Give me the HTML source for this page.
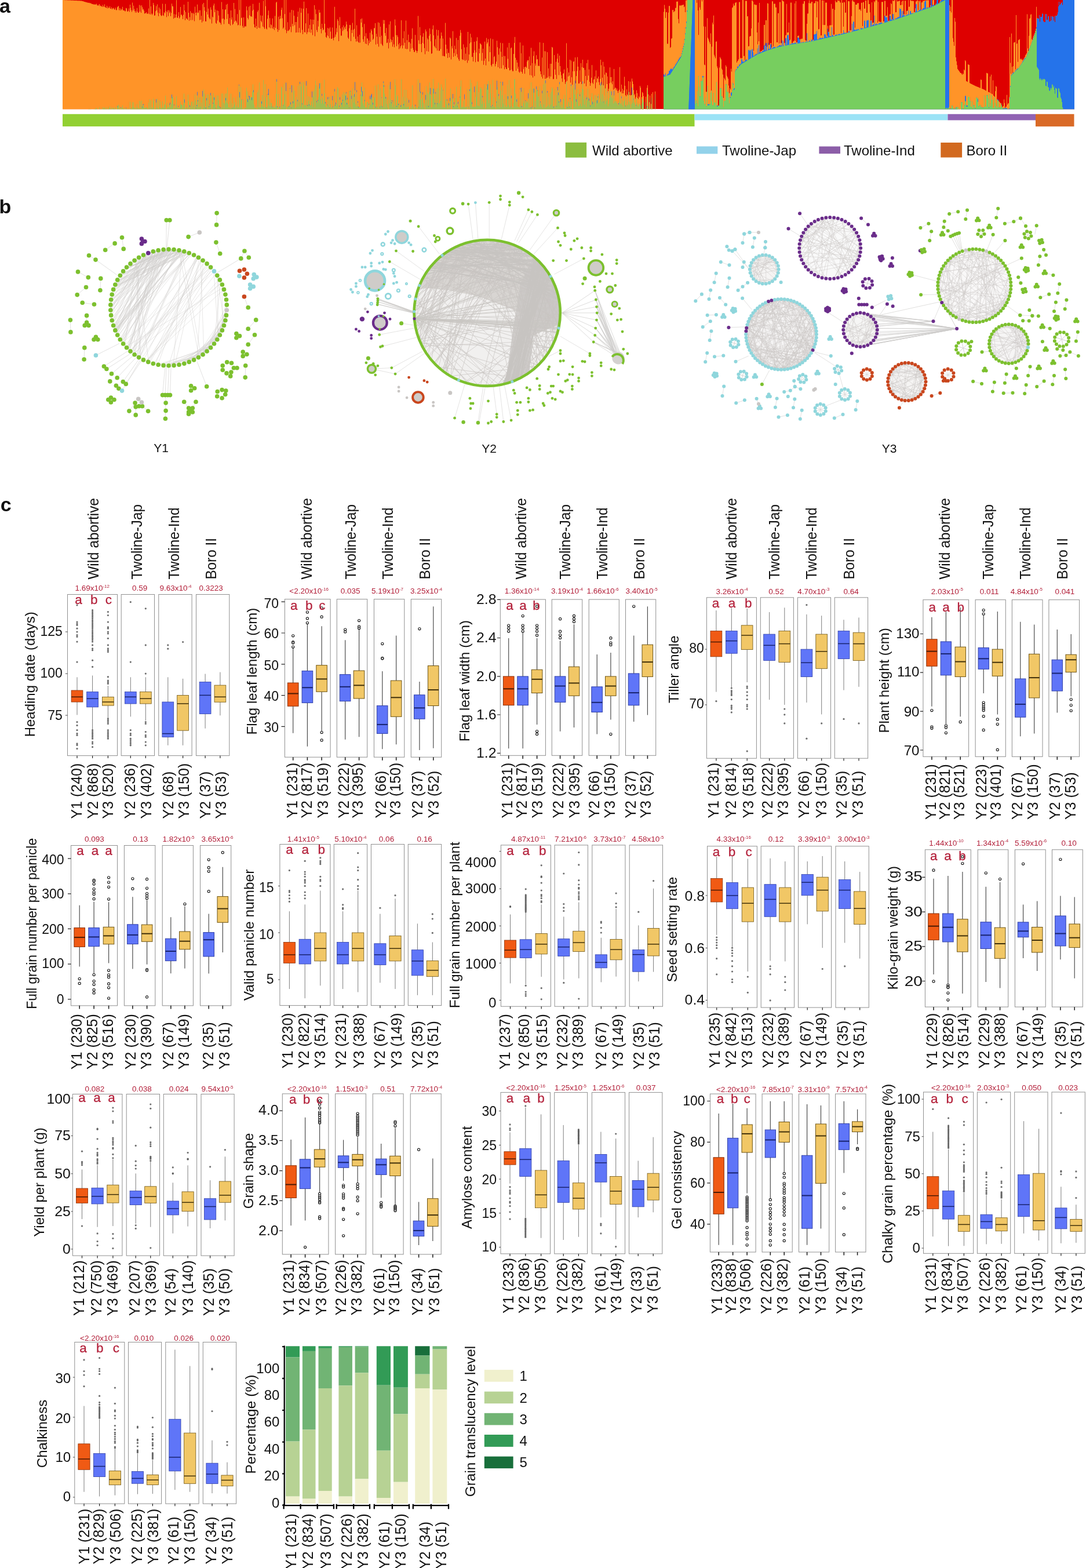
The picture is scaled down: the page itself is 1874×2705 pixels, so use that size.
<!DOCTYPE html>
<html lang="en"><head><meta charset="utf-8"><title>Figure</title>
<style>html,body{margin:0;padding:0;background:#fff}body{width:1874px;height:2705px;overflow:hidden}svg{display:block}text{white-space:pre}</style>
</head><body>
<svg width="1874" height="2705" viewBox="0 0 1874 2705" font-family="&quot;Liberation Sans&quot;, Arial, Helvetica, sans-serif" fill="#111">
<rect width="1874" height="2705" fill="#fff"/>
<g id="panel-a"><rect x="108.5" y="0" width="1745" height="188.1" fill="#de0000"/>
<path d="M108,188.6V0h1V0.1h2V0.2h3V0.3h2V0.4h2V0.5h2V0.6h2V0.7h2V0.8h3V0.9h2V1h2V1.1h2V1.2h3V1.3h2V1.4h2V1.5h1V1.7h1V2h1V2.3h1V2.6h1V2.9h1V3.2h1V3.5h1V3.8h1V4.1h1V4.4h1V4.5h1V4.7h1V5h1V4.8h1V5.7h1V5.2h1V6.2h1V6.7h1V7h1V7.2h1V7.4h1V7.8h1V7.5h1V7.9h1V7.5h1V6.6h1V9.1h1V9.2h1V9.9h1V8.6h1V7.1h1V10.6h1V9.5h1V10.5h1V11h1V12h1V8.4h1V10.9h1V11.9h1V7.6h1V12.3h1V13h1V13.8h1V9.9h1V14.6h1V12.1h1V13.9h1V13.6h1V10.9h1V14.8h1V15.3h1V12.6h1V15.9h1V13.9h1V15.3h1V13.4h1V16.6h1V16.3h1V13.2h1V17.4h1V17.2h1V12.5h1V11.2h1V10.2h1V17.6h1V14h1V18h1V14.9h1V17.5h1V15.8h1V11.7h1V17.7h1V18h2V19.6h1V19.3h1V13.7h1V14.6h1V19.4h1V19.9h1V18.8h1V14.6h1V20.6h1V8h1V13.6h1V17.4h1V20.4h1V4.6h1V17.9h1V9.7h1V15.6h1V19h1V21.7h1V18.7h1V21.8h1V13.8h1V20h1V22.1h1V21.7h1V8.6h1V19.9h1V9.6h1V22h1V9.2h1V12.4h1V16.5h1V15.4h1V18.6h1V23.6h1V23h1V22.4h1V21.1h1V23.5h1V23.8h1V23.2h1V14.4h1V24.3h1V0h1V24.9h1V10.9h1V23.4h1V25.7h1V23.6h1V5.1h1V8.4h1V27h1V26.4h1V19.2h1V10.5h1V17.7h1V7.5h1V21.7h1V28.1h1V13.1h1V23.1h1V15.4h1V26h1V27.8h1V26.8h1V6.6h1V26.3h1V27.5h1V20.9h1V22.7h1V6.8h1V19.3h1V29.6h1V20.8h1V17.8h1V27.8h1V17.6h1V22.4h1V19.9h1V28.1h1V22.2h1V6.2h1V10.5h1V11.3h1V32.2h1V24.3h1V30.9h1V30.2h1V25.1h1V0.3h1V30.3h1V30.9h1V27.8h1V21.1h1V31.9h1V29.7h1V12.1h1V25.8h1V25h1V27.5h1V33.1h1V25.5h1V8h1V18h1V34.7h1V20.8h1V31.4h1V32.5h1V34h1V2.9h1V21.9h1V35.8h1V29.5h1V19.3h1V34.7h1V21.7h1V22.9h1V34.4h1V22h1V24.1h1V36.4h1V11.4h1V22.1h1V26.5h1V21.5h1V7.7h1V22.4h1V21.6h1V17.9h1V34.5h1V17.7h1V34h1V27.2h1V38.8h1V7.2h1V36.6h1V5h1V12.2h1V18.4h1V36.7h1V36.9h1V20.5h1V0h1V25h1V14.7h1V29.4h1V31.5h1V33.2h1V12.4h1V16.8h1V40.6h1V28.4h1V29.7h1V9.6h1V6.3h1V20.9h1V16.6h1V39.6h1V40.9h1V18h1V35.5h1V18.7h1V26.8h1V37.8h1V39.3h1V39.4h1V42.5h1V3.4h1V32.6h1V16h1V32h1V41.6h1V33.7h1V17h1V16h1V8.1h1V32.8h1V6.7h1V24.3h1V40.9h1V41.7h1V30.9h1V43.9h1V17.9h1V33.8h1V30.1h1V42.8h1V40.9h1V5h1V37.4h1V15.6h1V35.6h1V36.6h1V39.3h1V24.3h1V43.8h1V42.8h1V0h1V17.2h1V43.9h1V0h1V31.3h1V30.2h1V44.7h1V47.7h1V30h1V47.5h1V45.3h1V45.4h1V45.5h1V11.1h1V17.7h1V30.9h1V33.4h1V11.7h1V26.5h1V9.9h1V28.2h1V28h1V29h1V18.4h1V6.7h1V16.7h1V41.7h1V47.1h1V47.7h1V32h1V45.1h1V49.8h1V20.4h1V17.7h1V47.7h1V4.8h1V48.4h1V26.6h1V35.9h1V38.3h1V27.1h1V45.8h1V1.6h1V47.3h1V50.1h1V0h1V10.7h1V49.3h1V50.8h1V32.5h1V26.3h1V18.2h1V47.3h1V31.2h1V48.7h1V41.9h1V43.2h1V48.8h1V31.8h1V49.7h1V46.5h1V51.8h1V27.5h1V48.1h1V4.5h1V2.9h1V50.2h1V55h1V28.7h1V51.9h1V33.1h1V27.3h1V31.9h1V17h1V13.2h1V31.4h1V49.5h1V47.4h1V0h1V24.2h1V51.6h1V0h1V57.2h1V53.2h1V38.2h1V53.5h1V52.5h1V50.7h1V21.5h1V46.2h1V55.5h1V17.1h1V41.2h1V45.2h1V18.1h1V27.3h1V43.4h1V37.9h1V56.3h1V38.1h1V55.9h1V29.1h1V19.9h1V56.1h1V48.2h1V13.5h1V56.4h1V21.9h1V14.6h1V51.4h1V58.9h1V14.9h1V2.7h1V55.2h1V56h1V40.3h1V14.1h1V58.8h1V55.6h1V23.2h1V49.2h1V55.4h1V42.9h1V33.2h1V56.4h1V51h1V33.8h1V60.5h1V42.1h1V34.1h1V9.1h1V62.6h1V16.2h1V24.3h1V51.8h1V55.2h1V35.7h1V45.8h1V17h1V22.1h1V21.5h1V50h1V57.4h1V40.9h1V48.2h1V52.3h1V50.7h1V0h1V40.9h1V56.1h1V63.8h1V65.3h1V60.9h1V48.2h1V62.5h1V49.2h1V66.1h1V47.2h1V54.6h1V66.7h1V66.9h1V47.4h1V65.8h1V69.4h1V65.1h1V11.7h1V63.5h1V59.5h1V48.5h1V55.5h1V33.3h1V35.9h1V70.9h1V43.8h1V29.4h1V49.3h1V61.6h1V61.5h1V47.1h1V53.6h1V43.7h1V51.3h1V47.6h1V45.4h1V50.2h1V37.2h1V42.2h1V54.1h1V64.7h1V66.9h1V48.7h1V43h1V43.3h1V71h1V51.6h1V57.1h1V39.4h1V51.5h1V63.6h1V49.7h1V15h1V67.1h1V71.8h1V43.5h1V71.3h1V63h1V72.4h1V73.7h1V60h1V73.6h1V33.1h1V38.9h1V31.7h1V46.7h1V67.7h1V72h1V41.2h1V62.5h1V75.3h1V57.2h1V76h1V66.2h1V66.5h1V78.3h1V69.7h1V74.4h1V56.6h1V71.9h1V50.4h1V53.2h1V59.4h1V68.7h1V66.7h1V48.5h2V40h1V76.7h1V58.3h1V63.2h1V75.7h1V38.5h1V80.6h1V39.5h1V63.8h1V46h1V75.4h1V61.4h1V77.3h1V79.3h1V34.4h1V41.1h1V34.8h1V57h1V61.8h1V48.2h1V74.2h1V73.6h1V67.3h1V83.6h1V42.3h1V73.7h1V36.8h1V67.4h1V72.4h1V69.1h1V80.5h1V63.5h1V76.6h1V81.5h1V33.4h1V44.1h1V60.5h1V79.8h1V60.8h1V63.8h1V76.5h1V84.8h1V74.3h1V83.3h1V79.8h1V35h1V77.9h1V83.6h1V66.1h1V78.4h1V53.8h1V73.7h1V83.9h1V35.5h1V84.8h1V69.2h1V84.4h1V59.7h1V72.7h1V72.4h1V89h1V75h1V83.7h1V67.1h1V48.8h1V82.7h1V85.9h1V89.4h1V89.7h1V60.2h1V86.8h1V87.8h1V91.3h1V88.1h1V27.5h1V69.4h1V75.8h1V46.8h1V60.9h1V75.9h1V89.9h1V74.1h1V63.6h1V57.2h1V75.3h1V82.9h1V93.6h1V50.7h1V54.3h1V88.3h1V65.4h1V68h1V89.1h1V61.7h1V49h1V58.7h1V71.2h1V92.7h1V92.1h1V50.4h1V43.7h1V61h1V79.3h1V81.5h1V67.4h1V83.2h1V51.3h1V87.3h1V61.4h1V52.1h1V87.7h1V87.6h1V66.3h1V84.5h1V56.1h1V61.7h1V96.5h1V66.4h1V96.4h1V97h1V97.3h1V39.5h1V77h1V92.6h1V84.3h1V100h1V91h1V91.5h1V99h1V64.7h1V66.6h1V102.4h1V79.5h1V83.5h1V53.8h1V98.1h1V91.4h1V78.7h1V96.4h1V84.8h1V65.6h1V93.4h1V99.2h1V69.1h1V102.3h1V105.1h1V61.8h1V51.8h1V56.4h1V84.8h1V101.9h1V103.4h1V76.5h1V103.3h1V81.7h1V104.9h1V92.5h1V103.6h1V81.3h1V108.5h1V55.1h1V104.6h1V93.9h1V75h1V58.3h1V73h1V64.4h1V98.3h1V97.9h1V106h1V90.9h1V71.9h1V86.7h1V107.2h1V90.5h1V70.7h1V64.3h1V105.9h1V106.5h1V83.9h1V92h1V74.8h1V75.7h1V77.2h1V104.8h1V91.2h1V83.9h1V111.7h1V104.7h1V71.8h1V101.1h1V112.7h1V65.6h1V75.4h1V72.9h1V67.5h1V106h1V79.8h1V90h1V66.2h1V112.3h1V114.7h1V110.6h1V67.4h1V110.3h1V98.3h1V96.4h1V114.5h1V110.3h1V106.2h1V70.3h1V81.4h1V115.9h1V94.2h1V83.6h1V117.9h1V73.8h1V89.2h1V117.9h1V97.9h1V74.6h1V112.5h1V96.6h1V119.5h1V96.8h1V116h1V119.1h1V119.2h1V81.8h1V101.4h1V117.1h1V73.9h1V121.4h1V120.8h1V83.3h1V81.9h1V120.1h1V122.8h2V92.9h1V74h1V63.7h1V99.8h1V122.1h1V103.6h1V108h1V118.4h1V114.9h1V123.7h1V125.4h1V73.3h1V123.5h1V91.8h1V123.9h1V127h1V78.6h1V119.2h1V115.7h1V127.2h1V115.2h1V114.9h1V117h1V106.2h1V103.7h1V104h1V119h1V97.5h1V129.5h1V112.9h1V82.6h1V130.2h1V108.7h1V133.7h1V96.5h1V88.5h1V131.3h1V109.5h1V113.2h1V95.3h1V102.4h1V102.1h1V113.8h1V113.3h1V114.1h1V73h1V123h1V127.9h1V132.4h1V99.3h1V135.5h1V74h1V129.4h1V88.3h1V135.9h1V88.5h1V135.7h1V134h1V90.1h1V133.7h1V118.1h1V131.5h1V135.6h1V110h1V132.1h1V110.1h1V81h1V82.3h1V136.5h1V136.3h1V94.9h1V119.8h1V129h1V106.6h1V136.3h1V101.3h1V92.5h1V107.9h1V129.5h1V96.1h1V114h1V123.8h1V129.7h1V135.3h1V141.3h1V127.2h1V126.2h1V119.7h1V137.1h1V144.7h1V141.2h1V74.5h1V139.6h1V117.3h1V131.9h1V125h1V130.6h1V103h1V142.6h1V104.4h1V133.3h1V145.9h1V122.9h1V106.5h1V105.8h1V122.7h1V99h1V143.8h1V131.3h1V122.2h1V98.5h1V114.9h1V144.2h1V143.8h1V121.3h1V141.2h1V108.9h1V145.1h1V115.7h1V103.1h1V117.2h1V117.1h1V144.1h1V120.4h1V131.1h1V148.7h1V109.1h1V138.2h1V103.3h1V130.6h1V119.7h1V141.3h1V148h1V143.5h1V133.9h1V112.3h1V142.8h1V144.8h1V137.3h1V136.6h1V131.8h1V152.6h1V121.4h1V142.3h1V134.7h1V136h1V131.9h1V141.7h1V146.5h1V136h1V102.9h1V112.4h1V146.4h1V133.9h1V106.7h1V147.3h1V114.8h1V128.8h1V152.4h1V124.7h1V125.9h1V145h1V131.8h1V157h1V153.1h1V143.6h1V116.2h1V133.1h1V142.5h1V133.1h1V145.2h1V140.3h1V154.8h1V119.1h1V153.4h1V151.2h1V151.4h1V155.5h1V152.7h1V156.8h1V160.2h1V156.5h1V154.7h1V115.7h1V158.9h1V157.6h1V146.1h1V161.1h1V153.2h1V160.9h1V156.1h1V132.4h1V148.1h1V163.9h1V165.9h1V154.2h1V162.7h1V164.4h1V139.9h1V158.7h1V164h1V140.7h1V164.5h1V163.9h1V135.6h1V140.5h1V144.9h1V155.5h1V164.3h1V162.1h1V170.5h1V167.4h1V155.8h1V160.8h1V169h1V171h1V165.9h1V168h1V148.2h1V151.3h1V188.6h1V167.4h1V158.8h1V160.5h1V165.7h1V188.6h3V166.7h1V188.6h1V151.6h1V146.9h1V162.7h1V188.6h1V176.3h1V164.7h1V188.6h1V179.3h1V162.1h1V188.6h1V159.1h1V188.6h3V157.7h1V188.6h14V20.5h1V8.5h1V14.9h1V30.9h1V21.1h1V21h1V75.6h1V75.4h1V21.8h1V10.3h2V82.4h1V81.3h1V66.8h1V65.9h1V17.3h1V17.1h1V21.1h1V19.4h1V19.2h1V13.8h1V13.6h1V2.7h2V2.6h1V32.8h1V40.3h1V9.6h1V9.5h1V9.6h1V9.4h1V9h1V8.7h1V8.3h1V7.9h1V12.3h1V11h1V20.9h1V0.7h1V0.6h1V0.3h1V0h16V4.8h1V0h1V18h1V60.3h1V0h1V12.8h1V16.8h1V0h2V2.4h1V0h2V45.4h1V111.4h1V112.5h1V46h1V158.2h1V158.6h1V31.3h1V65h1V67.3h1V70.3h1V72.9h1V75.9h1V57.5h1V156.4h1V80.6h1V39h1V42h1V26.8h1V94.4h1V97.4h1V100.4h1V72.1h1V71.3h1V114.6h1V117.6h1V181.9h1V182h1V116.4h1V98.4h1V100.4h1V102.4h1V118.4h1V120.4h1V128.5h1V168.9h1V133.9h1V135.9h1V138.4h1V112.6h1V115.1h1V130.7h1V133.2h1V135.7h1V147.5h1V160.7h1V151.9h1V154.3h1V118.5h1V123.5h1V13.5h1V12.4h1V6.2h1V9.7h1V9.6h1V5.3h1V4.2h1V4.1h1V108h1V105.6h1V104.5h1V102.3h1V3.5h2V100.7h1V99.6h1V101.2h1V100h1V0.1h2V96.8h1V96.2h1V103.4h1V1.4h3V28.2h1V28h1V79.9h1V79.4h1V63h1V62.6h1V62.1h1V49h1V1.1h2V3.1h1V87.7h1V7.7h1V7.6h1V8.5h1V8.4h2V55.9h1V76.6h1V38.8h1V71.2h1V5.1h1V89.2h1V88.8h1V88.1h1V87.7h1V86.3h1V85.9h1V85.5h1V43h1V42.8h1V78.9h1V35h1V34.8h1V80.4h1V5.4h1V6.2h1V77.5h1V77.2h1V76.9h1V74.5h1V74.2h1V81.9h1V2.3h2V79.5h1V6.4h3V12.8h1V12.7h1V73.1h1V72.9h1V22.8h1V22.7h1V75.1h1V3.4h2V74.4h1V74.2h1V0.2h1V1.2h1V1.9h1V2.7h1V74.2h1V74h1V60.7h1V60.5h1V6.8h1V56.3h1V56.1h1V55.9h1V38.7h1V69.4h1V68.6h1V4.6h2V74h1V73.9h1V71.6h1V71.5h1V69.9h1V5.7h1V70.7h1V2.1h1V72.9h1V72.8h1V61.9h1V61.8h1V61.6h1V68h1V67.9h1V67.6h1V67.5h1V66.6h1V66.7h1V6.5h2V2h2V69h1V70.1h1V69.9h1V41h1V23.4h1V23.3h1V5.2h1V0.4h1V5.7h1V5.6h2V3h2V68.8h1V68.5h1V5.4h2V5.3h1V1.8h2V30h1V2.4h2V50.5h1V50.3h1V0h2V61.3h1V61.1h1V0.8h2V42.9h1V1h1V43.3h1V43.1h1V4.6h1V4.4h2V61.5h1V44.6h1V55h1V54.8h1V43.7h1V43.5h1V43.4h1V6.8h1V43.3h1V15.2h1V15.1h1V59.7h1V59.5h1V17h1V1.1h1V3.8h2V3.7h1V0.4h1V1.3h3V4h1V4.5h1V56.9h1V0h1V4.8h2V46h1V3.3h1V4.3h1V21.9h1V21.8h1V0h1V56.2h1V55.9h1V1.7h1V2.2h2V52.4h1V52.2h1V51.9h1V27.8h1V1.7h1V0.1h1V2.7h2V3.8h1V47.8h1V8.1h1V8h2V5.4h2V5.3h1V16.4h1V16.3h1V16.2h1V18.8h1V4.8h2V45.1h1V3.8h2V14.9h1V14.8h1V1.1h1V1h1V22.1h1V21.9h1V0.2h2V7.1h1V7h1V21.2h1V35.6h1V35.3h1V3.9h1V39.4h1V39.1h1V38.9h1V2.1h1V4h1V0.7h1V0.3h2V0.6h1V38.9h1V3.2h1V37.1h1V36.8h1V38.3h1V38h1V37.8h1V3.2h1V3.4h1V3.3h1V37.1h1V36.8h1V1.6h2V27.6h1V27.3h1V27h1V12.2h1V36.1h1V35.8h1V35.5h1V24.8h1V24.6h1V5.5h1V6.9h1V32.9h1V1.3h1V1.2h1V2.1h1V0.3h2V21.2h1V21h1V0.3h1V2.6h1V2.5h1V1.7h2V0.9h1V8.9h1V8.7h1V2.7h1V8.4h1V1.7h1V1.1h1V24.8h1V24.5h1V1.3h1V1.2h1V24.8h1V18.9h1V18.6h1V18.4h1V0.2h1V11.7h1V11.6h1V0.6h2V1.6h3V1.8h2V20.7h1V20.4h1V14.2h1V2.4h1V2.3h1V0.7h2V17.1h1V1.6h2V3.9h1V1.1h1V16.4h1V4.2h1V4.1h1V1.4h3V1h1V0.5h1V1.1h1V0.4h5V12.8h1V12.5h1V9h1V0h2V10h1V0.3h1V0.2h1V0h1V9.5h1V9h1V6.8h1V6.3h1V0h3V5.7h1V5.2h1V2.9h1V0.2h1V0.7h1V0.5h1V0h13V9h1V19h1V11.6h1V21.6h1V0h2V65.7h1V72.3h1V79h1V30.9h1V37.6h1V99h1V105.7h1V112.3h1V119h1V120.4h1V121.8h1V123.3h1V124.7h1V126.1h2V127.5h1V128.9h1V126.6h1V128.1h1V120.1h1V121.6h1V104.1h1V105.5h1V140.1h1V140.6h1V141.2h1V111.1h1V111.6h1V112.1h1V143.3h1V143.9h1V144.4h1V144.9h1V145.5h1V146h1V146.6h1V147.1h1V147.6h1V148.1h1V148.5h1V148.9h1V149.3h1V149.7h1V150.1h1V150.6h1V151h1V151.4h1V151.8h1V137.3h1V137.7h1V153h1V153.4h1V153.8h1V154.3h1V154.8h1V155.3h1V155.9h1V156.4h1V125.7h1V126.2h1V126.8h1V158.6h1V159.1h1V159.6h1V131.9h1V160.7h1V128.7h1V161.8h1V162.6h1V138.5h1V164.8h1V165.9h1V167h1V157.3h1V148.6h1V149.7h1V171.3h1V172.4h1V173.5h1V174.5h1V175.6h1V176.7h1V177.8h1V180.8h1V184.4h1V187.9h1V183.4h1V183.3h1V171.6h1V177.8h1V186.2h1V184.2h1V184.1h1V163.8h1V180.5h1V178.3h2V167.4h1V64h1V108.6h1V127.2h1V57.7h1V115.3h1V125.7h1V114.2h1V73.6h1V73h1V72.4h1V119.8h1V25.9h1V75.4h1V74.8h1V106.7h1V69.2h1V68.4h1V67.6h1V102.3h1V101h1V102.9h1V101.6h1V104.3h1V102.9h1V101.5h1V99.7h1V98.3h1V95.2h1V93.8h1V92.1h1V24.6h1V83.4h1V87.9h1V61.7h1V32.2h1V31.2h1V25.3h1V24.5h1V67.6h1V68.8h1V64.7h1V61.8h1V59.3h1V56.8h1V53.6h1V49.7h1V11.7h1V31.6h2V32.3h2V26.6h1V37.8h1V29.3h3V23.8h2V36.3h1V37.9h3V24.6h2V34.5h2V28.2h2V37h2V36.6h1V27.8h1V35.4h1V28.4h2V29.3h1V35.7h1V28.5h1V37.9h1V27.5h3V25.5h1V21.6h1V11h1V3.3h1V9.3h1V7.8h1V6.4h1V4.9h1V3.7h1V8.7h1V0h20V188.6z" fill="#ff9428"/>
<path d="M108,188.6V188.6h44V188.3h2V187.8h1V188.5h1V188.1h1V188.4h1V188.5h2V188.4h1V188.3h1V188.5h1V187.8h1V187.9h1V187.2h1V186h1V188.2h1V188.3h1V188.4h1V188.3h1V185h1V188.3h1V188h1V187.7h1V188.2h1V188.3h1V184.7h1V186.7h1V187.3h1V185h1V187.1h1V187.8h1V188.1h1V184.8h1V188.3h1V188h1V187h1V186.5h1V183.6h1V187.3h1V187.9h1V185.2h1V188.2h1V185.8h1V187.1h1V186h1V188h1V187.6h1V184.4h1V188.4h1V188.1h1V184.2h1V181.7h1V180.7h1V188.1h1V184.1h1V188h1V186h1V187.6h1V185.4h1V181.8h1V187.5h1V187.1h1V186.9h1V188.3h1V187.9h1V186.5h1V187.6h1V187.9h2V186.9h1V187.9h1V188.2h1V175.5h1V187.3h1V186.9h1V187.3h1V176.2h1V184.9h1V176.2h1V186.4h2V188h1V184.8h1V187.8h1V179.4h1V185.7h1V187.4h1V187.1h1V173.9h1V187.7h1V174.3h1V186.9h1V173.6h1V185.3h1V181.3h1V181.1h1V184.9h1V187.3h1V186.5h1V185.8h1V184.3h1V186.8h2V187.9h1V177h1V186.8h1V171.2h1V187.3h1V172.9h1V185.2h1V187.4h1V185.5h1V170h1V174.2h1V188.2h1V187.4h1V187.8h1V177h1V186.1h1V170.2h1V186.3h1V188.1h1V173h1V185h1V175.2h1V186.3h1V187.1h1V185.9h1V174.8h1V185.1h1V186.4h1V179.4h1V181.1h1V165h1V188.5h1V187.6h1V185.4h1V177.8h1V185.5h1V184.8h1V180.8h1V179.8h1V185h1V178.9h1V169.4h1V166.9h1V167.7h1V188.3h1V181.8h1V186.7h1V185.9h1V180.7h1V165.8h1V185.6h1V186h1V184.3h1V187h1V186.5h1V184.2h1V174.8h1V180h1V180.8h1V181.4h1V187.3h1V179.2h1V161.6h1V177.3h1V188h1V186.7h1V185.2h1V185.4h1V187.4h1V163.3h1V174.5h1V188.2h1V184.1h1V182.5h1V187.1h1V175.9h1V174.7h1V186.1h1V182.5h1V175.5h1V187.7h1V162.8h1V173.1h1V186.7h1V183.1h1V164.8h1V174.6h1V185.6h1V168.2h1V184.8h1V167.8h1V184h1V177h1V188.5h1V166.6h1V186.1h1V154.3h1V161.4h1V183h1V186.6h1V186.4h1V173.2h1V162.9h1V188.2h1V163h1V184.6h1V180.5h1V181.2h1V164.4h1V164.5h1V188.2h1V184.7h1V179h1V160.7h1V172.5h1V167.9h1V179.9h1V187.1h1V187.6h1V164.4h1V181.9h1V164.9h1V172.9h1V185h1V185.6h1V186.3h1V188.1h1V161.2h1V185.7h1V161.2h1V177.1h1V186.6h1V178.6h1V161.8h1V173.3h1V161h1V177.2h1V150.9h1V179.4h1V184.9h1V185.6h1V174.6h1V187.6h1V161.4h1V185.9h1V178h1V186.7h1V183.9h1V168.3h1V180.2h1V176h1V187.2h1V184.3h1V181.6h1V166.4h1V185.8h1V184.9h1V147.7h1V168.2h1V185.4h1V150.2h1V172.6h1V172.2h1V186.2h1V188.6h1V170.8h1V188.2h1V185.8h3V151.2h1V157.7h1V175.9h1V173.2h1V167.6h1V171.8h1V171h1V167.4h1V167.2h1V172.8h1V157.7h1V145.5h1V158.9h1V180.2h1V185.6h1V186.4h1V185.8h1V183.1h1V188.1h1V159.4h1V155.4h1V185.2h1V142.2h1V185.6h1V185.2h1V172.9h1V178.9h1V163.9h1V183.9h1V138h1V183.6h1V186.3h1V145h1V167.4h1V186.2h1V186.9h1V183.2h1V164.1h1V163.4h1V182.5h1V171.1h1V183.7h1V176.9h1V177.9h1V184.9h1V185.7h1V184h1V182.3h1V185.9h1V185.3h1V181.8h1V162.3h1V141.1h1V185h1V188.4h1V161.8h1V185.1h1V185h1V183.4h1V187.8h1V149.5h1V151.1h1V185.4h1V182.2h1V179.4h1V144.4h1V162.4h1V183.2h1V156.9h1V188.5h1V184.4h1V183.6h1V184.4h2V181.3h1V152.8h1V179.9h1V186.6h1V159.1h1V184h1V178.3h1V147.6h1V156.6h1V172.5h1V187.3h1V185.5h1V166.7h1V184.5h1V174.5h1V148h1V184h1V176h1V145h1V183.8h1V149.1h1V141.7h1V179.8h1V185.6h1V141.4h1V146h1V181.3h1V182h1V180.9h1V147.7h1V184.7h1V182.4h1V166.1h1V174.1h1V181.7h1V167.5h1V182.3h1V180.9h1V175.1h1V168.1h1V184.2h1V165.7h1V157.5h1V154h1V185.6h1V139.1h1V147h1V176.2h1V177.5h1V174h1V167.7h1V149.4h1V152.6h1V142.9h1V171.3h1V178.5h1V165.3h1V168.9h1V172.9h1V179h1V137.6h1V160.9h1V178.2h1V183.5h1V185.3h1V181.2h1V171.2h1V181.6h1V169.3h1V185.6h1V166h1V179.8h1V185.7h1V185.1h1V173h1V184.7h1V187.1h1V182.8h1V157.8h1V182.3h1V180.1h1V182.7h1V179.1h1V150.1h1V152.5h1V187.4h1V184.1h1V171.9h1V184.7h1V177.5h1V180.6h1V162.7h1V174h1V159h1V183.9h1V162.7h1V160.3h1V172.5h1V161h1V180.1h1V171.5h1V178.8h1V181h1V186.3h1V156.7h1V157.8h1V184.5h1V170.7h1V187.8h1V152.4h1V164.8h1V176.9h1V167h1V156.1h1V179.4h1V183.9h1V158.8h1V183.5h1V177h1V185.5h1V185.1h1V184.9h1V184.7h1V164.6h1V158.4h1V142.3h1V166.3h1V178.1h1V182.3h1V151.3h1V174.2h1V185.7h1V185.1h1V185.6h1V175.7h1V175.9h1V187.8h1V180h1V183.4h1V170.9h1V180.6h1V171.4h1V167.9h1V167.8h1V180.6h1V187.4h1V169.3h1V167.3h1V147.8h1V185.5h1V185.2h1V185.4h1V182.9h1V145.6h1V187.6h1V155.6h1V185.2h1V152.6h1V181.9h1V168.6h1V184.8h1V185.4h1V142.9h1V149.6h1V161.6h1V185.4h1V170h1V168h1V179.4h1V185.5h1V172.2h1V188.4h1V147h1V178.3h1V153.9h1V171.7h1V177.9h1V174.4h1V184.5h1V175.7h1V180.2h1V185.3h1V136.8h1V147.4h1V181.7h1V184h1V163.7h1V166.6h1V180.9h1V187.7h1V176.9h1V186h1V184h1V136.8h1V180h1V185.1h1V167.3h1V181.8h1V154.7h1V174.5h1V184.5h1V154.9h1V185.2h1V169.3h1V184.3h1V184h1V176.8h1V188h1V188.2h1V185.2h1V182.5h1V187.3h1V147.3h1V181.1h1V184h1V187.3h1V187.5h1V183.3h1V184.5h1V185.1h1V188.5h1V186h1V136.5h1V185.5h1V172.2h1V158.5h1V160.8h1V171.8h1V185.6h1V169.6h1V163.3h1V177.4h1V185.6h1V178.2h1V188.3h1V172.2h1V148.6h1V182.4h1V159.4h1V161.8h1V184.6h1V158.7h1V142.3h1V162.4h1V164.2h1V185.5h1V184.8h1V152.6h1V135.9h1V161.5h1V171.1h1V179.8h1V161.5h1V185.1h1V153.5h1V179.6h1V152h1V142.5h1V178.2h1V177.7h1V156.1h1V174.1h1V145.5h1V150.9h1V185.5h1V156.1h1V184.9h1V185.4h2V135.8h1V171.3h1V180.1h1V173.4h1V187.1h1V177.9h1V181.5h1V185.4h1V174.2h1V152.7h1V188.3h1V188.2h1V168.9h1V169.7h1V184.6h1V180.1h1V184.2h1V180.7h1V169h1V149.6h1V177.2h1V183.7h1V179.3h1V185.8h1V188h1V167.9h1V149.3h1V138.7h1V185.4h1V183.8h1V185h1V174.1h1V184.5h1V171.2h1V185.8h1V184.8h1V184h1V183.5h1V188.5h1V153.6h1V184.8h1V188.1h1V157.1h1V137.2h1V151.7h1V142.9h1V179.6h1V184.5h1V183.9h1V184.1h1V159.1h1V184.6h1V184.1h1V167.2h1V147.2h1V140.6h1V182.4h2V159.5h1V183.6h1V150h1V153.4h1V151.9h1V179.3h1V167.7h1V175h1V185.8h1V178.3h1V145.2h1V187.5h1V185.6h1V152.1h1V147.9h1V154.7h1V139.5h1V177.8h1V172.3h1V161.3h1V145.4h1V184.4h1V185.5h1V182.5h1V137.7h1V184.3h1V168.1h1V184.4h2V187.8h1V177h1V154.8h1V149.9h1V184.2h1V165.5h1V170.7h1V185.5h1V142.3h1V156.4h1V184.8h1V164.6h1V147.6h1V178.8h1V171.1h1V185.3h1V162.4h1V181.3h1V184.2h1V184.1h1V146.5h1V170.7h1V181.6h1V138h1V185.3h1V185.1h1V152.3h1V169.6h1V183h1V186.1h1V185.3h1V176.8h1V136h1V136.9h1V161.4h1V183.8h1V175.6h1V169h1V184.3h2V184h1V185.5h1V153.9h1V183.1h1V158.5h1V184.8h1V186h1V152.1h1V177.7h1V174h1V185.3h1V174.3h1V177.5h1V174.3h1V175.1h1V176.8h1V169.6h1V185.3h1V153.8h1V185.5h1V186.5h1V142h1V186.6h1V184.4h1V188.6h1V151.2h1V159.7h1V186.5h1V174.3h1V185.3h1V154h1V155.7h1V156.6h1V166.7h1V166h1V183.6h1V148.9h1V176.4h1V179.7h1V184h1V161.1h1V186.6h1V145.5h1V180.1h1V138.8h1V186.2h1V143.7h1V185.6h1V183.8h1V159.8h1V183h1V167.2h1V180.4h1V184.4h1V161.1h1V180.4h1V158.2h1V150.3h1V152.8h1V184.1h1V185.4h1V164h1V186.4h1V182h1V153.2h1V183.5h1V164.1h1V155.9h1V164.3h1V176.8h1V145.1h1V182.8h1V176.3h1V185.8h1V179.9h1V185.7h1V171.4h1V170.2h1V163.5h1V186.4h1V188.1h1V184.4h1V141.2h1V182.5h1V186h1V174.3h1V176.5h1V185h1V170.5h1V184.3h1V148.3h1V174.5h1V187h1V188h1V147.2h1V152.3h1V163h1V154.7h1V184.1h1V175.5h1V173.6h1V161.7h1V154h1V183.1h1V182.5h1V165.5h1V179.5h1V158.9h1V182.9h1V153.1h1V144.6h1V154.5h1V171.2h1V180.6h1V164.9h1V168.4h1V184.4h1V171.4h1V173.3h1V152.9h1V167.6h1V173.8h1V175.5h1V183.4h1V181.1h1V167.3h1V160.7h1V179.9h1V177.4h1V171.4h1V176.7h1V163.7h1V184.2h1V164.4h1V173.4h1V178.1h1V167.8h1V162.2h1V178.3h1V176.3h1V170.5h1V147.8h1V144.3h1V175.2h1V162.4h1V144.2h1V176.5h1V165.6h1V172.8h1V179.7h1V151.7h1V174.4h1V171.5h1V159.2h1V183.2h1V178.9h1V169.1h1V156.2h1V158.1h1V167.3h1V164h1V169.4h1V164.3h1V178.6h1V164.5h1V176.7h1V174.2h1V174.3h1V178h1V174.9h1V178.7h1V181.9h1V180.2h1V175.9h1V160.2h1V179.5h1V178h1V169.4h1V181.5h1V172.8h1V184.5h1V175.2h1V172.9h1V166.7h1V183.5h1V184h1V172.1h1V180.2h1V181.7h1V156.9h1V175.5h1V180.6h1V174.2h1V186.2h1V179.6h1V163.2h1V177.6h1V161h1V171.4h1V178.8h1V176.3h1V184.4h1V182.2h1V169.2h1V178.3h1V181.9h1V183.7h1V178.4h1V180.1h1V181.6h1V182h1V188.6h1V178.6h1V169.7h1V171.1h1V176h1V188.6h3V176h1V188.6h1V184.8h1V155.4h1V182.6h1V188.6h1V184.6h1V172.2h1V188.6h1V186.8h1V168.8h1V188.6h1V186.1h1V188.6h3V162.4h1V188.6h14V188.6z" fill="#77ce5f" fill-opacity="0.7"/>
<path d="M202,183.2h1v1.0h-1zM208,185.0h1v0.9h-1zM217,185.5h1v1.0h-1zM245,184.0h1v1.2h-1zM246,180.6h1v0.7h-1zM247,179.4h1v1.7h-1zM269,171.2h1v5.8h-1zM292,179.6h1v1.2h-1zM293,176.9h1v2.8h-1zM296,162.9h1v6.6h-1zM300,180.3h1v1.5h-1zM307,182.8h1v1.5h-1zM318,171.4h1v5.9h-1zM321,184.4h1v0.7h-1zM327,181.8h1v2.4h-1zM338,185.8h1v0.9h-1zM339,181.0h1v2.1h-1zM340,158.4h1v6.4h-1zM341,173.0h1v1.7h-1zM349,156.8h1v9.8h-1zM354,185.7h1v0.9h-1zM355,185.7h1v0.7h-1zM356,169.2h1v4.0h-1zM360,183.2h1v1.4h-1zM361,179.6h1v0.9h-1zM363,160.3h1v4.1h-1zM367,177.0h1v2.0h-1zM369,167.9h1v4.6h-1zM372,186.3h1v0.7h-1zM378,183.8h1v1.2h-1zM380,185.1h1v1.2h-1zM389,169.0h1v4.3h-1zM401,185.9h1v0.7h-1zM412,146.1h1v1.5h-1zM413,158.8h1v9.4h-1zM417,171.4h1v0.8h-1zM427,170.8h1v5.2h-1zM429,165.0h1v2.6h-1zM430,166.1h1v5.7h-1zM434,168.0h1v4.8h-1zM437,155.4h1v3.5h-1zM451,175.1h1v3.8h-1zM459,185.2h1v1.0h-1zM462,161.7h1v2.4h-1zM463,153.5h1v9.9h-1zM469,184.1h1v0.8h-1zM477,136.4h1v4.7h-1zM478,183.6h1v1.4h-1zM482,183.9h1v1.1h-1zM488,181.5h1v0.7h-1zM493,142.5h1v14.5h-1zM498,183.3h1v1.1h-1zM500,152.0h1v0.8h-1zM501,176.5h1v3.4h-1zM502,185.6h1v0.9h-1zM503,147.1h1v12.1h-1zM505,174.8h1v3.4h-1zM513,172.2h1v2.3h-1zM517,141.0h1v4.0h-1zM521,178.3h1v1.6h-1zM528,139.7h1v8.0h-1zM530,180.9h1v1.5h-1zM533,180.2h1v1.5h-1zM538,157.7h1v10.4h-1zM546,174.3h1v2.0h-1zM548,172.2h1v1.7h-1zM551,143.8h1v8.9h-1zM555,161.8h1v3.5h-1zM561,175.9h1v2.3h-1zM564,180.3h1v0.9h-1zM565,167.5h1v3.7h-1zM567,168.2h1v1.1h-1zM568,184.9h1v0.7h-1zM573,165.4h1v7.5h-1zM574,183.7h1v1.0h-1zM577,153.4h1v4.4h-1zM578,180.8h1v1.5h-1zM579,176.7h1v3.4h-1zM585,182.6h1v1.5h-1zM586,167.4h1v4.5h-1zM589,177.2h1v3.4h-1zM591,172.2h1v1.8h-1zM596,164.9h1v7.6h-1zM597,159.3h1v1.7h-1zM598,177.6h1v2.5h-1zM599,168.4h1v3.1h-1zM602,185.4h1v0.9h-1zM604,156.8h1v1.0h-1zM606,164.9h1v5.8h-1zM611,162.2h1v4.8h-1zM612,141.5h1v14.6h-1zM615,155.5h1v3.4h-1zM617,174.7h1v2.3h-1zM618,183.9h1v1.6h-1zM622,163.4h1v1.2h-1zM623,149.7h1v8.7h-1zM625,157.2h1v9.1h-1zM629,172.5h1v1.7h-1zM636,178.9h1v1.1h-1zM638,165.4h1v5.5h-1zM640,163.7h1v7.7h-1zM641,161.7h1v6.2h-1zM643,177.0h1v3.6h-1zM648,184.3h1v1.3h-1zM655,184.3h1v0.9h-1zM658,167.8h1v0.8h-1zM659,183.6h1v1.2h-1zM661,140.4h1v2.5h-1zM662,147.0h1v2.7h-1zM665,167.3h1v2.7h-1zM673,141.3h1v12.6h-1zM675,176.6h1v1.4h-1zM676,173.1h1v1.3h-1zM678,174.8h1v0.8h-1zM684,182.8h1v1.2h-1zM687,179.1h1v1.8h-1zM691,181.8h1v2.2h-1zM696,179.5h1v2.3h-1zM705,172.3h1v4.6h-1zM716,180.6h1v2.7h-1zM722,184.5h1v1.0h-1zM724,143.0h1v15.4h-1zM725,158.0h1v2.8h-1zM729,159.0h1v4.3h-1zM734,163.8h1v8.4h-1zM739,182.7h1v1.9h-1zM742,151.8h1v10.6h-1zM748,153.0h1v8.5h-1zM750,177.6h1v2.2h-1zM751,158.9h1v2.5h-1zM754,178.1h1v1.5h-1zM764,155.2h1v0.9h-1zM771,171.6h1v1.8h-1zM774,178.2h1v3.3h-1zM776,168.7h1v5.5h-1zM781,161.9h1v7.8h-1zM782,183.1h1v1.5h-1zM783,176.2h1v3.9h-1zM789,182.7h1v1.0h-1zM790,175.5h1v3.8h-1zM793,166.8h1v1.1h-1zM801,162.7h1v8.5h-1zM808,184.2h1v0.6h-1zM810,154.1h1v3.0h-1zM814,176.5h1v3.1h-1zM818,149.2h1v9.9h-1zM832,165.5h1v2.2h-1zM841,145.2h1v9.5h-1zM847,183.3h1v1.1h-1zM849,181.1h1v1.4h-1zM856,175.2h1v1.9h-1zM857,139.0h1v15.8h-1zM860,162.2h1v3.4h-1zM863,141.2h1v1.2h-1zM867,141.1h1v6.5h-1zM876,165.9h1v4.8h-1zM880,184.4h1v0.7h-1zM882,164.9h1v4.7h-1zM891,171.4h1v4.2h-1zM897,152.5h1v1.3h-1zM899,151.2h1v7.4h-1zM900,183.0h1v1.8h-1zM906,173.0h1v1.3h-1zM911,160.8h1v8.9h-1zM915,185.5h1v1.0h-1zM917,185.6h1v1.0h-1zM918,183.5h1v0.9h-1zM921,152.9h1v6.8h-1zM922,185.6h1v0.9h-1zM925,148.9h1v5.1h-1zM927,155.3h1v1.3h-1zM932,175.0h1v1.4h-1zM935,156.5h1v4.6h-1zM941,138.6h1v5.0h-1zM944,156.9h1v2.8h-1zM955,183.7h1v1.7h-1zM960,182.7h1v0.8h-1zM962,150.0h1v5.9h-1zM963,159.4h1v4.9h-1zM964,175.1h1v1.7h-1zM965,141.5h1v3.7h-1zM967,170.9h1v5.4h-1zM979,184.9h1v1.1h-1zM982,184.0h1v1.0h-1zM983,168.9h1v1.7h-1zM985,145.8h1v2.5h-1zM992,139.1h1v15.5h-1zM994,171.0h1v4.6h-1zM1000,163.1h1v2.4h-1zM1005,140.3h1v4.3h-1zM1012,167.8h1v3.6h-1zM1016,170.0h1v3.8h-1zM1018,181.9h1v1.5h-1zM1022,175.6h1v4.2h-1zM1030,172.8h1v5.3h-1zM1031,166.6h1v1.3h-1zM1036,143.9h1v3.9h-1zM1037,141.5h1v2.8h-1zM1041,175.4h1v1.0h-1zM1048,158.1h1v1.1h-1zM1055,157.6h1v6.4h-1zM1059,156.2h1v8.3h-1zM1067,177.9h1v2.2h-1zM1072,166.2h1v3.2h-1zM1079,182.3h1v1.2h-1zM1090,151.1h1v12.1h-1zM1093,170.2h1v1.2h-1zM1097,181.1h1v1.2h-1zM1116,183.0h1v1.8h-1z" fill="#2573ea" fill-opacity="0.8"/>
<path d="M1145,188.6V127.9h1V129.1h1V131.1h1V126.6h1V130.7h1V130.4h1V128.3h1V128h1V126.8h1V122.3h1V122h1V119.8h1V118.2h1V119.6h1V118h1V120h1V118.4h1V115.9h1V115.1h1V113.5h1V111.5h1V109.9h1V108.5h1V106.9h1V105.3h1V103.1h1V101.9h1V100.1h1V98.5h1V98.3h1V95.9h1V91.8h1V87.4h1V83.3h1V79.2h1V75.3h1V67.3h1V57.5h1V47h1V37.2h1V18h1V0h13V179h1V172.9h2V178.2h1V157h1V183.4h1V131.5h1V149.8h1V166.2h2V139.8h3V130.9h2V174.2h1V179.7h2V168.8h1V183.5h2V148.1h1V179.8h3V179.4h2V160.2h1V156.4h1V175.1h1V181.8h2V160.1h1V176.9h3V183.1h1V141.8h1V182.1h2V182.4h2V172.4h1V152.4h3V166.4h2V172.5h1V184.8h1V173.9h3V145.5h2V158.7h3V168h1V178.7h1V167.3h2V159.6h2V155.6h1V142.8h1V144.4h1V153h1V151.7h1V123.3h1V120.5h1V119.3h1V119.1h1V115.3h1V114.1h1V115.3h1V112h1V110.8h1V110.6h1V109.4h1V102h1V102.8h1V106.4h1V105.8h1V106.7h1V106.1h1V104.4h1V103.4h1V102.8h1V102.2h1V104h1V103.4h1V86.4h1V85.8h1V87.4h1V86.8h1V86.2h1V99.5h1V85.2h1V84.6h1V89.8h1V96.5h1V95.7h1V95.1h1V93.8h1V93.2h1V92.6h1V93.4h1V83.3h1V92.6h1V77.9h1V90.2h1V90.1h1V89.7h1V90.1h1V89.7h1V87.9h1V87.5h1V87.1h1V78.4h1V78h1V87h1V74.6h1V74.2h1V86.7h1V86.3h1V73.7h1V84.6h1V84.3h1V84h1V76.5h1V76.2h1V84.5h1V83h1V82.7h1V80.4h1V81.4h1V81.1h1V80.8h1V82.5h1V82.2h1V80.8h1V80.5h1V79.8h1V79.5h1V78.3h1V77.9h1V77.7h1V78.8h1V78.6h1V69.4h1V79.6h1V71.1h1V78.6h1V78.9h1V78.7h1V65.9h1V65.7h1V77.3h1V60.7h1V60.5h1V60.3h1V68.2h1V76.9h1V75.9h2V75.8h1V74.3h1V74.2h1V74.9h1V74.8h1V73.7h1V74.5h1V74h1V72.8h1V75.2h1V75h1V65h1V64.9h1V64.7h1V68.6h1V68.5h1V73.7h1V73.5h1V72.7h1V73.7h1V72.4h1V72.3h1V73.2h1V73h1V72.2h1V72h1V71.9h1V57.2h1V72.1h1V71.9h1V71h1V69h1V71h1V70.9h1V70.7h1V68.3h1V68.1h1V70.6h1V70.4h1V59.5h1V59.3h1V59.1h1V58.5h1V58.3h1V53.6h1V67.9h1V67.7h1V67.4h1V67.1h1V65.3h1V65h1V66.3h1V66h1V65.1h1V64.8h1V65.9h1V65.4h1V59.3h1V59h1V59.8h1V63.1h1V62.8h1V64.4h1V49.6h1V55.5h1V55.3h1V62.1h1V61.9h1V61.7h1V62.7h1V46.7h1V60.7h1V60.5h1V62.2h1V62h1V61.6h1V60.1h1V60h1V59.8h1V59.6h1V60.8h1V58.9h1V58.7h1V58.4h1V58.8h1V59.6h1V57.7h1V58h1V57.9h1V57.7h1V51.9h1V57.1h1V55.8h1V57.2h1V56.9h1V56.1h1V56.7h1V56.4h1V56.6h1V53.6h1V53.3h1V55.9h1V55.6h1V55.4h1V54.9h1V41.1h1V54.2h1V37.6h1V37.3h1V51h1V51.8h1V51.4h1V51.1h1V50.8h1V50.7h1V50.4h1V50.1h1V51.5h1V51.2h1V50.9h1V47.9h1V48.9h1V48.6h1V49h1V49.6h1V49.3h1V35.8h1V35.5h1V47.6h1V47.3h1V35.5h1V35.2h1V34.8h1V34.5h1V46.9h1V46.6h1V45.9h1V36h1V35.8h1V44.7h1V42.9h1V42.6h1V42.3h1V26.8h1V44.2h1V41.6h1V40.7h1V40.4h1V42.2h1V41.1h1V42.2h1V40.2h1V39.9h1V39.4h1V39.2h1V38.8h1V38.5h1V40.2h1V39.9h1V39.7h1V39.4h1V27.5h1V27.2h1V30h1V29.7h1V29.4h1V35.7h1V37.1h1V36.8h1V36.5h1V27.2h1V26.9h1V34.1h1V32.9h1V34.6h1V24.2h1V23.9h1V33.4h1V33.8h1V33.5h1V31.6h1V31.3h1V31.7h1V29.9h1V29.6h1V29.2h1V28.9h1V14.3h1V15.7h1V15.3h1V29.6h1V19.1h1V26.9h1V19.1h1V25.9h1V25.5h1V27.6h1V27.2h1V26.1h1V25.7h1V25.4h1V25h1V18.3h1V24.9h1V24.6h1V19.5h1V19.1h1V23.1h1V22.7h1V22.4h1V23h1V22.6h1V22.3h1V22h1V19.9h1V7.3h1V6.9h1V19.7h1V19.4h1V18.9h1V17.7h1V17.4h1V4.1h1V16.1h1V17.7h1V17h1V16.6h1V14.4h1V14h1V13.7h1V3.6h1V1.8h1V1.1h1V15.3h1V13h1V12.7h1V13.6h1V13.3h1V13h1V12.6h1V11.8h1V0h2V11h1V8.4h1V7.9h1V8.5h1V9.7h1V9.2h1V7.4h1V6.9h1V0h3V5.8h1V5.3h1V4.4h1V3.1h1V1.4h1V0.9h1V0h13V187.1h2V187.2h2V182.5h2V185.8h1V187.7h2V187.8h2V185.3h1V184.8h3V188.4h1V185.2h1V187.9h1V188.5h2V176.4h3V187.5h2V181.4h2V165.5h2V181.9h3V166.9h3V174.3h2V184h2V175.3h1V187.6h1V181.6h3V186.2h2V168.8h3V170.5h1V183.4h2V181.2h2V184.6h2V185.2h1V185.5h3V164.8h1V183.9h3V164.5h3V170.5h1V184.8h1V161.9h1V178.4h1V183.3h1V164h1V172h2V186h3V168.5h1V177.8h1V183.7h2V186.4h1V171.5h1V172h1V185.4h4V178.6h1V181.8h1V185h1V187.2h1V187.1h1V186.4h1V187.3h1V186.2h1V186.1h1V186h1V186.8h1V187.5h1V188h2V187h1V167.9h1V148.3h1V130.6h1V128.7h1V127.9h1V126.2h1V124.8h1V125.5h1V124.6h1V123.6h1V121.1h1V121.5h1V119.6h1V118.6h1V118.3h1V117.4h1V115.9h1V114.5h1V112.8h1V111.4h1V109.8h1V108.4h1V106.2h1V104.8h1V103.4h1V101.5h1V100.1h1V99.9h1V98.5h1V96.7h1V93.4h1V90.9h1V89.2h1V85.3h1V83.3h1V80.6h1V78.3h1V75.6h1V72.4h1V70h1V67.2h1V64.4h1V61.8h1V58.7h1V55.4h1V51.4h1V47.1h1V31.6h2V32.3h2V26.6h1V37.8h1V29.3h3V23.8h2V36.3h1V37.9h3V24.6h2V34.5h2V28.2h2V37h2V36.6h1V27.8h1V35.4h1V28.4h2V29.3h1V35.7h1V28.5h1V37.9h1V27.5h3V25.5h1V21.6h1V11h1V3.3h1V9.3h1V7.8h1V6.4h1V4.9h1V3.7h1V8.7h1V0h20V188.6z" fill="#2573ea"/>
<path d="M1145,188.6V132.4h1V132.1h1V131.7h1V131.4h1V131h1V130.7h1V130.3h1V130h1V129.6h1V129.3h1V128.9h1V128.4h1V126.8h1V125.2h1V123.7h1V122.1h1V120.5h1V118.9h1V117.3h1V115.7h1V114.1h1V112.5h1V110.9h1V109.3h1V107.7h1V106.1h1V104.5h1V102.9h1V101.3h1V99.7h1V97.4h1V93.3h1V89.2h1V85h1V80.9h1V76.8h1V68.8h1V59h1V49.3h1V39.6h1V20.3h1V0h2V188.6h11V179h1V172.9h2V178.2h1V157h1V183.4h1V131.5h1V149.8h1V166.2h2V139.8h3V133.6h2V174.2h1V179.7h2V168.8h1V183.5h2V148.1h1V181.6h3V179.4h2V160.2h1V156.4h1V175.1h1V181.8h2V160.1h1V176.9h3V183.1h1V141.8h1V183.6h2V182.4h2V172.4h1V152.4h3V166.4h2V172.5h1V184.8h1V173.9h3V145.5h2V158.7h3V168h1V178.7h1V168.4h2V164.9h2V156h1V143.2h1V146.1h1V155.5h1V154.1h1V123.9h1V121.8h1V120.6h1V119.4h1V118.2h1V117h1V115.8h1V114.6h1V113.4h1V112.2h1V111h1V110.4h1V109.8h1V109.2h1V108.6h1V108h1V107.4h1V106.8h1V106.2h1V105.6h1V105h1V104.4h1V103.8h1V103.2h1V102.6h1V102h1V101.4h1V100.8h1V100.1h1V99.5h1V98.9h1V98.3h1V97.8h1V97.2h1V96.6h1V96h1V95.4h1V94.8h1V94.2h1V93.7h1V93.3h1V92.9h1V92.5h1V92.1h1V91.7h1V91.3h1V90.9h1V90.5h1V90.1h1V89.7h1V89.3h1V88.9h1V88.5h1V88.1h1V87.7h1V87.3h1V86.9h1V86.5h1V86.2h1V85.9h1V85.6h1V85.3h1V85h1V84.7h1V84.4h1V84.1h1V83.8h1V83.5h1V83.2h1V82.9h1V82.6h1V82.3h1V82h1V81.7h1V81.4h1V81.1h1V80.8h1V80.6h1V80.4h1V80.2h1V80h1V79.8h1V79.6h1V79.4h1V79.2h1V79h1V78.8h1V78.6h1V78.4h1V78.2h1V78h1V77.8h1V77.6h1V77.4h1V77.2h1V77.1h1V76.9h1V76.7h1V76.6h1V76.4h1V76.3h1V76.1h1V76h1V75.8h1V75.7h1V75.5h1V75.4h1V75.2h1V75h1V74.9h1V74.7h1V74.6h1V74.4h1V74.3h1V74.1h1V74h1V73.8h1V73.7h1V73.5h1V73.3h1V73.2h1V73h1V72.9h1V72.7h1V72.6h1V72.4h1V72.3h1V72.1h1V71.9h1V71.8h1V71.6h1V71.5h1V71.3h1V71.1h1V70.8h1V70.6h1V70.4h1V70.2h1V69.9h1V69.7h1V69.5h1V69.2h1V69h1V68.8h1V68.6h1V68.3h1V68.1h1V67.9h1V67.7h1V67.4h1V67.2h1V67h1V66.7h1V66.5h1V66.3h1V66.1h1V65.8h1V65.6h1V65.4h1V65.2h1V64.9h1V64.7h1V64.5h1V64.2h1V64h1V63.8h1V63.6h1V63.3h1V63.1h1V62.9h1V62.7h1V62.4h1V62.2h1V62h1V61.7h1V61.5h1V61.3h1V61.1h1V60.8h1V60.6h1V60.4h1V60.2h1V59.9h1V59.7h1V59.5h1V59.2h1V59h1V58.8h1V58.6h1V58.3h1V58.1h1V57.9h1V57.6h1V57.3h1V57h1V56.8h1V56.5h1V56.2h1V56h1V55.7h1V55.4h1V55.1h1V54.9h1V54.6h1V54.3h1V54h1V53.8h1V53.5h1V53.2h1V52.9h1V52.7h1V52.4h1V52.1h1V51.8h1V51.6h1V51.3h1V51h1V50.8h1V50.5h1V50.2h1V49.9h1V49.7h1V49.4h1V49.1h1V48.8h1V48.6h1V48.3h1V48h1V47.8h1V47.5h1V47.2h1V46.9h1V46.7h1V46.4h1V46.1h1V45.8h1V45.6h1V45.3h1V45h1V44.7h1V44.5h1V44.2h1V43.9h1V43.7h1V43.4h1V43.1h1V42.8h1V42.6h1V42.3h1V42h1V41.7h1V41.4h1V41.1h1V40.8h1V40.5h1V40.2h1V39.9h1V39.6h1V39.3h1V39h1V38.7h1V38.4h1V38.1h1V37.8h1V37.5h1V37.2h1V36.9h1V36.6h1V36.3h1V36h1V35.7h1V35.4h1V35.1h1V34.8h1V34.5h1V34.2h1V33.9h1V33.6h1V33.3h1V33h1V32.7h1V32.3h1V32h1V31.6h1V31.3h1V30.9h1V30.6h1V30.2h1V29.9h1V29.5h1V29.2h1V28.8h1V28.5h1V28.1h1V27.8h1V27.4h1V27.1h1V26.7h1V26.4h1V26h1V25.6h1V25.3h1V24.9h1V24.6h1V24.2h1V23.9h1V23.5h1V23.2h1V22.8h1V22.5h1V22.1h1V21.8h1V21.4h1V21.1h1V20.8h1V20.4h1V20.1h1V19.7h1V19.4h1V19h1V18.7h1V18.4h1V18h1V17.7h1V17.3h1V17h1V16.6h1V16.3h1V15.9h1V15.6h1V15.3h1V14.9h1V14.6h1V14.2h1V13.9h1V13.5h1V13.2h1V12.9h1V12.5h1V12.2h1V11.7h1V11.2h1V10.7h1V10.2h1V9.7h1V9.2h1V8.7h1V8.2h1V7.7h1V7.2h1V6.7h1V6.2h1V5.7h1V5.2h1V4.6h1V4.1h1V3.6h1V3.1h1V2.6h1V2.1h1V1.6h1V1h1V0.3h1V187.6h1V186.6h1V185.9h1V187.8h1V186.1h1V186.9h1V184.7h1V187.3h2V187.6h2V182.5h2V185.8h1V187.7h2V188.1h2V186.5h1V184.8h3V188.5h1V185.2h1V187.9h1V188.5h2V176.4h3V187.5h2V181.4h2V174.7h2V183.7h3V166.9h3V174.3h2V184h2V175.3h1V188h1V181.6h3V186.7h2V168.8h3V175.8h1V183.4h2V181.2h2V184.6h2V185.2h1V185.5h3V164.8h1V183.9h3V164.5h3V170.5h1V186h1V161.9h1V178.4h1V183.3h1V164h1V172h2V186h3V168.5h1V177.8h1V183.7h2V186.6h1V173h1V173.4h1V185.4h4V178.6h1V181.8h1V185h1V187.9h1V187.8h2V187.7h1V187.6h1V187.5h1V187.4h1V187.3h1V188.6h4V169.5h1V150.1h1V130.7h1V129.7h1V128.7h1V127.8h1V126.8h1V125.8h1V124.8h1V123.8h1V122.8h1V121.9h1V120.9h1V119.9h1V118.9h1V117.4h1V116h1V114.6h1V113.2h1V111.8h1V110.3h1V108.9h1V107.5h1V106.1h1V104.7h1V103.3h1V101.8h1V100.4h1V99h1V97.2h1V94.5h1V91.9h1V89.2h1V86.5h1V83.9h1V81.2h1V78.5h1V75.9h1V73.2h1V70.6h1V68.1h1V65.5h1V62.9h1V60.3h1V57h1V53h1V49h1V115.4h1V117.2h1V118.6h1V120.4h1V135.6h1V137.8h1V135.1h1V136.9h1V138.7h1V136.2h1V138h1V136.5h1V136h1V136.8h1V137.6h1V148h1V148.8h1V140.7h1V141.5h1V150.1h1V150.9h1V156.1h1V156.9h1V151.5h1V154.8h1V152.1h1V145.5h1V146.3h1V150.8h1V148.2h1V155.1h1V161.4h1V151.6h1V152.4h1V153.1h1V168.2h1V169h1V152.1h1V152.9h1V158.1h1V160.6h1V168.2h1V170.7h1V176.1h1V185h1V187.5h1V188.6h19V188.6z" fill="#77ce5f"/>
<path d="M1186.5,0H1195.5L1188.3,188.6H1186.5z" fill="#77ce5f"/>
<path d="M1195.5,0H1198.7V188.6H1188.3z" fill="#2573ea"/>
<rect x="108" y="196.8" width="1090.5" height="21.3" fill="#92d032"/>
<rect x="1198.5" y="196.8" width="437" height="10.6" fill="#9be3f6"/>
<rect x="1635.5" y="196.8" width="151.5" height="10.6" fill="#9163b3"/>
<rect x="1787" y="196.8" width="66.5" height="21.4" fill="#d96a27"/>
<rect x="975.7" y="245.8" width="36.4" height="26" fill="#8bbd3f"/>
<rect x="1202" y="252.5" width="36.3" height="12.9" fill="#93d2ea"/>
<rect x="1413.4" y="252.6" width="36.6" height="12.5" fill="#8c5ea8"/>
<rect x="1623.3" y="246" width="36.8" height="25.6" fill="#d2691f"/>
<text x="1022" y="267.7" font-size="24">Wild abortive</text>
<text x="1246" y="267.7" font-size="24">Twoline-Jap</text>
<text x="1456" y="267.7" font-size="24">Twoline-Ind</text>
<text x="1667.5" y="267.7" font-size="24">Boro II</text></g>
<g id="panel-b"><path d="M254.4,437L198.4,569.2M266.9,433L196.9,565.2M292.2,430.1L214.3,465.8M234.6,447.5L241.5,617.8M256.4,436.3L191,521.9M328.3,437.2L201.4,485.2M313.1,432.5L195.2,500.8M293.6,430.1L207.5,474.9M293.1,430.1L202.1,576.9M282,430.5L198.8,570M296.8,430.2L217.4,462.2M305.4,431.1L190.8,525.2M260.3,434.9L199.7,488.8M315.9,433.2L196.2,497.5M301.5,430.6L199.2,570.8M301,430.6L202.1,576.9M269.3,432.4L209.4,588.8M274.2,431.5L219.1,600.4M317.2,433.5L229,451.6M245.1,441.2L190.7,531.7M325.4,436.1L202.4,483.4M292.3,430.1L196.8,495.9M280.4,430.6L191.2,519.8M265.1,433.5L196.6,564.3M288.1,430.1L207.4,585.9M297.8,430.3L204.2,580.8M315,433L200.4,573.5M296.8,430.2L208.2,473.7M315.4,433.1L198.6,569.6M319.7,434.2L193.3,507.5M301,430.6L206.6,476.2M312.6,432.4L191.8,515.4M258.8,435.4L197.2,494.7M314.8,432.9L200.4,573.6M240.9,443.5L230.7,610.6M270.9,432.1L197.1,495.2M259.6,435.1L212.6,593.1M316.6,433.4L234.9,447.2M291.1,430.1L215.5,464.3M301.5,430.6L198.5,491.5M317.4,433.6L198.8,569.9M280.2,430.7L221.4,602.7M261.1,434.6L197.4,494.3M289.6,430.1L215.9,463.9M250.6,438.6L193.4,553.8M290.7,430.1L205.5,478M237,445.9L242.9,618.5M261.5,434.5L231.5,611.2M318.9,434L203.3,481.8M275.8,431.2L191.6,544.4M294,430.1L190.9,537.3M285.6,430.2L192.5,549.3M323.1,435.3L197,495.3M272.9,431.7L201.3,575.5M254.3,437L190.7,534M326.6,436.6L197.6,493.8M284.5,430.3L214.5,465.5M271.3,432L194.4,557.5M235.1,447.1L215.5,596.6M292.9,430.1L215.2,464.7M292.4,430.1L191.3,519.7M297.6,430.3L196,498.2M300.3,430.5L193,552.1M235.3,447L191.2,519.8M297.2,430.3L207.2,585.6M255.6,436.5L193.9,555.5M288.9,430.1L194.9,501.8M266.3,433.2L190.9,523.2M266.8,433L196.5,564.1M260.2,434.9L191,539.1M306.8,431.3L228.9,451.6M286.6,430.2L196.8,564.9M261.2,434.6L191.8,515.2M309.9,431.9L209.4,472.1M249.7,439L194.7,558.6M299.4,430.4L215.5,464.4M262.3,434.3L190.7,530.5M312.8,432.5L196.9,495.7M314.9,433L219.3,460.3M263.7,433.9L200.9,574.6M317.8,433.7L198,492.7M253.2,437.5L193.1,508.6M282.6,430.4L199.3,489.7M310.2,431.9L194.2,556.9M249.4,439.1L190.8,536.1M310.2,431.9L190.7,527.9M310.1,431.9L201.3,485.5M244.5,441.5L191.5,543.4M308.9,431.7L206.1,477M264.6,433.6L191.2,540.4M271.8,431.9L190.7,532M321.2,434.7L225.5,454.4M233.9,448L256.6,624.7M317.3,433.6L199.2,570.8M273.2,431.7L221.3,602.7M328.8,437.4L226.5,607.4M316.7,433.4L198.2,568.6M311.1,432.1L210.5,590.4M285,430.3L219.6,601M280.7,430.6L236.3,614.6M306,431.2L222.7,604M321.1,434.7L237.8,615.5M327.3,436.8L203.1,578.8M328.6,437.4L196.5,564.2M327,436.7L207.9,586.6M266,433.3L201.2,575.2M276.9,431.1L222,603.3M311.1,432.1L210.2,590M293.8,430.1L195.5,561M307.6,431.4L219.6,601M282.5,430.4L197.5,566.8M298.2,430.3L199.9,572.5M289.4,430.1L228,608.6M302.2,430.7L198.8,570.1M276.8,431.1L199.6,571.9M328.4,437.3L199.2,570.8M322,435L240.4,617.1M308.7,431.6L197.5,566.7M268.5,432.6L223.6,604.8M283.6,430.4L210.1,589.8M294.4,430.1L212.7,593.2M318.8,434L240.7,617.3M268.8,432.6L232.5,612M273.6,431.6L236.3,614.6M331.9,438.7L197.7,567.3M340.2,442.9L240.7,617.3M356.6,454.5L258.6,625.4M358.9,456.5L228.1,608.7M372.6,471.9L254,623.7M348,447.8L257.2,624.9M343,444.6L235.9,614.3M378.7,481.5L252.1,623M339.7,442.7L272.4,629.1M360.4,457.8L231.7,611.4M381.4,486.7L252.1,623M382.1,488.1L230.1,610.2M364,461.5L252.9,623.3M367.7,465.7L223.7,604.8M363.3,460.8L224.3,605.5M365.7,463.3L265.6,627.5M369.9,468.4L224.3,605.4M339.1,442.3L247.9,621.1M363.6,461.1L211.1,591.2M386.4,499.1L252.7,623.2M385.3,495.9L217.1,598.3M353,451.5L244.2,619.2M343,444.6L215.5,596.6M341,443.4L268.1,628.2M346.9,447L291,630.8M344.3,445.3L301.8,630.2M313.8,432.7L299.3,630.5M308.7,431.6L343.3,616.1M346.1,446.5L351.9,610.3M313.2,432.6L347.2,613.6M350.6,449.7L340.1,618M391.2,524.4L355.3,607.6M391.3,535.5L346.2,614.3M369.3,593.3L287.2,630.8M345.9,614.5L273.5,629.3M359.6,603.8L328.1,623.8M362.2,601.3L299.2,630.5M366.2,596.9L332.3,622M363.6,599.8L271.8,629M391.4,528.7L376.2,583.6M376.5,583.1L300.2,630.4M389.7,549.2L370.2,592.2M389.5,550L347.3,613.6M363.3,600.2L308.9,629.2M386,562.9L349,612.4M386.6,561.1L349.3,612.2M391.4,531.2L367.5,595.5M343.9,615.8L282.7,630.5M363.8,599.6L325.4,624.8M368.1,594.8L290.8,630.8M369.3,593.3L309.4,629.1M380.9,575.1L321.8,626M351,611L309.7,629.1M391.4,532.6L354,608.6M349.2,612.2L281.8,630.4M382.9,571L321.1,626.2M390.7,542.9L370.4,592M390.5,544.3L353.7,608.9M387.8,557.2L362.3,601.1M368,594.9L277,629.8M388.3,555.1L337.5,619.4M384.2,567.8L315.3,627.8M375.2,585.1L335.5,620.4M390.2,546.4L377.9,580.7M381.1,574.7L339,618.6M390.8,541.3L367.2,595.8M387.6,558L330.4,622.8M391.1,538L335.1,620.7M381.1,574.7L325.2,624.9M381.7,573.5L310.5,628.9M357.7,605.5L289.8,630.8M375.3,475.8L376.5,583.1M383,490.3L384.1,568.1M380.8,485.4L369.3,593.4M374.9,475.3L387.1,559.6M368.9,467.1L376.6,582.9" stroke="#cfccca" stroke-width="0.6" fill="none" stroke-opacity="0.8"/><path d="M374.1,367.6L373.6,387.9M287.2,379.8L286.8,430.1M292.9,379.8L287.7,430.1M344.3,401L325.1,408.6M210.5,409.8L213.2,429.4M198.1,419.9L181.7,431.2M372.9,418.1L379.7,437.5M415.8,445.9L372.5,471.8M421.9,433L415.8,445.9M421.9,433L429.3,444.3M153.5,440.7L165,448.1M165,448.1L201.5,474.1M421.4,511.7L428.2,530.5M134.5,468.9L152.3,478.6M173.8,480.4L172.9,500.7M148.5,495.5L133.2,508.6M142.2,522.3L162.5,525M149.6,544.4L149.6,556.4M121.4,552.1L121.9,572.9M441.7,551.9L428.2,567.2M439.5,577.8L428.2,594.3M145.8,599.9L145.1,620M165.4,613L206,592.5M423.7,630.8L423.2,651.1M179.4,632L221.8,604.9M183.9,636.5L226.3,609.4M192.5,644.8L230.8,612.8M202.2,651.8L235.3,616.2M212.3,658.6L239.8,619.5M217.3,662.4L244.4,621.8M210.5,674.1L242.1,620.7M356.7,666.7L340.2,624.1M280.5,681.6L285,630.8M285,681.6L287.2,630.8M289.5,681.6L291.7,630.8M293.5,681.6L295.1,630.8M286.1,681.6L285.4,722.2M233.1,695.1L222.9,709.1M234.2,701.9L234.2,715.9M245.5,700.8L255.6,709.3M317.7,693.3L325.6,704.1M338,693.3L332.3,704.1" stroke="#d6d4d2" stroke-width="0.7" fill="none"/><g fill="#7cc02e"><circle cx="291.1" cy="430.1" r="3.8"/><circle cx="300.1" cy="430.5" r="3.8"/><circle cx="309" cy="431.7" r="3.8"/><circle cx="317.8" cy="433.7" r="3.8"/><circle cx="326.3" cy="436.5" r="3.8"/><circle cx="334.6" cy="440" r="3.8"/><circle cx="342.5" cy="444.3" r="3.8"/><circle cx="350.1" cy="449.2" r="3.8"/><circle cx="357.1" cy="454.9" r="3.8"/><circle cx="363.6" cy="461.1" r="3.8"/><circle cx="374.8" cy="475.2" r="3.8"/><circle cx="379.4" cy="482.9" r="3.8"/><circle cx="383.4" cy="491" r="3.8"/><circle cx="386.5" cy="499.4" r="3.8"/><circle cx="388.9" cy="508.1" r="3.8"/><circle cx="390.5" cy="517" r="3.8"/><circle cx="391.3" cy="525.9" r="3.8"/><circle cx="390.5" cy="543.9" r="3.8"/><circle cx="388.9" cy="552.8" r="3.8"/><circle cx="386.5" cy="561.5" r="3.8"/><circle cx="383.4" cy="569.9" r="3.8"/><circle cx="379.4" cy="578" r="3.8"/><circle cx="374.8" cy="585.7" r="3.8"/><circle cx="369.5" cy="593" r="3.8"/><circle cx="363.6" cy="599.8" r="3.8"/><circle cx="357.1" cy="606" r="3.8"/><circle cx="350.1" cy="611.7" r="3.8"/><circle cx="342.5" cy="616.6" r="3.8"/><circle cx="334.6" cy="620.9" r="3.8"/><circle cx="326.3" cy="624.4" r="3.8"/><circle cx="317.8" cy="627.2" r="3.8"/><circle cx="309" cy="629.2" r="3.8"/><circle cx="300.1" cy="630.4" r="3.8"/><circle cx="291.1" cy="630.8" r="3.8"/><circle cx="282.1" cy="630.4" r="3.8"/><circle cx="273.1" cy="629.2" r="3.8"/><circle cx="264.3" cy="627.2" r="3.8"/><circle cx="255.8" cy="624.4" r="3.8"/><circle cx="247.5" cy="620.9" r="3.8"/><circle cx="239.6" cy="616.6" r="3.8"/><circle cx="232.1" cy="611.7" r="3.8"/><circle cx="225" cy="606" r="3.8"/><circle cx="218.5" cy="599.8" r="3.8"/><circle cx="212.6" cy="593" r="3.8"/><circle cx="207.3" cy="585.7" r="3.8"/><circle cx="202.7" cy="578" r="3.8"/><circle cx="198.8" cy="569.9" r="3.8"/><circle cx="195.6" cy="561.5" r="3.8"/><circle cx="193.2" cy="552.8" r="3.8"/><circle cx="191.6" cy="543.9" r="3.8"/><circle cx="190.8" cy="535" r="3.8"/><circle cx="190.8" cy="525.9" r="3.8"/><circle cx="191.6" cy="517" r="3.8"/><circle cx="193.2" cy="508.1" r="3.8"/><circle cx="195.6" cy="499.4" r="3.8"/><circle cx="198.8" cy="491" r="3.8"/><circle cx="202.7" cy="482.9" r="3.8"/><circle cx="207.3" cy="475.2" r="3.8"/><circle cx="212.6" cy="467.9" r="3.8"/><circle cx="218.5" cy="461.1" r="3.8"/><circle cx="225" cy="454.9" r="3.8"/><circle cx="232.1" cy="449.2" r="3.8"/><circle cx="239.6" cy="444.3" r="3.8"/><circle cx="247.5" cy="440" r="3.8"/><circle cx="264.3" cy="433.7" r="3.8"/><circle cx="273.1" cy="431.7" r="3.8"/><circle cx="282.1" cy="430.5" r="3.8"/><circle cx="374.1" cy="367.6" r="3.8"/><circle cx="373.6" cy="387.9" r="3.8"/><circle cx="287.2" cy="379.8" r="3.8"/><circle cx="292.9" cy="379.8" r="3.8"/><circle cx="325.1" cy="408.6" r="3.8"/><circle cx="210.5" cy="409.8" r="3.8"/><circle cx="213.2" cy="429.4" r="3.8"/><circle cx="198.1" cy="419.9" r="3.8"/><circle cx="181.7" cy="431.2" r="3.8"/><circle cx="372.9" cy="418.1" r="3.8"/><circle cx="379.7" cy="437.5" r="3.8"/><circle cx="421.9" cy="433" r="3.8"/><circle cx="415.8" cy="445.9" r="3.8"/><circle cx="429.3" cy="444.3" r="3.8"/><circle cx="153.5" cy="440.7" r="3.8"/><circle cx="165" cy="448.1" r="3.8"/><circle cx="428.2" cy="530.5" r="3.8"/><circle cx="134.5" cy="468.9" r="3.8"/><circle cx="152.3" cy="478.6" r="3.8"/><circle cx="173.8" cy="480.4" r="3.8"/><circle cx="172.9" cy="500.7" r="3.8"/><circle cx="148.5" cy="495.5" r="3.8"/><circle cx="133.2" cy="508.6" r="3.8"/><circle cx="142.2" cy="522.3" r="3.8"/><circle cx="162.5" cy="525" r="3.8"/><circle cx="149.6" cy="544.4" r="3.8"/><circle cx="146.2" cy="561.4" r="3.8"/><circle cx="153" cy="561.4" r="3.8"/><circle cx="149.6" cy="556.4" r="3.8"/><circle cx="121.4" cy="552.1" r="3.8"/><circle cx="121.9" cy="572.9" r="3.8"/><circle cx="441.7" cy="551.9" r="3.8"/><circle cx="428.2" cy="567.2" r="3.8"/><circle cx="407.9" cy="575.6" r="3.8"/><circle cx="413.5" cy="579.6" r="3.8"/><circle cx="407.9" cy="582.8" r="3.8"/><circle cx="439.5" cy="577.8" r="3.8"/><circle cx="428.2" cy="594.3" r="3.8"/><circle cx="165.4" cy="581.2" r="3.8"/><circle cx="162" cy="585.7" r="3.8"/><circle cx="168.8" cy="585.7" r="3.8"/><circle cx="145.8" cy="599.9" r="3.8"/><circle cx="145.1" cy="620" r="3.8"/><circle cx="419.2" cy="607.1" r="3.8"/><circle cx="425.9" cy="611.2" r="3.8"/><circle cx="419.2" cy="614.4" r="3.8"/><circle cx="391.7" cy="624.7" r="3.8"/><circle cx="399.5" cy="626.3" r="3.8"/><circle cx="384.2" cy="630.8" r="3.8"/><circle cx="384.2" cy="638.3" r="3.8"/><circle cx="391" cy="643.9" r="3.8"/><circle cx="398.9" cy="642.1" r="3.8"/><circle cx="397.7" cy="648.9" r="3.8"/><circle cx="403.4" cy="634.7" r="3.8"/><circle cx="409" cy="634.7" r="3.8"/><circle cx="423.7" cy="630.8" r="3.8"/><circle cx="423.2" cy="651.1" r="3.8"/><circle cx="179.4" cy="632" r="3.8"/><circle cx="183.9" cy="636.5" r="3.8"/><circle cx="192.5" cy="644.8" r="3.8"/><circle cx="202.2" cy="651.8" r="3.8"/><circle cx="189.8" cy="657.9" r="3.8"/><circle cx="200.4" cy="665.3" r="3.8"/><circle cx="204.9" cy="670.3" r="3.8"/><circle cx="212.3" cy="658.6" r="3.8"/><circle cx="217.3" cy="662.4" r="3.8"/><circle cx="356.7" cy="666.7" r="3.8"/><circle cx="329.6" cy="665.8" r="3.8"/><circle cx="335.7" cy="669.8" r="3.8"/><circle cx="329.6" cy="673.7" r="3.8"/><circle cx="375.2" cy="675.5" r="3.8"/><circle cx="383.1" cy="672.6" r="3.8"/><circle cx="389.8" cy="674.1" r="3.8"/><circle cx="388.7" cy="680.5" r="3.8"/><circle cx="383.1" cy="686.8" r="3.8"/><circle cx="374.7" cy="683.8" r="3.8"/><circle cx="280.5" cy="681.6" r="3.8"/><circle cx="285" cy="681.6" r="3.8"/><circle cx="289.5" cy="681.6" r="3.8"/><circle cx="293.5" cy="681.6" r="3.8"/><circle cx="286.1" cy="695.1" r="3.8"/><circle cx="286.1" cy="708.6" r="3.8"/><circle cx="285.4" cy="722.2" r="3.8"/><circle cx="191.4" cy="686.1" r="3.8"/><circle cx="186.8" cy="689.5" r="3.8"/><circle cx="197" cy="689.5" r="3.8"/><circle cx="191.4" cy="694" r="3.8"/><circle cx="233.1" cy="695.1" r="3.8"/><circle cx="234.2" cy="701.9" r="3.8"/><circle cx="239.8" cy="700.8" r="3.8"/><circle cx="245.5" cy="700.8" r="3.8"/><circle cx="222.9" cy="709.1" r="3.8"/><circle cx="234.2" cy="715.9" r="3.8"/><circle cx="255.6" cy="709.3" r="3.8"/><circle cx="317.7" cy="693.3" r="3.8"/><circle cx="338" cy="693.3" r="3.8"/><circle cx="325.6" cy="704.1" r="3.8"/><circle cx="332.3" cy="704.1" r="3.8"/><circle cx="325.6" cy="710.9" r="3.8"/><circle cx="332.3" cy="710.9" r="3.8"/><circle cx="328.9" cy="707.5" r="3.8"/><circle cx="325.6" cy="714.3" r="3.8"/></g><g fill="#8fd6dc"><circle cx="369.5" cy="467.9" r="3.8"/><circle cx="412.9" cy="476.3" r="3.8"/><circle cx="438.3" cy="473.6" r="3.8"/><circle cx="442.9" cy="478.1" r="3.8"/><circle cx="437.2" cy="480.8" r="3.8"/><circle cx="431.6" cy="491" r="3.8"/><circle cx="437.2" cy="494.4" r="3.8"/><circle cx="431.6" cy="497.7" r="3.8"/><circle cx="165.4" cy="613" r="3.8"/><circle cx="210.5" cy="674.1" r="3.8"/></g><g fill="#c9c6c4"><circle cx="391.3" cy="535" r="3.8"/><circle cx="344.3" cy="401" r="3.8"/><circle cx="238.7" cy="688.3" r="3.8"/><circle cx="244.4" cy="694" r="3.8"/></g><g fill="#6a2c8a"><circle cx="255.8" cy="436.5" r="3.8"/><circle cx="244.4" cy="412" r="3.8"/><circle cx="250" cy="416.5" r="3.8"/><circle cx="244.4" cy="420.4" r="3.8"/><circle cx="246.6" cy="416.5" r="3.8"/></g><g fill="#c9461d"><circle cx="413.5" cy="467.3" r="3.8"/><circle cx="421.4" cy="465" r="3.8"/><circle cx="426.4" cy="472.3" r="3.8"/><circle cx="421.4" cy="479" r="3.8"/><circle cx="421.4" cy="511.7" r="3.8"/></g><text x="278" y="780.3" font-size="21" text-anchor="middle">Y1</text>
<path d="M808.1,352.1L816.1,412.5M820.4,349.6L824.9,411.8M844.2,349.3L844.2,411.4M879.3,353.9L865.3,412.5M911.9,361.9L888.1,415.3M917.9,365.4L891.6,417M927.4,370.4L895.1,418.8M960,367.2L914.4,431.1M962.5,393.2L921.4,438.1M1007.4,446.1L956.5,473.2M722.1,390.7L758.2,438.1M683.5,432.8L731.9,467.9M672.3,451.4L724.9,481.9M692.6,557.7L713.3,560.9M654.7,577.4L714.4,566.1M656.5,598.4L719.6,581.9M675.8,634.6L728.4,606.5M682.1,645.1L731.9,610M641.4,636.3L675.8,634.6M641.4,636.3L682.1,645.1M784.6,721.2L802.1,662.6M824.9,729.3L833.7,667.9M826.7,729.3L837.2,667.9M868.8,727.5L861.8,666.1M882.1,725.1L870.5,664.4M857.2,714.6L851.2,667.9M967,604.7L946,615.3M1017.9,610L967,580.2" stroke="#d9d7d5" stroke-width="0.7" fill="none"/><path d="M969.8,539.8L1026.7,501.2M969.8,539.8L1028.4,517M969.8,539.8L1029.5,529.3M969.8,539.8L1030.2,539.8M969.8,539.8L1029.5,552.1M969.8,539.8L1027.7,566.1M969.8,539.8L1026.7,578.4M969.8,539.8L1024.2,590M1026.7,501.2L1063.5,615.3M1028.4,517L1063.5,615.3M1029.5,529.3L1063.5,615.3M1030.2,539.8L1063.5,615.3M1029.5,552.1L1063.5,615.3M1027.7,566.1L1063.5,615.3M1026.7,578.4L1063.5,615.3M1024.2,590L1063.5,615.3M1026.7,501.2L1065.6,613.4M1026.7,501.2L1071.3,612.2M1026.7,501.2L1066.2,613.7M1028.4,517L1062.3,612.8M1028.4,517L1067.7,616.2M1028.4,517L1061.2,610.2M1029.5,529.3L1061.1,616.4M1029.5,529.3L1068.5,607M1029.5,529.3L1072.1,618.3M1030.2,539.8L1068,614.1M1030.2,539.8L1061.9,606.7M1030.2,539.8L1066.5,607.2M1029.5,552.1L1062.3,609.5M1029.5,552.1L1060.4,612.2M1029.5,552.1L1065.4,616.8M1027.7,566.1L1066.4,614.4M1027.7,566.1L1066.1,614.6M1027.7,566.1L1065.6,609.9M1026.7,578.4L1072.3,618.7M1026.7,578.4L1070.3,615.2M1026.7,578.4L1063.9,609.3M1024.2,590L1063.5,607.4M1024.2,590L1069.4,611.4M1024.2,590L1070.4,611.2" stroke="#cfcdcb" stroke-width="0.7" fill="none"/><path d="M651.9,517L713.3,538.1M651.6,520.5L713.3,538.8M651.2,524.7L713.3,539.8M651.9,515.3L713.3,537.4" stroke="#d0cecc" stroke-width="1.2" fill="none"/><clipPath id="y2c"><circle cx="840.7" cy="539.8" r="126.1"/></clipPath><g clip-path="url(#y2c)"><circle cx="840.7" cy="539.8" r="126.1" fill="#f1f0ef"/><polygon points="694.1,492.2 696.1,456.4 840.7,372.9 985.3,456.4 998.8,567.7 898.5,539.8 827.9,511.6 776.5,501.3" fill="#d3d0cd" fill-opacity="0.85"/><polygon points="927.7,428.5 965.4,473.5 981.4,552.1 920.3,578.4 911.3,662.2 870.1,678 885.6,565.5 898.5,488.5" fill="#cbc8c5" fill-opacity="0.9"/><path d="M807.8,418L718.7,572.1M962.8,508.2L845.5,413.8M825.2,414.6L910.8,644.7M714.7,533.5L826.6,414.5M915.5,438.3L964.1,565.9M954,484.5L716.7,563.1M958.2,493.9L742.6,460.5M721.6,498.3L948,473.6M951.6,599.9L725.9,592.2M908.4,433.4L738.7,614.1M765.7,641.3L847.5,413.9M746.9,455.5L936.6,457.9M772.1,434L744.6,621.5M957.9,493.2L744.9,457.8M959.8,498.3L857.8,414.9M764.3,640.2L877.3,419.1M871.1,417.4L750.3,451.8M719.7,575.3L863.6,415.8M768.8,643.5L799.7,420.5M716.7,563.2L772.4,433.8M964.6,563.6L902.6,429.9M853.8,414.4L942.8,613.9M887.5,422.7L952.5,598.2M760.9,442.2L714.9,549.4M723.1,585.4L966.8,541.6M868.3,416.7L957.1,491.1M720.5,578.1L813,662.9M955.2,592.7L954.7,485.8M776.5,431.2L958.6,584.8M767.1,437.4L730.6,601.4M751.5,629L872.1,417.6M835.4,413.8L715.3,525.9M922.1,636.2L885.8,422M886.8,657.3L956.4,489.7M714.6,539.7L773.5,433.1M966.8,544.4L913,643.2M727.2,594.9L811.9,417M761.4,441.8L966.1,553.1M776,431.6L723.8,587.1M777.8,649.2L802.2,419.7M826.5,414.5L881.4,659.2M865.5,416.1L720.9,500.3M718.8,507.3L797.4,421.4M966.4,529.9L858.1,664.8M749.2,626.6L908.6,433.5M725.1,590.3L815,416.3M954.4,485.2L953,597.3M717.7,568L826.8,414.5M944.7,611.2L831.4,414M718.9,507L776.3,648.3M788.9,424.8L771,644.9M928.9,630L784.5,426.9M738,613.1L792.9,423.1M963.5,511L842.4,413.7M954.7,593.8L925,446M801.5,659.7L966.8,535.1M863.1,415.7L714.6,538.5M720.7,501L889.8,423.6M718.1,510.1L863,415.7M801.1,420.1L942.8,465.8M739,465.2L723.7,586.9M838.2,665.9L900.9,429M723.1,585.5L752.9,449.3M965.9,555L714.6,540M755.6,632.9L897.9,652.2M716.7,516.7L790.3,424.2M965.6,521.9L744.7,458M940.2,617.4L795.6,422M715.5,554.9L808.2,418M966.1,526.1L770.8,434.8M768.3,436.5L965.9,555.4M781.9,428.2L964.5,515.6M758.8,443.9L928.9,449.6M715.9,558.3L881.8,420.6M731,477.6L965.2,560M854.7,414.5L960.2,580.1M774,432.7L714.6,540.1M724.7,589.4L810.2,417.4M918.7,440.7L965.6,557.3M829,665.4L890.4,423.9M833,413.9L720.4,501.9M888.6,423.1L759.1,443.6M715.1,528.2L937.7,459.2M851.2,414.1L734.9,608.5M911.4,644.3L724.9,589.8M749.1,626.5L887.4,422.7M966.7,546.4L883.7,421.2M764.4,439.4L729.8,600M716.4,561.4L774.8,432.3M858.7,415L762.7,638.9M966.7,545.1L724.8,589.5M959.5,497.4L763,639.2M966.8,540.5L875,418.4M836.8,413.7L769.9,644.3M898.8,427.9L740.2,616.1M876,418.7L741.4,462M961.6,575.8L883.4,658.5M874.2,418.2L961.9,574.8M879.8,419.9L768.6,436.3M896.9,426.9L746.8,455.6M858.4,664.7L955.1,593.1M875.4,661.1L714.7,546.4M731,602.1L935.7,456.9M778.4,649.5L859.7,415.1M715.2,552.3L876.2,418.8M714.6,537.2L863.8,415.8M824.7,414.7L716.8,516.2M871.7,417.6L964.9,518M897.8,652.3L852,414.2M808.1,661.7L715.3,553.4M945.6,609.9L856.9,414.7M897.5,427.2L960.7,578.6M933.2,625.6L824.8,414.7M953,597.4L743.8,459.1M780.5,429L933.4,625.3M912.9,436.4L747.7,454.7M903.6,430.5L749.1,626.5M724.8,589.7L872.1,417.7M898.7,427.8L933.2,625.6M722.3,583.3L869.9,417.1M939,618.9L857.3,414.8M925.5,446.5L715.4,525.2M778.9,429.8L715,550.7M888.6,656.5L945.9,470.1M763.2,440.3L963.4,510.7M754.9,447.4L965,518.6M890.1,423.8L767.9,642.9M904.3,430.9L964.3,565M766,438.2L914.3,437.4M939.8,461.8L727,485.1M823.7,664.8L963.4,510.6M833.6,413.9L914.1,642.4M816.9,416L943.4,466.6M924,445.1L716.6,562.1M954.6,485.7L936.2,622.3M777.1,648.8L927.2,631.6M920.3,442L926.6,632.2M966.3,528.3L761.7,441.5M965.2,519.3L843.5,665.9M952.2,480.8L742.7,460.3M803.1,660.2L965,561.3M966.6,548.1L872.3,417.7M946.3,608.8L752.2,449.9M854.5,665.2L717,515.3M799.9,420.5L732,603.9M833,413.9L764,640M946,470.4L908.6,646.1M966.6,547.3L861.3,415.4M841.8,413.7L715.2,552.9M727.3,484.6L856.9,414.7M717.3,566.2L783.9,427.2M742.2,461.1L963.9,512.7M903.6,649.2L964.3,514.6M728.8,481.6L924.6,445.6M957.6,587.3L728.4,597.3M938,620.1L836.6,413.8M730.1,479.2L886.5,657.4M928.7,630.2L863.4,415.7M791.2,655.9L867.3,416.5M834.1,413.9L719,572.8M756.7,633.9L812.9,416.8M919.8,638.1L850.7,414.1M960.7,500.8L747.2,455.2M950.6,601.7L892.8,424.9M938.3,459.9L943.7,612.6M718.9,572.5L822.6,415M732.9,474.3L912.3,643.7M965.5,521.3L857.4,664.9M950.7,601.6L715.4,525.6M914.4,642.2L875.9,418.7" stroke="#c8c5c2" stroke-width="0.8" fill="none" stroke-opacity="0.9"/><path d="M715,549.7L965.3,559.5M715,549.7L966.5,531.1M715,549.7L965.2,519.8M715,549.7L887.7,422.7M715,549.7L941.6,464.1M715,549.7L943,466.1M715,549.7L966.4,529M715,549.7L905,431.3M715,549.7L947.4,472.5M715,549.7L959.9,498.6M715,549.7L965.3,559.2M715,549.7L963.8,567.2M715,549.7L965.3,520.4M715,549.7L914.5,437.6M715,549.7L966,554.4M715,549.7L959,583.6M715,549.7L962.4,506.8M715,549.7L944.4,467.9M715,549.7L959.3,496.8M715,549.7L911.6,435.5M715,549.7L966.8,542.8M715,549.7L951.4,600.4M715,549.7L881.2,659.3M715,549.7L846.8,665.8M715,549.7L825.7,665.1M715,549.7L928.7,630.2M715,549.7L806.8,661.3M715,549.7L862.2,664.1M715,549.7L928.6,630.3M715,549.7L941.9,615.1M715,549.7L922.5,635.8M715,549.7L964,566.5M715,549.7L963.5,568.8M715,549.7L964.9,561.6M715,549.7L962.3,573.2M715,549.7L964.8,562.3M715,549.7L964.5,564.3M715,549.7L965.6,557.6M715,549.7L962.1,574.1M715,549.7L965.5,557.9M715,549.7L962.5,572.8M715,549.7L964.1,565.8M715,549.7L964.1,566.2" stroke="#c9c6c3" stroke-width="0.9" fill="none" stroke-opacity="0.85"/><path d="M773.9,432.8L914.6,437.6M809,417.7L964.7,516.9M799.4,420.6L945.4,469.5M738.8,465.4L958.8,495.6M750.6,451.5L961.8,504.7M747,455.3L943.3,466.4M800.8,420.2L905.9,431.9M772.7,433.6L893.2,425.1M733.3,473.7L905.3,431.5M817.4,415.9L963.3,510.1M783.3,427.5L919.2,441M784.5,426.9L954.3,485M758.1,444.5L944.7,468.4M798,421.1L885.9,422M744,458.8L934.6,455.6M740.2,463.6L927,447.8M774.7,432.3L904.6,431.1M770.1,435.3L914.5,437.5M774.6,432.4L921.7,443.1M781.6,428.4L888.5,423.1M784.5,426.9L901.2,429.2M814.4,416.5L945.3,469.3M765.7,438.4L929.4,450.1M779.9,429.3L951.4,479.4M793.2,423L955.1,486.7M767.1,437.4L964.8,517.2M801.5,419.9L960.2,499.4M760.4,442.6L931.5,452.3M774.4,432.5L962.1,505.7M770.7,434.9L939.4,461.3M935.4,456.5L870.2,662.5M932.1,452.9L898.2,652.1M943.4,466.6L870.4,662.4M943.6,466.8L880.6,659.5M944.1,467.5L890.2,655.8M939.9,461.9L897.7,652.3M925.9,446.8L885.6,657.7M937.4,458.8L887.2,657.1M923.5,444.7L877.3,660.5M938.1,459.6L892.4,654.9M931.6,452.4L887.3,657M929.5,450.2L897.8,652.3M947.9,473.4L868.1,663M941.9,464.5L871.5,662.1M935.1,456.1L873.6,661.6M929,449.8L875.6,661M939.2,461L870.2,662.5M925.1,446L874,661.5M925.9,446.8L882.6,658.8M948.8,474.9L899.9,651.2M929.7,450.4L890.4,655.8M932.2,453L898,652.2M947.6,472.8L873.2,661.7M934.4,455.3L888.6,656.5M939.7,461.7L898.5,651.9M922.8,444.1L870.4,662.4M931.7,452.4L883.9,658.3M948.5,474.3L867.7,663M936.6,457.8L893.4,654.4M931.3,452.1L869.6,662.6" stroke="#c7c4c1" stroke-width="1.5" fill="none"/></g><circle cx="840.7" cy="539.8" r="126.1" fill="none" stroke="#7cc02e" stroke-width="4.6"/><circle cx="715" cy="549.7" r="2.5" fill="#6a2c8a"/><circle cx="763" cy="440.4" r="2.5" fill="#8fd6dc"/><circle cx="723.7" cy="492.6" r="2.5" fill="#8fd6dc"/><circle cx="716.9" cy="515.8" r="2.5" fill="#8fd6dc"/><circle cx="949.9" cy="476.8" r="2.5" fill="#8fd6dc"/><circle cx="964.1" cy="566.1" r="2.5" fill="#8fd6dc"/><circle cx="791.4" cy="655.9" r="2.5" fill="#8fd6dc"/><circle cx="883.8" cy="658.4" r="2.5" fill="#8fd6dc"/><circle cx="714.6" cy="537.6" r="2.5" fill="#8fd6dc"/><circle cx="647" cy="484.4" r="17" fill="#cfccc9" stroke="#8fd6dc" stroke-width="4.6"/><circle cx="693.3" cy="408.9" r="10.5" fill="#cfccc9" stroke="#8fd6dc" stroke-width="3.5"/><circle cx="655.8" cy="556.7" r="11.9" fill="#cfccc9" stroke="#6a2c8a" stroke-width="4.2"/><circle cx="1028.4" cy="461.9" r="12.8" fill="#cfccc9" stroke="#7cc02e" stroke-width="3.9"/><circle cx="721.4" cy="685.4" r="9.3" fill="#cfccc9" stroke="#c9461d" stroke-width="3.9"/><circle cx="641.4" cy="636.3" r="7" fill="#cfccc9" stroke="#7cc02e" stroke-width="3.5"/><circle cx="1052.3" cy="499.5" r="5.4" fill="#cfccc9" stroke="#7cc02e" stroke-width="3.2"/><circle cx="1060.7" cy="524.7" r="4.6" fill="#cfccc9" stroke="#7cc02e" stroke-width="2.8"/><circle cx="781.1" cy="363.7" r="4.4" fill="#fff" stroke="#7cc02e" stroke-width="3.2"/><circle cx="776.5" cy="398.4" r="5.3" fill="#fff" stroke="#7cc02e" stroke-width="3.5"/><circle cx="960" cy="367.2" r="4.7" fill="#cfccc9" stroke="#7cc02e" stroke-width="3.2"/><circle cx="755.4" cy="411.8" r="3.5" fill="#fff" stroke="#7cc02e" stroke-width="2.8"/><circle cx="660.7" cy="421.6" r="3" fill="#fff" stroke="#8fd6dc" stroke-width="2.5"/><circle cx="731.9" cy="431.1" r="3.3" fill="#fff" stroke="#8fd6dc" stroke-width="2.5"/><circle cx="669.8" cy="511.1" r="4.6" fill="#fff" stroke="#8fd6dc" stroke-width="2.8"/><circle cx="687.4" cy="501.2" r="2.5" fill="#fff" stroke="#8fd6dc" stroke-width="2.1"/><circle cx="706.7" cy="511.1" r="2.1" fill="#fff" stroke="#8fd6dc" stroke-width="2.1"/><circle cx="701.4" cy="489.6" r="1.6" fill="#fff" stroke="#8fd6dc" stroke-width="1.8"/><circle cx="659.3" cy="438.1" r="2.1" fill="#fff" stroke="#8fd6dc" stroke-width="2.1"/><circle cx="679.3" cy="466.1" r="2.5" fill="#fff" stroke="#8fd6dc" stroke-width="2.1"/><circle cx="640.7" cy="524" r="2.1" fill="#fff" stroke="#8fd6dc" stroke-width="2.1"/><circle cx="617.9" cy="504.7" r="1.9" fill="#fff" stroke="#8fd6dc" stroke-width="1.8"/><circle cx="621.4" cy="483.7" r="1.9" fill="#fff" stroke="#8fd6dc" stroke-width="1.8"/><circle cx="637.2" cy="497.6" r="1.8" fill="#7cc02e"/><circle cx="653.5" cy="500" r="1.8" fill="#7cc02e"/><circle cx="662.5" cy="490.3" r="1.8" fill="#7cc02e"/><circle cx="655.2" cy="567.6" r="1.8" fill="#7cc02e"/><circle cx="661.7" cy="545.6" r="1.8" fill="#7cc02e"/><circle cx="653.5" cy="545.6" r="1.8" fill="#8fd6dc"/><circle cx="1067" cy="617.7" r="10.7" fill="#d4d2d0" stroke="none"/><path d="M1056.3,615.7A10.7,10.7 0 1 1 1074,627.8" fill="none" stroke="#7cc02e" stroke-width="3.9"/><circle cx="624.9" cy="550.4" r="4.2" fill="#6a2c8a"/><circle cx="692.6" cy="557.7" r="3.5" fill="#7cc02e"/><circle cx="776.8" cy="677.7" r="3.5" fill="#c9c6c4"/><circle cx="799.6" cy="728.2" r="3.2" fill="#7cc02e"/><circle cx="824.9" cy="729.3" r="3.2" fill="#7cc02e"/><circle cx="1009.1" cy="480.2" r="3.5" fill="#7cc02e"/><circle cx="798.6" cy="351.4" r="2.8" fill="#7cc02e"/><circle cx="895.1" cy="332.8" r="3.2" fill="#7cc02e"/><circle cx="635.4" cy="618.1" r="3.5" fill="#7cc02e"/><circle cx="708.1" cy="381.2" r="2.5" fill="#7cc02e"/><g fill="#7cc02e"><circle cx="902.1" cy="339.8" r="2.4"/><circle cx="863.5" cy="338.1" r="2.4"/><circle cx="863.5" cy="344" r="2.4"/><circle cx="879.3" cy="348.6" r="2.4"/><circle cx="879.3" cy="353.9" r="2.4"/><circle cx="808.1" cy="352.1" r="2.4"/><circle cx="844.2" cy="349.3" r="2.4"/><circle cx="911.9" cy="361.9" r="2.4"/><circle cx="917.9" cy="365.4" r="2.4"/><circle cx="927.4" cy="370.4" r="2.4"/><circle cx="722.1" cy="390.7" r="2.4"/><circle cx="962.5" cy="393.2" r="2.4"/><circle cx="974" cy="401.9" r="2.4"/><circle cx="975.1" cy="406.5" r="2.4"/><circle cx="963.5" cy="417" r="2.4"/><circle cx="967" cy="423.3" r="2.4"/><circle cx="990.9" cy="415.3" r="2.4"/><circle cx="996.1" cy="411.8" r="2.4"/><circle cx="985.3" cy="430" r="2.4"/><circle cx="1003.9" cy="427.5" r="2.4"/><circle cx="1019.6" cy="427.5" r="2.4"/><circle cx="1019.6" cy="432.8" r="2.4"/><circle cx="954.7" cy="449.6" r="2.4"/><circle cx="977.5" cy="449.6" r="2.4"/><circle cx="1007.4" cy="446.1" r="2.4"/><circle cx="1038.9" cy="439.1" r="2.4"/><circle cx="1064.2" cy="448.6" r="2.4"/><circle cx="1064.2" cy="454.6" r="2.4"/><circle cx="1046" cy="472.1" r="2.4"/><circle cx="1056.5" cy="472.1" r="2.4"/><circle cx="1035.4" cy="485.4" r="2.4"/><circle cx="1005.6" cy="489.6" r="2.4"/><circle cx="1026" cy="494.9" r="2.4"/><circle cx="1061.8" cy="492.5" r="2.4"/><circle cx="1068.8" cy="532.1" r="2.4"/><circle cx="1054.7" cy="541.6" r="2.4"/><circle cx="1065.3" cy="552.1" r="2.4"/><circle cx="1071.6" cy="551.1" r="2.4"/><circle cx="1074" cy="572.1" r="2.4"/><circle cx="1075.8" cy="602.3" r="2.4"/><circle cx="1082.8" cy="610" r="2.4"/><circle cx="1026.7" cy="501.2" r="2.4"/><circle cx="1028.4" cy="517" r="2.4"/><circle cx="1029.5" cy="529.3" r="2.4"/><circle cx="1030.2" cy="539.8" r="2.4"/><circle cx="1029.5" cy="552.1" r="2.4"/><circle cx="1027.7" cy="566.1" r="2.4"/><circle cx="1026.7" cy="578.4" r="2.4"/><circle cx="1024.2" cy="590" r="2.4"/><circle cx="967" cy="604.7" r="2.4"/><circle cx="967" cy="610" r="2.4"/><circle cx="1017.9" cy="610" r="2.4"/><circle cx="1017.9" cy="613.5" r="2.4"/><circle cx="947.7" cy="632.8" r="2.4"/><circle cx="946" cy="637" r="2.4"/><circle cx="967" cy="623" r="2.4"/><circle cx="972.3" cy="622.3" r="2.4"/><circle cx="988.1" cy="632.8" r="2.4"/><circle cx="1004.9" cy="623.3" r="2.4"/><circle cx="1009.1" cy="624" r="2.4"/><circle cx="1037.2" cy="625.8" r="2.4"/><circle cx="1037.2" cy="631.1" r="2.4"/><circle cx="1054.7" cy="637" r="2.4"/><circle cx="1060" cy="638.1" r="2.4"/><circle cx="926.7" cy="653.2" r="2.4"/><circle cx="963.5" cy="646.1" r="2.4"/><circle cx="982.8" cy="645.8" r="2.4"/><circle cx="988.1" cy="646.1" r="2.4"/><circle cx="998.6" cy="652.1" r="2.4"/><circle cx="998.6" cy="657.4" r="2.4"/><circle cx="1021.4" cy="642.6" r="2.4"/><circle cx="1021.4" cy="648.6" r="2.4"/><circle cx="909.1" cy="668.9" r="2.4"/><circle cx="914.4" cy="672.5" r="2.4"/><circle cx="931.2" cy="665.4" r="2.4"/><circle cx="931.2" cy="671.4" r="2.4"/><circle cx="951.2" cy="666.1" r="2.4"/><circle cx="954.7" cy="666.1" r="2.4"/><circle cx="975.8" cy="657.4" r="2.4"/><circle cx="979.3" cy="655.6" r="2.4"/><circle cx="987.4" cy="666.1" r="2.4"/><circle cx="987.4" cy="671.4" r="2.4"/><circle cx="967" cy="674.9" r="2.4"/><circle cx="970.5" cy="676.7" r="2.4"/><circle cx="945.3" cy="678.4" r="2.4"/><circle cx="949.5" cy="676.7" r="2.4"/><circle cx="953" cy="687.2" r="2.4"/><circle cx="958.2" cy="688.9" r="2.4"/><circle cx="886.3" cy="673.2" r="2.4"/><circle cx="888.1" cy="678.4" r="2.4"/><circle cx="891.6" cy="694.2" r="2.4"/><circle cx="897.9" cy="694.2" r="2.4"/><circle cx="911.9" cy="687.2" r="2.4"/><circle cx="911.9" cy="693.5" r="2.4"/><circle cx="937.2" cy="696" r="2.4"/><circle cx="938.9" cy="699.5" r="2.4"/><circle cx="914.4" cy="708.2" r="2.4"/><circle cx="919.6" cy="707.2" r="2.4"/><circle cx="893.3" cy="708.2" r="2.4"/><circle cx="893.3" cy="715.3" r="2.4"/><circle cx="810.9" cy="687.2" r="2.4"/><circle cx="812.6" cy="696" r="2.4"/><circle cx="811.9" cy="704.7" r="2.4"/><circle cx="816.1" cy="696" r="2.4"/><circle cx="842.5" cy="691.8" r="2.4"/><circle cx="857.2" cy="714.6" r="2.4"/><circle cx="857.2" cy="719.8" r="2.4"/><circle cx="784.6" cy="721.2" r="2.4"/><circle cx="842.5" cy="730" r="2.4"/><circle cx="847.7" cy="727.5" r="2.4"/><circle cx="868.8" cy="727.5" r="2.4"/><circle cx="882.1" cy="725.1" r="2.4"/><circle cx="683.5" cy="432.8" r="2.4"/><circle cx="712.6" cy="433.5" r="2.4"/><circle cx="672.3" cy="451.4" r="2.4"/><circle cx="654.7" cy="577.4" r="2.4"/><circle cx="656.5" cy="598.4" r="2.4"/><circle cx="660" cy="597" r="2.4"/><circle cx="675.8" cy="634.6" r="2.4"/><circle cx="682.1" cy="645.1" r="2.4"/><circle cx="749.5" cy="406.5" r="2.4"/><circle cx="751.2" cy="417" r="2.4"/><circle cx="631.9" cy="625.8" r="2.4"/><circle cx="647.7" cy="646.8" r="2.4"/><circle cx="644.2" cy="627.5" r="2.4"/><circle cx="651.9" cy="631.1" r="2.4"/><circle cx="651.9" cy="515.3" r="2.4"/><circle cx="651.9" cy="518.8" r="2.4"/><circle cx="651.6" cy="522.3" r="2.4"/><circle cx="651.2" cy="525.8" r="2.4"/></g><g fill="#8fd6dc"><circle cx="820.4" cy="349.6" r="2.4"/><circle cx="665.3" cy="404" r="2.4"/><circle cx="669.5" cy="399.5" r="2.4"/><circle cx="677.5" cy="414.6" r="2.4"/><circle cx="675.1" cy="418.8" r="2.4"/><circle cx="681.1" cy="420.5" r="2.4"/><circle cx="705.6" cy="418.8" r="2.4"/><circle cx="709.1" cy="422.3" r="2.4"/><circle cx="642.5" cy="432.1" r="2.4"/><circle cx="638.9" cy="437" r="2.4"/><circle cx="624.9" cy="460.9" r="2.4"/><circle cx="630.2" cy="460.9" r="2.4"/><circle cx="640.7" cy="453.9" r="2.4"/><circle cx="640.7" cy="459.1" r="2.4"/><circle cx="654.7" cy="453.9" r="2.4"/><circle cx="660" cy="452.1" r="2.4"/><circle cx="661.8" cy="464.4" r="2.4"/><circle cx="665.3" cy="465.1" r="2.4"/><circle cx="614.4" cy="488.9" r="2.4"/><circle cx="614.4" cy="494.2" r="2.4"/><circle cx="605.6" cy="499.5" r="2.4"/><circle cx="608.4" cy="504" r="2.4"/><circle cx="679.3" cy="488.9" r="2.4"/><circle cx="684.6" cy="487.2" r="2.4"/><circle cx="633.7" cy="511.8" r="2.4"/><circle cx="635.4" cy="508.2" r="2.4"/><circle cx="679.3" cy="471.4" r="2.4"/><circle cx="681.1" cy="476.7" r="2.4"/></g><g fill="#6a2c8a"><circle cx="634.4" cy="538.1" r="2.4"/><circle cx="614.4" cy="567.9" r="2.4"/><circle cx="619.6" cy="571.4" r="2.4"/><circle cx="640.7" cy="578.4" r="2.4"/><circle cx="640.7" cy="583.7" r="2.4"/><circle cx="673" cy="550.4" r="2.4"/><circle cx="663.5" cy="539.8" r="2.4"/></g><g fill="#c9461d"><circle cx="705.6" cy="651.1" r="2.4"/><circle cx="731.9" cy="656.7" r="2.4"/><circle cx="737.2" cy="659.1" r="2.4"/></g><g fill="#c9c6c4"><circle cx="688.1" cy="667.9" r="2.4"/><circle cx="688.1" cy="674.9" r="2.4"/><circle cx="702.1" cy="686.1" r="2.4"/><circle cx="747.7" cy="694.2" r="2.4"/><circle cx="747.7" cy="700.2" r="2.4"/><circle cx="650.5" cy="510" r="2.4"/><circle cx="630.2" cy="532.8" r="2.4"/></g><text x="844" y="780.8" font-size="21" text-anchor="middle">Y2</text>
<path d="M1512.3,578.2L1651.1,567.1M1508.2,586.3L1651.1,567.1M1505.5,589.4L1651.1,567.1M1496.3,595.8L1651.1,567.1M1508.2,586.2L1651.1,567.1M1497.7,595.2L1651.1,567.1M1494.2,541.3L1651.1,567.1M1513.7,566.3L1651.1,567.1M1496.2,595.8L1651.1,567.1M1511.6,580.1L1651.1,567.1M1499.1,594.4L1651.1,567.1M1500,544.1L1651.1,567.1M1513.7,566.6L1651.1,567.1M1507.6,550.9L1651.1,567.1M1513.6,572.3L1651.1,567.1M1513.3,574.6L1651.1,567.1M1493.1,540.9L1651.1,567.1M1506.1,549.1L1651.1,567.1M1509.1,552.9L1651.1,567.1M1498.1,594.9L1651.1,567.1M1507,587.7L1651.1,567.1M1502.9,546.1L1651.1,567.1M1505.4,589.5L1651.1,567.1M1501.7,545.2L1651.1,567.1M1512.5,577.8L1651.1,567.1M1500.9,544.6L1651.1,567.1M1489.7,540.1L1610.5,554.3M1512.2,559.4L1610.5,554.3M1496.7,542.3L1610.5,554.3M1496.9,542.4L1610.5,554.3M1513.3,563.2L1610.5,554.3M1512.2,559.4L1610.5,554.3M1499.3,543.6L1610.5,554.3M1513.1,562.5L1610.5,554.3" stroke="#cfcdcb" stroke-width="0.7" fill="none"/><path d="M1640.3,407.7L1655,434.7M1644.2,405.9L1657.2,433.6M1647.8,404.3L1658.4,432.9M1651.6,402.9L1659.5,432.5M1655,402L1660.6,432M1651.1,567.1L1631.3,529.5M1651.1,567.1L1625.2,520M1520.8,543L1625.2,520M1528.5,518.2L1504.8,530.2M1530.8,525L1518.3,543M1428.1,538.5L1456.3,556.5" stroke="#d3d1cf" stroke-width="0.7" fill="none"/><circle cx="1432.2" cy="428" r="52" fill="#ecebea" fill-opacity="0.30"/><path d="M1418.5,376.8L1390.1,395.7M1425.3,480.5L1383.2,407.7M1478.1,401.5L1439.1,480.5M1379.2,428L1483.4,414.3M1484.7,434.9L1383.2,407.7M1381,414.3L1452.5,379M1452.5,476.9L1386.3,401.5M1478.1,454.5L1386.3,401.5M1390.1,460.2L1432.2,481M1439.1,375.4L1458.7,382.1M1445.9,376.8L1418.5,479.2M1478.1,454.5L1381,414.3M1381,441.7L1478.1,401.5M1394.7,390.5L1474.2,460.2M1439.1,480.5L1478.1,401.5M1394.7,390.5L1478.1,401.5M1481.2,448.3L1381,441.7M1484.7,434.9L1381,414.3M1379.6,421.1L1390.1,395.7M1425.3,375.4L1405.7,473.9M1379.6,434.9L1483.4,441.7M1439.1,375.4L1458.7,382.1M1386.3,401.5L1411.9,379M1481.2,407.7L1439.1,480.5M1452.5,379L1469.7,465.5M1464.4,470L1379.6,421.1M1390.1,395.7L1469.7,465.5M1405.7,382.1L1452.5,476.9M1411.9,379L1478.1,454.5M1390.1,395.7L1445.9,376.8M1439.1,375.4L1411.9,476.9M1394.7,465.5L1379.6,434.9M1383.2,407.7L1425.3,375.4M1425.3,480.5L1439.1,375.4M1405.7,382.1L1381,414.3M1379.6,434.9L1425.3,375.4M1383.2,448.3L1464.4,385.9M1478.1,401.5L1411.9,379M1474.2,460.2L1383.2,407.7M1474.2,395.7L1394.7,465.5M1390.1,460.2L1411.9,379M1474.2,460.2L1485.2,428M1452.5,476.9L1399.9,385.9M1394.7,390.5L1474.2,395.7M1483.4,414.3L1478.1,454.5M1474.2,460.2L1483.4,414.3M1418.5,376.8L1418.5,479.2M1483.4,441.7L1386.3,454.5M1484.7,421.1L1458.7,382.1M1381,441.7L1464.4,385.9M1390.1,395.7L1379.6,421.1M1381,414.3L1445.9,376.8M1481.2,448.3L1483.4,414.3M1483.4,441.7L1432.2,375M1383.2,448.3L1439.1,375.4M1458.7,473.9L1484.7,421.1M1458.7,473.9L1481.2,448.3M1381,414.3L1425.3,375.4M1445.9,479.2L1458.7,382.1M1379.6,434.9L1425.3,375.4M1481.2,448.3L1405.7,382.1M1394.7,465.5L1394.7,390.5M1390.1,395.7L1379.6,434.9M1445.9,479.2L1483.4,414.3M1390.1,395.7L1411.9,476.9M1478.1,401.5L1390.1,460.2M1394.7,390.5L1483.4,441.7M1394.7,465.5L1481.2,448.3M1379.6,421.1L1439.1,375.4M1464.4,470L1418.5,376.8M1418.5,376.8L1485.2,428M1458.7,382.1L1381,414.3M1383.2,448.3L1425.3,375.4M1474.2,460.2L1452.5,379M1399.9,470L1478.1,454.5M1425.3,375.4L1381,441.7M1379.6,434.9L1394.7,390.5M1381,441.7L1418.5,479.2M1469.7,390.5L1484.7,421.1M1390.1,460.2L1481.2,407.7M1425.3,375.4L1464.4,470M1399.9,385.9L1483.4,441.7M1478.1,401.5L1399.9,470M1383.2,448.3L1399.9,470M1439.1,480.5L1481.2,448.3M1485.2,428L1411.9,379M1425.3,375.4L1469.7,465.5M1386.3,454.5L1458.7,382.1M1390.1,395.7L1483.4,441.7M1405.7,382.1L1386.3,401.5" stroke="#cbc8c6" stroke-width="0.6" fill="none" stroke-opacity="0.85"/><circle cx="1318.7" cy="464.7" r="23.8" fill="#ecebea" fill-opacity="0.55"/><path d="M1327.5,441.5L1304.6,485.2M1296.8,476.3L1332.8,444.3M1321.7,440.1L1309.9,487.9M1337.3,448.3L1293.9,464.7M1296.8,476.3L1315.7,440.1M1332.8,444.3L1293.9,464.7M1296.8,476.3L1340.7,453.2M1300.1,448.3L1337.3,448.3M1300.1,448.3L1340.7,453.2M1321.7,489.4L1321.7,440.1M1296.8,453.2L1342.8,470.7M1332.8,444.3L1342.8,470.7M1337.3,448.3L1293.9,464.7M1327.5,487.9L1342.8,470.7M1340.7,453.2L1315.7,440.1M1300.1,448.3L1321.7,489.4M1304.6,485.2L1327.5,487.9M1304.6,444.3L1340.7,476.3M1337.3,448.3L1343.5,464.7M1321.7,489.4L1294.6,458.8M1309.9,441.5L1304.6,485.2M1315.7,440.1L1342.8,470.7M1315.7,489.4L1296.8,453.2M1321.7,440.1L1340.7,453.2M1296.8,453.2L1342.8,458.8M1327.5,487.9L1304.6,485.2M1332.8,485.2L1300.1,481.2M1300.1,481.2L1309.9,441.5M1296.8,453.2L1340.7,453.2M1304.6,444.3L1327.5,441.5M1293.9,464.7L1332.8,485.2M1296.8,476.3L1343.5,464.7M1327.5,441.5L1304.6,444.3M1340.7,476.3L1337.3,448.3M1321.7,489.4L1300.1,448.3M1332.8,444.3L1300.1,481.2M1343.5,464.7L1294.6,458.8M1294.6,470.7L1337.3,448.3M1293.9,464.7L1315.7,440.1M1332.8,444.3L1300.1,448.3M1296.8,476.3L1296.8,453.2M1304.6,444.3L1293.9,464.7M1304.6,485.2L1296.8,453.2M1304.6,485.2L1337.3,481.2M1300.1,448.3L1337.3,481.2" stroke="#cbc8c6" stroke-width="0.6" fill="none" stroke-opacity="0.85"/><circle cx="1348" cy="576.8" r="59.9" fill="#ecebea" fill-opacity="0.54"/><path d="M1289.5,560.2L1287.4,582.5M1316,525.1L1288.2,588M1353.7,637.5L1316,525.1M1353.7,516.2L1293.5,549.7M1326,520.1L1380.1,628.6M1342.4,637.5L1289.5,593.5M1331.4,518.3L1336.9,636.7M1396.6,540.1L1380.1,525.1M1307,621.8L1326,633.6M1348,637.7L1384.7,528.2M1380.1,628.6L1288.2,565.7M1408.9,576.8L1299.4,613.5M1370,633.6L1288.2,565.7M1342.4,637.5L1299.4,540.1M1331.4,518.3L1384.7,625.4M1370,520.1L1404.8,598.8M1402.6,549.7L1353.7,637.5M1396.6,540.1L1299.4,540.1M1331.4,518.3L1396.6,613.5M1331.4,635.4L1396.6,540.1M1287.4,582.5L1359.2,636.7M1291.3,554.8L1404.8,598.8M1288.2,588L1396.6,540.1M1407.9,588L1307,621.8M1293.5,549.7L1402.6,604M1288.2,565.7L1331.4,518.3M1396.6,540.1L1406.6,560.2M1359.2,636.7L1393.1,535.8M1375.2,522.3L1399.8,608.9M1289.5,560.2L1303,535.8M1348,637.7L1404.8,598.8M1342.4,516.2L1359.2,517M1396.6,540.1L1291.3,598.8M1287.4,571.2L1359.2,517M1393.1,535.8L1316,525.1M1404.8,598.8L1320.9,631.4M1399.8,544.8L1364.7,635.4M1336.9,636.7L1408.9,576.8M1288.2,565.7L1380.1,525.1M1402.6,549.7L1288.2,565.7M1393.1,535.8L1296.3,608.9M1359.2,636.7L1336.9,636.7M1353.7,637.5L1291.3,554.8M1288.2,565.7L1402.6,604M1307,531.8L1348,637.7M1289.5,560.2L1342.4,637.5M1408.7,571.2L1406.6,593.5M1389.1,531.8L1353.7,637.5M1320.9,522.3L1311.3,625.4M1353.7,637.5L1326,633.6M1408.9,576.8L1336.9,636.7M1384.7,528.2L1288.2,565.7M1370,633.6L1404.8,598.8M1311.3,625.4L1299.4,613.5M1364.7,518.3L1291.3,554.8M1364.7,518.3L1299.4,613.5M1396.6,540.1L1342.4,516.2M1336.9,517L1364.7,635.4M1342.4,516.2L1296.3,608.9M1307,621.8L1348,637.7M1289.5,560.2L1408.7,582.5M1393.1,617.9L1291.3,598.8M1408.9,576.8L1326,520.1M1370,520.1L1299.4,613.5M1288.2,565.7L1375.2,631.4M1393.1,535.8L1359.2,517M1293.5,549.7L1348,515.9M1326,633.6L1364.7,518.3M1402.6,549.7L1336.9,636.7M1336.9,636.7L1336.9,517M1399.8,608.9L1370,633.6M1293.5,604L1336.9,517M1384.7,625.4L1402.6,549.7M1393.1,617.9L1359.2,517M1406.6,593.5L1299.4,613.5M1364.7,518.3L1396.6,540.1M1348,515.9L1291.3,598.8M1399.8,544.8L1408.9,576.8M1359.2,636.7L1406.6,593.5M1359.2,636.7L1288.2,588M1364.7,635.4L1399.8,544.8M1348,637.7L1291.3,554.8M1375.2,522.3L1408.9,576.8M1316,628.6L1406.6,560.2M1316,628.6L1353.7,516.2M1331.4,635.4L1299.4,613.5M1299.4,613.5L1288.2,588M1370,633.6L1384.7,528.2M1331.4,518.3L1291.3,598.8M1389.1,621.8L1293.5,604M1396.6,613.5L1320.9,522.3M1359.2,636.7L1406.6,560.2M1348,515.9L1303,535.8M1348,637.7L1331.4,635.4M1370,520.1L1402.6,549.7M1296.3,544.8L1342.4,637.5M1399.8,544.8L1296.3,608.9M1316,525.1L1296.3,544.8M1326,520.1L1296.3,544.8M1396.6,613.5L1342.4,637.5M1289.5,560.2L1336.9,517M1404.8,554.8L1348,637.7M1296.3,608.9L1326,520.1M1393.1,617.9L1320.9,522.3M1291.3,598.8L1336.9,517M1288.2,565.7L1404.8,598.8M1348,637.7L1406.6,593.5M1291.3,598.8L1331.4,635.4M1326,520.1L1380.1,628.6M1336.9,517L1402.6,549.7M1353.7,637.5L1404.8,554.8M1407.9,588L1320.9,522.3M1307,531.8L1348,515.9M1404.8,598.8L1375.2,631.4M1359.2,636.7L1342.4,516.2M1384.7,528.2L1393.1,617.9M1336.9,517L1296.3,544.8M1389.1,531.8L1311.3,625.4M1299.4,540.1L1342.4,516.2M1408.7,571.2L1406.6,593.5M1336.9,517L1370,520.1M1336.9,636.7L1364.7,635.4M1364.7,518.3L1288.2,588M1296.3,608.9L1384.7,625.4M1364.7,635.4L1320.9,631.4M1399.8,544.8L1336.9,517M1299.4,613.5L1291.3,554.8M1331.4,518.3L1402.6,604M1291.3,598.8L1348,515.9M1303,535.8L1288.2,565.7M1311.3,528.2L1293.5,604M1336.9,517L1393.1,617.9M1348,637.7L1407.9,565.7M1316,525.1L1326,633.6M1289.5,560.2L1316,628.6M1370,520.1L1348,515.9M1320.9,522.3L1364.7,635.4M1404.8,598.8L1311.3,528.2M1299.4,613.5L1389.1,621.8M1316,628.6L1348,515.9M1393.1,617.9L1348,637.7M1404.8,598.8L1389.1,621.8M1316,628.6L1291.3,554.8M1307,621.8L1291.3,598.8M1399.8,544.8L1359.2,517M1396.6,540.1L1291.3,554.8M1311.3,528.2L1326,520.1M1364.7,518.3L1336.9,636.7M1291.3,554.8L1293.5,604M1364.7,518.3L1389.1,621.8M1389.1,531.8L1316,628.6M1375.2,631.4L1299.4,613.5M1336.9,636.7L1402.6,549.7M1331.4,635.4L1299.4,613.5M1326,520.1L1289.5,560.2M1336.9,517L1293.5,549.7M1393.1,535.8L1404.8,598.8M1288.2,588L1303,535.8M1287.4,571.2L1320.9,631.4M1331.4,635.4L1406.6,593.5M1288.2,565.7L1364.7,635.4M1291.3,598.8L1287.4,571.2M1396.6,540.1L1359.2,517M1404.8,598.8L1293.5,604M1326,520.1L1407.9,588M1396.6,613.5L1364.7,518.3M1407.9,588L1331.4,518.3M1384.7,528.2L1316,628.6M1336.9,636.7L1293.5,604M1299.4,540.1L1399.8,544.8M1384.7,528.2L1288.2,565.7M1291.3,598.8L1380.1,628.6M1331.4,635.4L1307,621.8M1307,621.8L1402.6,604M1406.6,593.5L1303,535.8M1293.5,604L1399.8,608.9M1384.7,625.4L1353.7,516.2M1348,515.9L1311.3,528.2M1320.9,522.3L1311.3,625.4M1293.5,549.7L1359.2,517M1389.1,531.8L1348,637.7M1288.2,565.7L1307,531.8M1389.1,531.8L1404.8,598.8M1291.3,598.8L1311.3,528.2M1303,617.9L1326,633.6M1402.6,604L1336.9,517M1370,520.1L1288.2,565.7M1287.1,576.8L1289.5,560.2M1389.1,531.8L1406.6,560.2M1380.1,525.1L1299.4,540.1M1353.7,516.2L1406.6,560.2M1402.6,604L1384.7,625.4M1407.9,565.7L1289.5,560.2M1311.3,528.2L1293.5,549.7M1375.2,631.4L1393.1,535.8M1389.1,621.8L1299.4,613.5M1399.8,544.8L1407.9,588M1393.1,535.8L1407.9,565.7M1289.5,593.5L1396.6,613.5M1399.8,608.9L1296.3,544.8M1342.4,516.2L1287.4,571.2M1396.6,613.5L1370,633.6M1288.2,588L1331.4,635.4M1353.7,516.2L1359.2,636.7M1293.5,549.7L1364.7,635.4M1399.8,608.9L1406.6,560.2M1404.8,598.8L1408.7,571.2M1311.3,625.4L1291.3,554.8M1406.6,560.2L1296.3,544.8M1348,515.9L1407.9,565.7M1293.5,604L1289.5,560.2M1296.3,544.8L1307,621.8M1370,633.6L1326,633.6M1331.4,635.4L1396.6,540.1M1389.1,621.8L1407.9,565.7M1299.4,613.5L1408.7,582.5M1407.9,588L1287.4,582.5M1316,525.1L1380.1,628.6M1364.7,518.3L1307,621.8M1331.4,518.3L1353.7,637.5M1353.7,637.5L1406.6,560.2M1408.7,582.5L1399.8,544.8M1293.5,549.7L1342.4,637.5M1380.1,525.1L1336.9,517M1296.3,608.9L1407.9,565.7M1364.7,635.4L1307,621.8M1293.5,549.7L1404.8,598.8M1380.1,628.6L1402.6,549.7M1287.4,582.5L1331.4,635.4M1348,515.9L1399.8,608.9M1353.7,637.5L1299.4,613.5M1384.7,625.4L1307,531.8M1289.5,593.5L1384.7,625.4M1384.7,625.4L1404.8,554.8M1364.7,518.3L1342.4,516.2M1289.5,593.5L1348,515.9M1396.6,613.5L1299.4,540.1M1289.5,593.5L1289.5,560.2M1307,621.8L1384.7,625.4M1288.2,565.7L1299.4,613.5M1326,520.1L1291.3,554.8M1375.2,631.4L1336.9,636.7M1359.2,517L1289.5,560.2M1296.3,544.8L1408.7,571.2M1408.9,576.8L1393.1,535.8M1288.2,565.7L1375.2,631.4M1353.7,637.5L1370,520.1M1406.6,593.5L1287.1,576.8M1342.4,637.5L1402.6,604M1407.9,588L1348,515.9M1399.8,608.9L1359.2,517M1364.7,518.3L1399.8,608.9M1370,633.6L1408.7,571.2M1331.4,518.3L1342.4,637.5M1353.7,637.5L1293.5,549.7M1393.1,617.9L1291.3,598.8M1326,633.6L1288.2,588M1287.4,582.5L1408.7,571.2M1299.4,540.1L1399.8,544.8M1404.8,598.8L1380.1,628.6" stroke="#cbc8c6" stroke-width="0.6" fill="none" stroke-opacity="0.85"/><circle cx="1484.5" cy="568.9" r="28.3" fill="#ecebea" fill-opacity="0.47"/><path d="M1461.6,550.7L1471.8,595.4M1513.8,568.9L1507.4,587.2M1507.4,587.2L1484.5,598.3M1502.8,591.9L1466.2,546M1455.9,575.5L1502.8,546M1471.8,542.5L1491,540.4M1484.5,598.3L1510.9,556.2M1455.9,575.5L1478,540.4M1461.6,587.2L1478,540.4M1466.2,591.9L1502.8,546M1513.8,568.9L1478,597.5M1466.2,546L1458.1,581.7M1510.9,556.2L1491,597.5M1497.2,542.5L1513.1,575.5M1478,597.5L1513.1,562.4M1471.8,542.5L1513.1,562.4M1478,540.4L1513.1,562.4M1455.2,568.9L1510.9,581.7M1507.4,550.7L1455.9,575.5M1507.4,587.2L1458.1,556.2M1466.2,591.9L1513.1,562.4M1484.5,598.3L1502.8,546M1471.8,542.5L1484.5,598.3M1497.2,595.4L1491,540.4M1513.1,575.5L1507.4,550.7M1497.2,595.4L1507.4,550.7M1455.9,562.4L1497.2,595.4M1471.8,542.5L1491,540.4M1507.4,587.2L1466.2,591.9M1510.9,556.2L1455.2,568.9M1484.5,539.6L1507.4,550.7M1491,597.5L1471.8,595.4M1513.1,575.5L1491,540.4M1484.5,598.3L1507.4,550.7M1491,540.4L1478,597.5M1458.1,581.7L1513.1,575.5M1491,597.5L1455.9,562.4M1478,597.5L1461.6,550.7M1471.8,595.4L1513.1,575.5M1458.1,556.2L1510.9,581.7M1502.8,546L1491,597.5M1461.6,587.2L1507.4,550.7M1507.4,550.7L1484.5,598.3M1510.9,556.2L1491,540.4M1510.9,556.2L1510.9,581.7M1471.8,542.5L1471.8,595.4M1458.1,581.7L1510.9,556.2M1502.8,591.9L1461.6,587.2M1510.9,556.2L1478,597.5M1455.9,562.4L1510.9,581.7" stroke="#cbc8c6" stroke-width="0.6" fill="none" stroke-opacity="0.85"/><circle cx="1681.4" cy="492.9" r="62.2" fill="#ecebea" fill-opacity="0.34"/><path d="M1740,516.4L1702,552.6M1655.1,550.4L1678.4,429.8M1707.6,550.4L1742,475.1M1620.8,475.1L1620.8,510.7M1635.7,536.5L1707.6,550.4M1635.7,449.3L1727.1,536.5M1734.5,458.8L1696.3,431.6M1712.9,547.6L1744.2,486.9M1635.7,536.5L1696.3,431.6M1744.2,498.9L1718,544.4M1744.2,486.9L1631.7,453.9M1644.7,544.4L1707.6,550.4M1678.4,429.8L1702,433.2M1631.7,453.9L1660.7,552.6M1742,510.7L1655.1,435.5M1628.2,458.8L1727.1,536.5M1678.4,429.8L1672.4,555.4M1734.5,458.8L1619.4,504.9M1690.4,430.4L1684.4,556M1731,532L1649.8,438.2M1672.4,555.4L1734.5,527.1M1702,433.2L1702,552.6M1743.4,504.9L1672.4,430.4M1631.7,532L1666.5,431.6M1620.8,475.1L1644.7,441.5M1742,510.7L1712.9,547.6M1655.1,435.5L1655.1,550.4M1696.3,431.6L1727.1,536.5M1744.2,498.9L1655.1,550.4M1620.8,510.7L1622.7,469.5M1740,516.4L1712.9,438.2M1712.9,547.6L1718,441.5M1625.2,464L1618.5,498.9M1649.8,438.2L1635.7,536.5M1631.7,532L1731,453.9M1712.9,547.6L1737.5,521.9M1690.4,555.4L1618.2,492.9M1644.7,441.5L1620.8,510.7M1707.6,435.5L1684.4,556M1744.5,492.9L1655.1,435.5M1678.4,429.8L1718,544.4M1649.8,547.6L1731,532M1631.7,532L1655.1,550.4M1635.7,449.3L1743.4,504.9M1635.7,449.3L1684.4,429.8M1666.5,431.6L1744.2,486.9M1707.6,550.4L1625.2,521.9M1622.7,469.5L1731,453.9M1618.5,486.9L1649.8,547.6M1722.7,540.7L1742,510.7M1655.1,550.4L1625.2,521.9M1696.3,431.6L1625.2,464M1644.7,544.4L1631.7,453.9M1727.1,536.5L1666.5,431.6M1696.3,431.6L1690.4,555.4M1622.7,516.4L1731,453.9M1737.5,464L1619.4,504.9M1619.4,504.9L1702,433.2M1702,433.2L1731,532M1718,544.4L1690.4,430.4M1640,445.2L1718,441.5M1702,433.2L1722.7,445.2M1666.5,554.3L1622.7,516.4M1622.7,469.5L1718,544.4M1644.7,544.4L1702,433.2M1640,540.7L1666.5,431.6M1702,552.6L1722.7,445.2M1640,445.2L1635.7,536.5M1722.7,540.7L1690.4,555.4M1740,469.5L1731,532M1722.7,540.7L1618.5,498.9M1640,540.7L1690.4,555.4M1731,453.9L1622.7,469.5M1678.4,429.8L1655.1,435.5M1622.7,516.4L1644.7,544.4M1737.5,464L1690.4,430.4M1707.6,550.4L1690.4,555.4M1640,540.7L1740,516.4M1660.7,552.6L1620.8,510.7M1712.9,547.6L1619.4,481M1666.5,554.3L1655.1,435.5M1702,552.6L1696.3,431.6M1718,441.5L1631.7,453.9M1635.7,449.3L1620.8,510.7M1644.7,544.4L1737.5,521.9M1702,552.6L1628.2,458.8M1702,552.6L1743.4,504.9M1727.1,536.5L1644.7,544.4M1631.7,532L1678.4,429.8M1666.5,431.6L1737.5,464M1727.1,449.3L1696.3,431.6M1718,544.4L1625.2,521.9M1690.4,430.4L1649.8,547.6M1731,453.9L1660.7,552.6M1744.5,492.9L1718,544.4M1666.5,431.6L1727.1,449.3M1744.5,492.9L1618.5,486.9M1672.4,430.4L1734.5,527.1M1722.7,540.7L1644.7,441.5M1622.7,469.5L1635.7,449.3M1696.3,554.3L1743.4,504.9M1737.5,464L1660.7,552.6M1635.7,536.5L1660.7,552.6M1644.7,441.5L1740,516.4M1672.4,555.4L1628.2,458.8M1742,475.1L1635.7,449.3M1712.9,547.6L1684.4,429.8M1696.3,554.3L1619.4,481M1696.3,431.6L1718,544.4M1727.1,536.5L1649.8,438.2M1712.9,438.2L1737.5,464M1625.2,521.9L1722.7,445.2M1620.8,510.7L1684.4,429.8M1722.7,540.7L1655.1,550.4M1618.5,486.9L1644.7,441.5M1737.5,464L1635.7,536.5M1644.7,544.4L1734.5,458.8M1678.4,429.8L1631.7,453.9M1619.4,504.9L1628.2,458.8M1722.7,445.2L1684.4,556M1684.4,556L1740,516.4M1718,544.4L1702,552.6M1672.4,555.4L1649.8,438.2M1743.4,504.9L1734.5,527.1M1618.5,498.9L1740,516.4M1727.1,449.3L1666.5,554.3M1718,544.4L1684.4,556M1628.2,527.1L1640,445.2M1718,441.5L1731,453.9M1734.5,458.8L1620.8,510.7M1718,544.4L1620.8,510.7M1734.5,458.8L1622.7,516.4M1743.4,504.9L1727.1,536.5M1660.7,552.6L1672.4,430.4M1743.4,481L1625.2,521.9M1740,516.4L1660.7,552.6M1742,510.7L1618.5,498.9M1696.3,431.6L1631.7,453.9M1712.9,438.2L1684.4,429.8M1672.4,430.4L1690.4,430.4M1655.1,550.4L1690.4,555.4M1644.7,441.5L1712.9,438.2M1625.2,464L1640,540.7M1640,540.7L1707.6,435.5M1722.7,540.7L1619.4,481M1628.2,527.1L1712.9,438.2M1702,433.2L1743.4,504.9M1618.5,486.9L1655.1,435.5M1734.5,458.8L1660.7,552.6M1620.8,475.1L1628.2,458.8" stroke="#cbc8c6" stroke-width="0.6" fill="none" stroke-opacity="0.85"/><circle cx="1740.7" cy="593.3" r="32.8" fill="#ecebea" fill-opacity="0.49"/><path d="M1752.3,625.1L1772.5,581.7M1734.8,626.6L1774,599.2M1752.3,561.5L1772.5,581.7M1766.6,615.1L1746.6,560M1723.8,564L1746.6,560M1734.8,560L1711.4,576.4M1740.7,627.1L1706.9,593.3M1774,599.2L1740.7,559.5M1762.4,567.4L1746.6,626.6M1752.3,561.5L1774.5,593.3M1752.3,561.5L1770,610.2M1766.6,615.1L1774.5,593.3M1718.9,567.4L1740.7,627.1M1774,599.2L1766.6,615.1M1729.1,625.1L1770,610.2M1740.7,559.5L1766.6,571.6M1707.4,599.2L1723.8,564M1718.9,567.4L1774.5,593.3M1718.9,619.2L1708.9,581.7M1706.9,593.3L1774,599.2M1774,587.4L1766.6,615.1M1706.9,593.3L1723.8,564M1757.6,622.6L1752.3,561.5M1729.1,561.5L1770,610.2M1707.4,587.4L1770,576.4M1757.6,564L1714.8,615.1M1746.6,560L1714.8,571.6M1711.4,610.2L1774.5,593.3M1746.6,626.6L1707.4,587.4M1774,599.2L1711.4,576.4M1774.5,593.3L1734.8,560M1723.8,564L1762.4,567.4M1711.4,610.2L1770,576.4M1770,610.2L1757.6,622.6M1774.5,593.3L1740.7,559.5M1718.9,619.2L1752.3,561.5M1714.8,615.1L1770,576.4M1711.4,610.2L1752.3,625.1M1707.4,587.4L1718.9,567.4M1766.6,571.6L1757.6,622.6M1772.5,604.9L1740.7,559.5M1723.8,564L1707.4,587.4M1714.8,571.6L1718.9,619.2M1774,599.2L1711.4,576.4M1707.4,587.4L1774.5,593.3M1746.6,560L1772.5,581.7M1752.3,625.1L1770,610.2M1718.9,567.4L1746.6,626.6M1770,576.4L1746.6,626.6M1723.8,564L1770,610.2M1707.4,587.4L1718.9,619.2M1734.8,626.6L1762.4,567.4M1766.6,615.1L1740.7,559.5M1746.6,560L1766.6,571.6M1718.9,619.2L1766.6,571.6M1723.8,564L1757.6,564M1766.6,571.6L1746.6,626.6M1774,587.4L1718.9,619.2M1734.8,560L1770,576.4M1752.3,561.5L1752.3,625.1M1766.6,615.1L1714.8,571.6M1774.5,593.3L1711.4,576.4M1718.9,619.2L1772.5,581.7M1752.3,561.5L1770,576.4M1770,610.2L1752.3,561.5M1762.4,619.2L1729.1,625.1M1711.4,576.4L1708.9,604.9M1740.7,627.1L1718.9,567.4M1711.4,576.4L1766.6,571.6M1707.4,599.2L1774,587.4" stroke="#cbc8c6" stroke-width="0.6" fill="none" stroke-opacity="0.85"/><circle cx="1564.8" cy="658.5" r="31.7" fill="#ecebea" fill-opacity="0.55"/><path d="M1561.7,691.1L1596.9,664.5M1573.7,690L1532.6,652.5M1532.6,664.5L1550.2,687.8M1596.9,664.5L1555.8,627M1532.6,664.5L1592.6,641.3M1555.8,690L1596.9,652.5M1534.3,670.3L1579.3,687.8M1532.6,664.5L1592.6,675.7M1579.3,629.2L1550.2,629.2M1550.2,687.8L1596.9,652.5M1567.8,691.1L1584.5,632.4M1592.6,675.7L1584.5,632.4M1545,632.4L1567.8,691.1M1573.7,690L1555.8,690M1584.5,632.4L1596.9,652.5M1592.6,641.3L1540.6,636.5M1595.3,670.3L1584.5,684.6M1567.8,625.9L1595.3,646.7M1567.8,625.9L1532.6,652.5M1596.9,652.5L1540.6,636.5M1579.3,629.2L1532.6,664.5M1536.9,675.7L1597.5,658.5M1573.7,690L1595.3,646.7M1588.9,680.5L1588.9,636.5M1584.5,684.6L1561.7,691.1M1588.9,680.5L1584.5,632.4M1584.5,632.4L1573.7,690M1596.9,652.5L1534.3,646.7M1588.9,680.5L1573.7,627M1532,658.5L1550.2,629.2M1561.7,625.9L1532.6,652.5M1534.3,646.7L1588.9,636.5M1584.5,632.4L1573.7,690M1534.3,646.7L1545,632.4M1536.9,641.3L1584.5,684.6M1592.6,641.3L1536.9,675.7M1555.8,627L1592.6,641.3M1540.6,680.5L1555.8,627M1536.9,641.3L1567.8,691.1M1540.6,680.5L1588.9,636.5M1584.5,684.6L1545,684.6M1545,632.4L1573.7,627M1573.7,627L1555.8,690M1596.9,652.5L1545,632.4M1561.7,625.9L1596.9,652.5M1545,684.6L1534.3,646.7M1592.6,641.3L1584.5,684.6M1595.3,646.7L1534.3,670.3M1545,632.4L1561.7,625.9M1561.7,691.1L1561.7,625.9M1532,658.5L1588.9,680.5M1592.6,641.3L1532.6,664.5M1540.6,680.5L1596.9,652.5M1534.3,670.3L1584.5,684.6M1555.8,690L1567.8,625.9M1532.6,664.5L1550.2,687.8M1536.9,641.3L1595.3,646.7M1579.3,687.8L1534.3,670.3M1532.6,664.5L1595.3,646.7M1545,632.4L1532.6,652.5M1596.9,652.5L1555.8,690M1592.6,641.3L1536.9,641.3M1584.5,684.6L1597.5,658.5M1573.7,690L1595.3,646.7M1573.7,690L1536.9,641.3M1579.3,687.8L1545,684.6M1532.6,652.5L1536.9,675.7M1550.2,687.8L1534.3,670.3M1555.8,627L1595.3,646.7M1540.6,636.5L1540.6,680.5M1532.6,664.5L1545,632.4M1567.8,625.9L1545,632.4M1540.6,636.5L1573.7,627M1534.3,646.7L1555.8,627M1532.6,652.5L1561.7,691.1M1540.6,636.5L1592.6,675.7M1567.8,625.9L1592.6,641.3M1588.9,680.5L1532.6,664.5M1588.9,680.5L1545,684.6M1595.3,670.3L1567.8,691.1" stroke="#cbc8c6" stroke-width="0.6" fill="none" stroke-opacity="0.85"/><path d="M1505.1,491.4L1488.7,486.3M1494.4,497.1L1499.5,480.7M1488.7,486.3L1505.1,491.4M1499.5,480.7L1494.4,497.1M1274.4,594.4L1260.2,590M1265.1,599.3L1269.5,585.1M1260.2,590L1274.4,594.4M1269.5,585.1L1265.1,599.3M1288.6,650.1L1274.4,645.7M1279.3,655L1283.7,640.8M1274.4,645.7L1288.6,650.1M1283.7,640.8L1279.3,655M1424.8,709.3L1406.7,703.7M1415.8,716L1415.6,697.1M1406.7,709.6L1424.7,703.5M1410,699L1421.4,714.1M1421.2,698.8L1410.3,714.3M1466.9,683.4L1448.8,677.8M1458,690.1L1457.8,671.1M1448.9,683.7L1466.9,677.5M1452.2,673L1463.6,688.2M1463.4,672.9L1452.4,688.3M1452.2,639.6L1440.1,635.9M1441.5,642L1450.8,633.5M1444.8,631.6L1447.6,643.9M1391.3,655.1L1378.1,654.1M1381.4,658.9L1385.3,646.3M1379.9,648.5L1391.3,655.1M1390.4,649.3L1381.4,658.9M1504.8,648.9L1486.7,643.3M1495.9,655.6L1495.7,636.6M1486.8,649.1L1504.8,643M1490.1,638.5L1501.5,653.7M1501.2,638.3L1490.3,653.8M1674,604.2L1650.3,596.9M1664.9,612.6L1659.4,588.4M1653.1,609L1671.3,592.1M1650.3,596.9L1674,604.2M1659.4,588.4L1664.9,612.6M1671.3,592.1L1653.1,609M1843.9,589.1L1820.2,581.7M1834.8,597.5L1829.3,573.3M1822.9,593.8L1841.1,577M1820.2,581.7L1843.9,589.1M1829.3,573.3L1834.8,597.5M1841.1,577L1822.9,593.8M1645.5,649.8L1626.1,643.8M1635.9,656.9L1635.7,636.6M1626.2,650L1645.4,643.5M1629.7,638.6L1641.9,654.9M1641.7,638.5L1630,655.1M1698.5,403.8L1687.3,403.9M1687.3,403.9L1696.3,397.2M1696.3,397.2L1693,407.9M1779.4,407.3L1767.4,403.5M1768.8,409.7L1778,401.1M1772,399.3L1774.8,411.6M1380.1,368.2L1394.3,388.5M1360.5,394.6L1381.9,407.7M1486.1,376.5L1498,387.4M1482.3,525.6L1486.8,525.6M1486.8,525.6L1491.3,525.6M1491.3,525.6L1495.8,525.6M1257.4,564.9L1288.7,563.8M1314.9,663L1327.7,638.9M1284.2,403.6L1293.5,400.9M1293.5,400.9L1309,400.9M1301.8,410.4L1298.9,426.2M1281.5,418.9L1284.2,403.6M1321,417.1L1320.3,427.3M1320.3,427.3L1317.6,439.2M1254.4,425.3L1257.8,431.4M1257.8,431.4L1263.5,432.9M1263.5,432.9L1268.4,430.2M1263.5,432.9L1292.8,464.1M1268.4,430.2L1293.9,466.3M1243.8,452.1L1258.5,457.3M1283.8,452.1L1281.5,461.1M1235.7,471.5L1232.6,487.3M1258.5,479.8L1255.6,495.2M1290.1,487.7L1281.5,494.5M1281.5,494.5L1273.6,500.8M1226.2,500.6L1223.5,515.9M1210.9,507.6L1200.3,519.3M1242,513.7L1252.2,525.4M1281.1,514.4L1297.3,534M1220.6,543.7L1235.9,543M1225.8,554.3L1212.7,564M1227.4,571.2L1224.7,587M1220.2,608.9L1217.2,624.2M1233,615.2L1248.3,613.6M1269.5,623.8L1291.7,614.1M1433.8,614.1L1405.6,607.3M1249.2,666.6L1246.5,682.9M1270.2,695.3L1284.9,690.3M1305.6,687.8L1309,696.8M1340.6,687.4L1337.9,702.7M1353.2,676.1L1363.8,673.8M1363.8,673.8L1371.7,667.1M1371.7,667.1L1381.4,670.9M1371.7,667.1L1370.2,656.9M1371.3,688.5L1369,703.2M1343.5,719.4L1358.9,716.2M1383.7,707.7L1380.8,722.8M1479.3,691.9L1476.6,707M1439.8,721.2L1454.5,714.9M1446.2,637.7L1457.9,680.6M1457.9,687.4L1423.6,700.9M1405.6,608.4L1443.9,633.2M1610.5,554.3L1625.2,520M1607.6,682.9L1622.3,677.9M1551.9,703.6L1560.2,690.8M1638.1,368.9L1653.2,365.3M1669,362.6L1666.3,377.9M1722.2,359.8L1719.3,375.4M1761,376.5L1749.3,382.2M1749.3,382.2L1733.9,385.8M1761,376.5L1770,390.1M1788.7,389.2L1785.8,404.3M1629.7,381.7L1628.4,391.9M1628.4,391.9L1635.8,398.2M1602.4,385.8L1588.4,393M1607.2,399.3L1604.2,414.9M1713.6,404.7L1703.5,430.2M1734.4,414.9L1717,434.7M1801.1,430.7L1805,439.9M1794.4,442.2L1791.9,457.3M1762.8,445.6L1737.3,457.3M1757.2,478.3L1761.4,488.2M1828.2,490L1825.3,505.8M1810.2,507.6L1795.3,513.2M1821.9,521.6L1819,536.9M1840.4,517.5L1837.7,532.9M1589.1,508.5L1618.2,508M1776.3,535.1L1781.3,544.8M1781.3,544.8L1791.9,545.3M1781.3,544.8L1760.3,543.7M1760.3,543.7L1737.3,527.2M1765.1,553.2L1775.7,553.6M1859.8,572.8L1856.9,588.6M1694.5,607.3L1708,606.2M1824.2,602.1L1834.3,603.9M1829.3,614.1L1839.5,612.9M1839.5,612.9L1846.3,607.3M1846.3,607.3L1860.9,614.1M1753.8,635.5L1746.3,626.5M1777.5,632.6L1774.1,647.9M1838.1,637.3L1839.3,653.1M1819,647.9L1816.3,663.2M1736.6,645.6L1733.9,660.8M1801.6,657.6L1789.2,667.1M1770.7,664.1L1768.2,679M1715.9,659.6L1712.9,675.4M1679.1,658L1694,661.9M1731.7,678.3L1747.5,677.7M1811.7,566.7L1798.7,563.3M1817.4,474.7L1802.7,470.4M1640.3,407.7L1644.2,405.9M1644.2,405.9L1647.8,404.3M1647.8,404.3L1651.6,402.9M1651.6,402.9L1655,402M1570.8,473.1L1618.2,485.5" stroke="#d6d4d2" stroke-width="0.7" fill="none"/><g fill="#6a2c8a"><circle cx="1485.2" cy="428" r="3"/><circle cx="1484.7" cy="434.9" r="3"/><circle cx="1483.4" cy="441.7" r="3"/><circle cx="1481.2" cy="448.3" r="3"/><circle cx="1478.1" cy="454.5" r="3"/><circle cx="1474.2" cy="460.2" r="3"/><circle cx="1469.7" cy="465.5" r="3"/><circle cx="1464.4" cy="470" r="3"/><circle cx="1458.7" cy="473.9" r="3"/><circle cx="1452.5" cy="476.9" r="3"/><circle cx="1445.9" cy="479.2" r="3"/><circle cx="1439.1" cy="480.5" r="3"/><circle cx="1432.2" cy="481" r="3"/><circle cx="1425.3" cy="480.5" r="3"/><circle cx="1418.5" cy="479.2" r="3"/><circle cx="1411.9" cy="476.9" r="3"/><circle cx="1405.7" cy="473.9" r="3"/><circle cx="1399.9" cy="470" r="3"/><circle cx="1394.7" cy="465.5" r="3"/><circle cx="1390.1" cy="460.2" r="3"/><circle cx="1386.3" cy="454.5" r="3"/><circle cx="1383.2" cy="448.3" r="3"/><circle cx="1381" cy="441.7" r="3"/><circle cx="1379.6" cy="434.9" r="3"/><circle cx="1379.2" cy="428" r="3"/><circle cx="1379.6" cy="421.1" r="3"/><circle cx="1381" cy="414.3" r="3"/><circle cx="1383.2" cy="407.7" r="3"/><circle cx="1386.3" cy="401.5" r="3"/><circle cx="1390.1" cy="395.7" r="3"/><circle cx="1394.7" cy="390.5" r="3"/><circle cx="1399.9" cy="385.9" r="3"/><circle cx="1405.7" cy="382.1" r="3"/><circle cx="1411.9" cy="379" r="3"/><circle cx="1418.5" cy="376.8" r="3"/><circle cx="1425.3" cy="375.4" r="3"/><circle cx="1432.2" cy="375" r="3"/><circle cx="1439.1" cy="375.4" r="3"/><circle cx="1445.9" cy="376.8" r="3"/><circle cx="1452.5" cy="379" r="3"/><circle cx="1458.7" cy="382.1" r="3"/><circle cx="1464.4" cy="385.9" r="3"/><circle cx="1469.7" cy="390.5" r="3"/><circle cx="1474.2" cy="395.7" r="3"/><circle cx="1478.1" cy="401.5" r="3"/><circle cx="1481.2" cy="407.7" r="3"/><circle cx="1483.4" cy="414.3" r="3"/><circle cx="1484.7" cy="421.1" r="3"/><circle cx="1402.6" cy="604" r="3"/><circle cx="1287.4" cy="571.2" r="3"/><circle cx="1288.2" cy="565.7" r="3"/><circle cx="1326" cy="520.1" r="3"/><circle cx="1331.4" cy="518.3" r="3"/><circle cx="1513.8" cy="568.9" r="3"/><circle cx="1513.1" cy="575.5" r="3"/><circle cx="1510.9" cy="581.7" r="3"/><circle cx="1507.4" cy="587.2" r="3"/><circle cx="1502.8" cy="591.9" r="3"/><circle cx="1497.2" cy="595.4" r="3"/><circle cx="1491" cy="597.5" r="3"/><circle cx="1484.5" cy="598.3" r="3"/><circle cx="1478" cy="597.5" r="3"/><circle cx="1471.8" cy="595.4" r="3"/><circle cx="1466.2" cy="591.9" r="3"/><circle cx="1461.6" cy="587.2" r="3"/><circle cx="1458.1" cy="581.7" r="3"/><circle cx="1455.9" cy="575.5" r="3"/><circle cx="1455.2" cy="568.9" r="3"/><circle cx="1455.9" cy="562.4" r="3"/><circle cx="1458.1" cy="556.2" r="3"/><circle cx="1461.6" cy="550.7" r="3"/><circle cx="1466.2" cy="546" r="3"/><circle cx="1471.8" cy="542.5" r="3"/><circle cx="1478" cy="540.4" r="3"/><circle cx="1484.5" cy="539.6" r="3"/><circle cx="1491" cy="540.4" r="3"/><circle cx="1497.2" cy="542.5" r="3"/><circle cx="1502.8" cy="546" r="3"/><circle cx="1507.4" cy="550.7" r="3"/><circle cx="1510.9" cy="556.2" r="3"/><circle cx="1513.1" cy="562.4" r="3"/><circle cx="1625.2" cy="521.9" r="3"/><circle cx="1505.1" cy="491.4" r="3"/><circle cx="1500.9" cy="496.5" r="3"/><circle cx="1494.4" cy="497.1" r="3"/><circle cx="1489.3" cy="492.9" r="3"/><circle cx="1488.7" cy="486.3" r="3"/><circle cx="1492.9" cy="481.3" r="3"/><circle cx="1499.5" cy="480.7" r="3"/><circle cx="1504.5" cy="484.9" r="3"/><circle cx="1460" cy="502.9" r="3"/><circle cx="1456.4" cy="504.6" r="3"/><circle cx="1453.6" cy="501.7" r="3"/><circle cx="1455.5" cy="498.2" r="3"/><circle cx="1459.5" cy="498.9" r="3"/><circle cx="1457" cy="501.3" r="3"/><circle cx="1431.1" cy="535.6" r="3"/><circle cx="1428.2" cy="537.4" r="3"/><circle cx="1425.2" cy="535.8" r="3"/><circle cx="1425.1" cy="532.4" r="3"/><circle cx="1428" cy="530.6" r="3"/><circle cx="1431" cy="532.2" r="3"/><circle cx="1428.1" cy="534" r="3"/><circle cx="1510.5" cy="406.7" r="3"/><circle cx="1506" cy="406.8" r="3"/><circle cx="1508.1" cy="402.8" r="3"/><circle cx="1523.6" cy="446.5" r="3"/><circle cx="1519" cy="447.9" r="3"/><circle cx="1517.6" cy="443.3" r="3"/><circle cx="1522.2" cy="441.9" r="3"/><circle cx="1540" cy="459" r="3"/><circle cx="1535.5" cy="459.1" r="3"/><circle cx="1537.6" cy="455.1" r="3"/><circle cx="1380.1" cy="368.2" r="3"/><circle cx="1360.5" cy="394.6" r="3"/><circle cx="1486.1" cy="376.5" r="3"/><circle cx="1498" cy="387.4" r="3"/><circle cx="1481.8" cy="514.8" r="3"/><circle cx="1482.3" cy="525.6" r="3"/><circle cx="1486.8" cy="525.6" r="3"/><circle cx="1491.3" cy="525.6" r="3"/><circle cx="1495.8" cy="525.6" r="3"/><circle cx="1504.8" cy="530.2" r="3"/><circle cx="1257.4" cy="564.9" r="3"/><circle cx="1469.8" cy="609.5" r="3"/><circle cx="1610.5" cy="554.3" r="3"/><circle cx="1587.8" cy="432.5" r="3"/><circle cx="1539.9" cy="444.9" r="3"/><circle cx="1530.9" cy="524.5" r="3"/><circle cx="1540.6" cy="528.3" r="3"/><circle cx="1520.8" cy="442.6" r="3"/><circle cx="1518.5" cy="446" r="3"/><circle cx="1522.6" cy="446.5" r="3"/><circle cx="1520.3" cy="449.4" r="3"/><circle cx="1651.1" cy="567.1" r="3"/></g><g fill="#8fd6dc"><circle cx="1343.5" cy="464.7" r="3"/><circle cx="1342.8" cy="470.7" r="3"/><circle cx="1340.7" cy="476.3" r="3"/><circle cx="1337.3" cy="481.2" r="3"/><circle cx="1332.8" cy="485.2" r="3"/><circle cx="1327.5" cy="487.9" r="3"/><circle cx="1321.7" cy="489.4" r="3"/><circle cx="1315.7" cy="489.4" r="3"/><circle cx="1309.9" cy="487.9" r="3"/><circle cx="1304.6" cy="485.2" r="3"/><circle cx="1300.1" cy="481.2" r="3"/><circle cx="1296.8" cy="476.3" r="3"/><circle cx="1294.6" cy="470.7" r="3"/><circle cx="1293.9" cy="464.7" r="3"/><circle cx="1294.6" cy="458.8" r="3"/><circle cx="1296.8" cy="453.2" r="3"/><circle cx="1300.1" cy="448.3" r="3"/><circle cx="1304.6" cy="444.3" r="3"/><circle cx="1309.9" cy="441.5" r="3"/><circle cx="1315.7" cy="440.1" r="3"/><circle cx="1321.7" cy="440.1" r="3"/><circle cx="1327.5" cy="441.5" r="3"/><circle cx="1332.8" cy="444.3" r="3"/><circle cx="1337.3" cy="448.3" r="3"/><circle cx="1340.7" cy="453.2" r="3"/><circle cx="1342.8" cy="458.8" r="3"/><circle cx="1408.9" cy="576.8" r="3"/><circle cx="1408.7" cy="582.5" r="3"/><circle cx="1407.9" cy="588" r="3"/><circle cx="1406.6" cy="593.5" r="3"/><circle cx="1404.8" cy="598.8" r="3"/><circle cx="1399.8" cy="608.9" r="3"/><circle cx="1396.6" cy="613.5" r="3"/><circle cx="1393.1" cy="617.9" r="3"/><circle cx="1389.1" cy="621.8" r="3"/><circle cx="1384.7" cy="625.4" r="3"/><circle cx="1380.1" cy="628.6" r="3"/><circle cx="1375.2" cy="631.4" r="3"/><circle cx="1370" cy="633.6" r="3"/><circle cx="1364.7" cy="635.4" r="3"/><circle cx="1359.2" cy="636.7" r="3"/><circle cx="1353.7" cy="637.5" r="3"/><circle cx="1348" cy="637.7" r="3"/><circle cx="1342.4" cy="637.5" r="3"/><circle cx="1336.9" cy="636.7" r="3"/><circle cx="1331.4" cy="635.4" r="3"/><circle cx="1326" cy="633.6" r="3"/><circle cx="1320.9" cy="631.4" r="3"/><circle cx="1316" cy="628.6" r="3"/><circle cx="1311.3" cy="625.4" r="3"/><circle cx="1307" cy="621.8" r="3"/><circle cx="1303" cy="617.9" r="3"/><circle cx="1299.4" cy="613.5" r="3"/><circle cx="1296.3" cy="608.9" r="3"/><circle cx="1293.5" cy="604" r="3"/><circle cx="1291.3" cy="598.8" r="3"/><circle cx="1289.5" cy="593.5" r="3"/><circle cx="1288.2" cy="588" r="3"/><circle cx="1287.4" cy="582.5" r="3"/><circle cx="1287.1" cy="576.8" r="3"/><circle cx="1289.5" cy="560.2" r="3"/><circle cx="1291.3" cy="554.8" r="3"/><circle cx="1293.5" cy="549.7" r="3"/><circle cx="1296.3" cy="544.8" r="3"/><circle cx="1299.4" cy="540.1" r="3"/><circle cx="1303" cy="535.8" r="3"/><circle cx="1307" cy="531.8" r="3"/><circle cx="1311.3" cy="528.2" r="3"/><circle cx="1316" cy="525.1" r="3"/><circle cx="1320.9" cy="522.3" r="3"/><circle cx="1336.9" cy="517" r="3"/><circle cx="1342.4" cy="516.2" r="3"/><circle cx="1348" cy="515.9" r="3"/><circle cx="1353.7" cy="516.2" r="3"/><circle cx="1359.2" cy="517" r="3"/><circle cx="1364.7" cy="518.3" r="3"/><circle cx="1370" cy="520.1" r="3"/><circle cx="1375.2" cy="522.3" r="3"/><circle cx="1380.1" cy="525.1" r="3"/><circle cx="1384.7" cy="528.2" r="3"/><circle cx="1389.1" cy="531.8" r="3"/><circle cx="1393.1" cy="535.8" r="3"/><circle cx="1396.6" cy="540.1" r="3"/><circle cx="1399.8" cy="544.8" r="3"/><circle cx="1402.6" cy="549.7" r="3"/><circle cx="1404.8" cy="554.8" r="3"/><circle cx="1406.6" cy="560.2" r="3"/><circle cx="1407.9" cy="565.7" r="3"/><circle cx="1408.7" cy="571.2" r="3"/><circle cx="1774" cy="599.2" r="3"/><circle cx="1274.4" cy="594.4" r="3"/><circle cx="1270.8" cy="598.8" r="3"/><circle cx="1265.1" cy="599.3" r="3"/><circle cx="1260.7" cy="595.7" r="3"/><circle cx="1260.2" cy="590" r="3"/><circle cx="1263.8" cy="585.6" r="3"/><circle cx="1269.5" cy="585.1" r="3"/><circle cx="1273.9" cy="588.7" r="3"/><circle cx="1288.6" cy="650.1" r="3"/><circle cx="1285" cy="654.5" r="3"/><circle cx="1279.3" cy="655" r="3"/><circle cx="1274.9" cy="651.4" r="3"/><circle cx="1274.4" cy="645.7" r="3"/><circle cx="1278" cy="641.3" r="3"/><circle cx="1283.7" cy="640.8" r="3"/><circle cx="1288.1" cy="644.4" r="3"/><circle cx="1424.8" cy="709.3" r="3"/><circle cx="1421.4" cy="714.1" r="3"/><circle cx="1415.8" cy="716" r="3"/><circle cx="1410.3" cy="714.3" r="3"/><circle cx="1406.7" cy="709.6" r="3"/><circle cx="1406.7" cy="703.7" r="3"/><circle cx="1410" cy="699" r="3"/><circle cx="1415.6" cy="697.1" r="3"/><circle cx="1421.2" cy="698.8" r="3"/><circle cx="1424.7" cy="703.5" r="3"/><circle cx="1466.9" cy="683.4" r="3"/><circle cx="1463.6" cy="688.2" r="3"/><circle cx="1458" cy="690.1" r="3"/><circle cx="1452.4" cy="688.3" r="3"/><circle cx="1448.9" cy="683.7" r="3"/><circle cx="1448.8" cy="677.8" r="3"/><circle cx="1452.2" cy="673" r="3"/><circle cx="1457.8" cy="671.1" r="3"/><circle cx="1463.4" cy="672.9" r="3"/><circle cx="1466.9" cy="677.5" r="3"/><circle cx="1452.2" cy="639.6" r="3"/><circle cx="1447.6" cy="643.9" r="3"/><circle cx="1441.5" cy="642" r="3"/><circle cx="1440.1" cy="635.9" r="3"/><circle cx="1444.8" cy="631.6" r="3"/><circle cx="1450.8" cy="633.5" r="3"/><circle cx="1391.3" cy="655.1" r="3"/><circle cx="1387.3" cy="659.4" r="3"/><circle cx="1381.4" cy="658.9" r="3"/><circle cx="1378.1" cy="654.1" r="3"/><circle cx="1379.9" cy="648.5" r="3"/><circle cx="1385.3" cy="646.3" r="3"/><circle cx="1390.4" cy="649.3" r="3"/><circle cx="1269.1" cy="536.7" r="3"/><circle cx="1265.5" cy="538.5" r="3"/><circle cx="1262.8" cy="535.5" r="3"/><circle cx="1264.7" cy="532" r="3"/><circle cx="1268.6" cy="532.8" r="3"/><circle cx="1266.2" cy="535.1" r="3"/><circle cx="1250.6" cy="547" r="3"/><circle cx="1246.1" cy="547.1" r="3"/><circle cx="1248.3" cy="543.1" r="3"/><circle cx="1237.1" cy="648.4" r="3"/><circle cx="1233.5" cy="650.1" r="3"/><circle cx="1230.8" cy="647.2" r="3"/><circle cx="1232.7" cy="643.7" r="3"/><circle cx="1236.6" cy="644.4" r="3"/><circle cx="1234.1" cy="646.8" r="3"/><circle cx="1305.2" cy="650.3" r="3"/><circle cx="1300.7" cy="650.4" r="3"/><circle cx="1302.9" cy="646.4" r="3"/><circle cx="1328.9" cy="684.1" r="3"/><circle cx="1324.4" cy="684.2" r="3"/><circle cx="1326.6" cy="680.3" r="3"/><circle cx="1434.9" cy="584.9" r="3"/><circle cx="1430.4" cy="585" r="3"/><circle cx="1432.6" cy="581" r="3"/><circle cx="1412.8" cy="644.6" r="3"/><circle cx="1408.3" cy="644.7" r="3"/><circle cx="1410.5" cy="640.8" r="3"/><circle cx="1313.1" cy="704.4" r="3"/><circle cx="1308.6" cy="704.5" r="3"/><circle cx="1310.8" cy="700.6" r="3"/><circle cx="1538.4" cy="514.9" r="3"/><circle cx="1533.8" cy="516.2" r="3"/><circle cx="1532.4" cy="511.6" r="3"/><circle cx="1537.1" cy="510.2" r="3"/><circle cx="1284.2" cy="403.6" r="3"/><circle cx="1293.5" cy="400.9" r="3"/><circle cx="1293.5" cy="400.9" r="3"/><circle cx="1301.8" cy="410.4" r="3"/><circle cx="1298.9" cy="426.2" r="3"/><circle cx="1281.5" cy="418.9" r="3"/><circle cx="1284.2" cy="403.6" r="3"/><circle cx="1321" cy="417.1" r="3"/><circle cx="1320.3" cy="427.3" r="3"/><circle cx="1320.3" cy="427.3" r="3"/><circle cx="1254.4" cy="425.3" r="3"/><circle cx="1257.8" cy="431.4" r="3"/><circle cx="1263.5" cy="432.9" r="3"/><circle cx="1268.4" cy="430.2" r="3"/><circle cx="1263.5" cy="432.9" r="3"/><circle cx="1268.4" cy="430.2" r="3"/><circle cx="1243.8" cy="452.1" r="3"/><circle cx="1258.5" cy="457.3" r="3"/><circle cx="1283.8" cy="452.1" r="3"/><circle cx="1281.5" cy="461.1" r="3"/><circle cx="1235.7" cy="471.5" r="3"/><circle cx="1232.6" cy="487.3" r="3"/><circle cx="1258.5" cy="479.8" r="3"/><circle cx="1255.6" cy="495.2" r="3"/><circle cx="1290.1" cy="487.7" r="3"/><circle cx="1281.5" cy="494.5" r="3"/><circle cx="1273.6" cy="500.8" r="3"/><circle cx="1347.6" cy="487.1" r="3"/><circle cx="1226.2" cy="500.6" r="3"/><circle cx="1223.5" cy="515.9" r="3"/><circle cx="1210.9" cy="507.6" r="3"/><circle cx="1200.3" cy="519.3" r="3"/><circle cx="1242" cy="513.7" r="3"/><circle cx="1252.2" cy="525.4" r="3"/><circle cx="1281.1" cy="514.4" r="3"/><circle cx="1220.6" cy="543.7" r="3"/><circle cx="1235.9" cy="543" r="3"/><circle cx="1225.8" cy="554.3" r="3"/><circle cx="1212.7" cy="564" r="3"/><circle cx="1227.4" cy="571.2" r="3"/><circle cx="1224.7" cy="587" r="3"/><circle cx="1220.2" cy="608.9" r="3"/><circle cx="1217.2" cy="624.2" r="3"/><circle cx="1233" cy="615.2" r="3"/><circle cx="1248.3" cy="613.6" r="3"/><circle cx="1269.5" cy="623.8" r="3"/><circle cx="1433.8" cy="614.1" r="3"/><circle cx="1249.2" cy="666.6" r="3"/><circle cx="1246.5" cy="682.9" r="3"/><circle cx="1270.2" cy="695.3" r="3"/><circle cx="1284.9" cy="690.3" r="3"/><circle cx="1305.6" cy="687.8" r="3"/><circle cx="1340.6" cy="687.4" r="3"/><circle cx="1337.9" cy="702.7" r="3"/><circle cx="1353.2" cy="676.1" r="3"/><circle cx="1363.8" cy="673.8" r="3"/><circle cx="1371.7" cy="667.1" r="3"/><circle cx="1381.4" cy="670.9" r="3"/><circle cx="1371.7" cy="667.1" r="3"/><circle cx="1370.2" cy="656.9" r="3"/><circle cx="1359.8" cy="684" r="3"/><circle cx="1371.3" cy="688.5" r="3"/><circle cx="1369" cy="703.2" r="3"/><circle cx="1343.5" cy="719.4" r="3"/><circle cx="1358.9" cy="716.2" r="3"/><circle cx="1383.7" cy="707.7" r="3"/><circle cx="1380.8" cy="722.8" r="3"/><circle cx="1441.7" cy="663" r="3"/><circle cx="1479.3" cy="691.9" r="3"/><circle cx="1476.6" cy="707" r="3"/><circle cx="1439.8" cy="721.2" r="3"/><circle cx="1454.5" cy="714.9" r="3"/></g><g fill="#7cc02e"><circle cx="1744.5" cy="492.9" r="3"/><circle cx="1744.2" cy="498.9" r="3"/><circle cx="1743.4" cy="504.9" r="3"/><circle cx="1742" cy="510.7" r="3"/><circle cx="1740" cy="516.4" r="3"/><circle cx="1737.5" cy="521.9" r="3"/><circle cx="1734.5" cy="527.1" r="3"/><circle cx="1731" cy="532" r="3"/><circle cx="1727.1" cy="536.5" r="3"/><circle cx="1722.7" cy="540.7" r="3"/><circle cx="1718" cy="544.4" r="3"/><circle cx="1712.9" cy="547.6" r="3"/><circle cx="1707.6" cy="550.4" r="3"/><circle cx="1702" cy="552.6" r="3"/><circle cx="1696.3" cy="554.3" r="3"/><circle cx="1690.4" cy="555.4" r="3"/><circle cx="1684.4" cy="556" r="3"/><circle cx="1678.4" cy="556" r="3"/><circle cx="1672.4" cy="555.4" r="3"/><circle cx="1666.5" cy="554.3" r="3"/><circle cx="1660.7" cy="552.6" r="3"/><circle cx="1649.8" cy="547.6" r="3"/><circle cx="1644.7" cy="544.4" r="3"/><circle cx="1640" cy="540.7" r="3"/><circle cx="1635.7" cy="536.5" r="3"/><circle cx="1631.7" cy="532" r="3"/><circle cx="1628.2" cy="527.1" r="3"/><circle cx="1622.7" cy="516.4" r="3"/><circle cx="1620.8" cy="510.7" r="3"/><circle cx="1619.4" cy="504.9" r="3"/><circle cx="1618.5" cy="498.9" r="3"/><circle cx="1618.2" cy="492.9" r="3"/><circle cx="1618.5" cy="486.9" r="3"/><circle cx="1619.4" cy="481" r="3"/><circle cx="1620.8" cy="475.1" r="3"/><circle cx="1622.7" cy="469.5" r="3"/><circle cx="1625.2" cy="464" r="3"/><circle cx="1628.2" cy="458.8" r="3"/><circle cx="1631.7" cy="453.9" r="3"/><circle cx="1635.7" cy="449.3" r="3"/><circle cx="1640" cy="445.2" r="3"/><circle cx="1644.7" cy="441.5" r="3"/><circle cx="1649.8" cy="438.2" r="3"/><circle cx="1655.1" cy="435.5" r="3"/><circle cx="1660.7" cy="433.2" r="3"/><circle cx="1672.4" cy="430.4" r="3"/><circle cx="1678.4" cy="429.8" r="3"/><circle cx="1684.4" cy="429.8" r="3"/><circle cx="1690.4" cy="430.4" r="3"/><circle cx="1696.3" cy="431.6" r="3"/><circle cx="1707.6" cy="435.5" r="3"/><circle cx="1712.9" cy="438.2" r="3"/><circle cx="1718" cy="441.5" r="3"/><circle cx="1722.7" cy="445.2" r="3"/><circle cx="1727.1" cy="449.3" r="3"/><circle cx="1731" cy="453.9" r="3"/><circle cx="1734.5" cy="458.8" r="3"/><circle cx="1737.5" cy="464" r="3"/><circle cx="1740" cy="469.5" r="3"/><circle cx="1742" cy="475.1" r="3"/><circle cx="1743.4" cy="481" r="3"/><circle cx="1744.2" cy="486.9" r="3"/><circle cx="1774.5" cy="593.3" r="3"/><circle cx="1772.5" cy="604.9" r="3"/><circle cx="1770" cy="610.2" r="3"/><circle cx="1766.6" cy="615.1" r="3"/><circle cx="1762.4" cy="619.2" r="3"/><circle cx="1757.6" cy="622.6" r="3"/><circle cx="1752.3" cy="625.1" r="3"/><circle cx="1746.6" cy="626.6" r="3"/><circle cx="1740.7" cy="627.1" r="3"/><circle cx="1734.8" cy="626.6" r="3"/><circle cx="1729.1" cy="625.1" r="3"/><circle cx="1723.8" cy="622.6" r="3"/><circle cx="1718.9" cy="619.2" r="3"/><circle cx="1714.8" cy="615.1" r="3"/><circle cx="1711.4" cy="610.2" r="3"/><circle cx="1708.9" cy="604.9" r="3"/><circle cx="1707.4" cy="599.2" r="3"/><circle cx="1706.9" cy="593.3" r="3"/><circle cx="1707.4" cy="587.4" r="3"/><circle cx="1708.9" cy="581.7" r="3"/><circle cx="1711.4" cy="576.4" r="3"/><circle cx="1714.8" cy="571.6" r="3"/><circle cx="1718.9" cy="567.4" r="3"/><circle cx="1723.8" cy="564" r="3"/><circle cx="1729.1" cy="561.5" r="3"/><circle cx="1734.8" cy="560" r="3"/><circle cx="1740.7" cy="559.5" r="3"/><circle cx="1746.6" cy="560" r="3"/><circle cx="1752.3" cy="561.5" r="3"/><circle cx="1757.6" cy="564" r="3"/><circle cx="1762.4" cy="567.4" r="3"/><circle cx="1766.6" cy="571.6" r="3"/><circle cx="1770" cy="576.4" r="3"/><circle cx="1772.5" cy="581.7" r="3"/><circle cx="1774" cy="587.4" r="3"/><circle cx="1674" cy="604.2" r="3"/><circle cx="1670.6" cy="609.6" r="3"/><circle cx="1664.9" cy="612.6" r="3"/><circle cx="1658.5" cy="612.4" r="3"/><circle cx="1653.1" cy="609" r="3"/><circle cx="1650.1" cy="603.3" r="3"/><circle cx="1650.3" cy="596.9" r="3"/><circle cx="1653.8" cy="591.4" r="3"/><circle cx="1659.4" cy="588.4" r="3"/><circle cx="1665.9" cy="588.7" r="3"/><circle cx="1671.3" cy="592.1" r="3"/><circle cx="1674.3" cy="597.8" r="3"/><circle cx="1843.9" cy="589.1" r="3"/><circle cx="1840.5" cy="594.5" r="3"/><circle cx="1834.8" cy="597.5" r="3"/><circle cx="1828.4" cy="597.3" r="3"/><circle cx="1822.9" cy="593.8" r="3"/><circle cx="1819.9" cy="588.2" r="3"/><circle cx="1820.2" cy="581.7" r="3"/><circle cx="1823.6" cy="576.3" r="3"/><circle cx="1829.3" cy="573.3" r="3"/><circle cx="1835.7" cy="573.6" r="3"/><circle cx="1841.1" cy="577" r="3"/><circle cx="1844.1" cy="582.7" r="3"/><circle cx="1698.5" cy="403.8" r="3"/><circle cx="1693" cy="407.9" r="3"/><circle cx="1687.3" cy="403.9" r="3"/><circle cx="1689.4" cy="397.3" r="3"/><circle cx="1696.3" cy="397.2" r="3"/><circle cx="1779.4" cy="407.3" r="3"/><circle cx="1774.8" cy="411.6" r="3"/><circle cx="1768.8" cy="409.7" r="3"/><circle cx="1767.4" cy="403.5" r="3"/><circle cx="1772" cy="399.3" r="3"/><circle cx="1778" cy="401.1" r="3"/><circle cx="1628.4" cy="405.1" r="3"/><circle cx="1623.9" cy="405.2" r="3"/><circle cx="1626" cy="401.2" r="3"/><circle cx="1689.5" cy="380.3" r="3"/><circle cx="1685" cy="380.4" r="3"/><circle cx="1687.2" cy="376.4" r="3"/><circle cx="1709.6" cy="392.7" r="3"/><circle cx="1705.1" cy="392.8" r="3"/><circle cx="1707.2" cy="388.8" r="3"/><circle cx="1798.9" cy="418.3" r="3"/><circle cx="1794.3" cy="419.7" r="3"/><circle cx="1793" cy="415.1" r="3"/><circle cx="1797.6" cy="413.7" r="3"/><circle cx="1765.1" cy="426.5" r="3"/><circle cx="1760.6" cy="426.6" r="3"/><circle cx="1762.7" cy="422.7" r="3"/><circle cx="1774.1" cy="466.8" r="3"/><circle cx="1770.5" cy="468.5" r="3"/><circle cx="1767.8" cy="465.6" r="3"/><circle cx="1769.7" cy="462.1" r="3"/><circle cx="1773.6" cy="462.9" r="3"/><circle cx="1771.1" cy="465.2" r="3"/><circle cx="1805" cy="471.6" r="3"/><circle cx="1800.5" cy="471.7" r="3"/><circle cx="1802.7" cy="467.8" r="3"/><circle cx="1791" cy="494.6" r="3"/><circle cx="1786.5" cy="494.7" r="3"/><circle cx="1788.7" cy="490.8" r="3"/><circle cx="1770.3" cy="502.9" r="3"/><circle cx="1765.7" cy="504.3" r="3"/><circle cx="1764.3" cy="499.6" r="3"/><circle cx="1768.9" cy="498.3" r="3"/><circle cx="1573.8" cy="474.7" r="3"/><circle cx="1570.2" cy="476.4" r="3"/><circle cx="1567.5" cy="473.5" r="3"/><circle cx="1569.4" cy="470" r="3"/><circle cx="1573.3" cy="470.7" r="3"/><circle cx="1570.8" cy="473.1" r="3"/><circle cx="1595.9" cy="434.1" r="3"/><circle cx="1591.3" cy="435.5" r="3"/><circle cx="1590" cy="430.9" r="3"/><circle cx="1594.6" cy="429.5" r="3"/><circle cx="1826" cy="550.3" r="3"/><circle cx="1822.4" cy="552" r="3"/><circle cx="1819.7" cy="549.1" r="3"/><circle cx="1821.6" cy="545.6" r="3"/><circle cx="1825.5" cy="546.3" r="3"/><circle cx="1823" cy="548.6" r="3"/><circle cx="1859.6" cy="554.4" r="3"/><circle cx="1855.1" cy="554.5" r="3"/><circle cx="1857.2" cy="550.6" r="3"/><circle cx="1800.9" cy="564.6" r="3"/><circle cx="1796.4" cy="564.7" r="3"/><circle cx="1798.6" cy="560.7" r="3"/><circle cx="1806.8" cy="604" r="3"/><circle cx="1802.3" cy="604.1" r="3"/><circle cx="1804.5" cy="600.2" r="3"/><circle cx="1819.7" cy="626.6" r="3"/><circle cx="1815.2" cy="626.7" r="3"/><circle cx="1817.3" cy="622.7" r="3"/><circle cx="1794.9" cy="635.6" r="3"/><circle cx="1790.4" cy="635.7" r="3"/><circle cx="1792.5" cy="631.8" r="3"/><circle cx="1754.3" cy="652.5" r="3"/><circle cx="1749.7" cy="652.6" r="3"/><circle cx="1751.9" cy="648.7" r="3"/><circle cx="1701.7" cy="639.4" r="3"/><circle cx="1697.2" cy="639.5" r="3"/><circle cx="1699.4" cy="635.6" r="3"/><circle cx="1314.9" cy="663" r="3"/><circle cx="1638.1" cy="368.9" r="3"/><circle cx="1653.2" cy="365.3" r="3"/><circle cx="1669" cy="362.6" r="3"/><circle cx="1666.3" cy="377.9" r="3"/><circle cx="1722.2" cy="359.8" r="3"/><circle cx="1719.3" cy="375.4" r="3"/><circle cx="1761" cy="376.5" r="3"/><circle cx="1749.3" cy="382.2" r="3"/><circle cx="1733.9" cy="385.8" r="3"/><circle cx="1761" cy="376.5" r="3"/><circle cx="1770" cy="390.1" r="3"/><circle cx="1788.7" cy="389.2" r="3"/><circle cx="1629.7" cy="381.7" r="3"/><circle cx="1628.4" cy="391.9" r="3"/><circle cx="1635.8" cy="398.2" r="3"/><circle cx="1602.4" cy="385.8" r="3"/><circle cx="1588.4" cy="393" r="3"/><circle cx="1607.2" cy="399.3" r="3"/><circle cx="1604.2" cy="414.9" r="3"/><circle cx="1713.6" cy="404.7" r="3"/><circle cx="1734.4" cy="414.9" r="3"/><circle cx="1801.1" cy="430.7" r="3"/><circle cx="1805" cy="439.9" r="3"/><circle cx="1794.4" cy="442.2" r="3"/><circle cx="1791.9" cy="457.3" r="3"/><circle cx="1762.8" cy="445.6" r="3"/><circle cx="1757.2" cy="478.3" r="3"/><circle cx="1761.4" cy="488.2" r="3"/><circle cx="1828.2" cy="490" r="3"/><circle cx="1825.3" cy="505.8" r="3"/><circle cx="1810.2" cy="507.6" r="3"/><circle cx="1795.3" cy="513.2" r="3"/><circle cx="1821.9" cy="521.6" r="3"/><circle cx="1819" cy="536.9" r="3"/><circle cx="1840.4" cy="517.5" r="3"/><circle cx="1837.7" cy="532.9" r="3"/><circle cx="1589.1" cy="508.5" r="3"/><circle cx="1776.3" cy="535.1" r="3"/><circle cx="1781.3" cy="544.8" r="3"/><circle cx="1791.9" cy="545.3" r="3"/><circle cx="1781.3" cy="544.8" r="3"/><circle cx="1760.3" cy="543.7" r="3"/><circle cx="1760.3" cy="543.7" r="3"/><circle cx="1765.1" cy="553.2" r="3"/><circle cx="1775.7" cy="553.6" r="3"/><circle cx="1859.8" cy="572.8" r="3"/><circle cx="1856.9" cy="588.6" r="3"/><circle cx="1798.9" cy="589.2" r="3"/><circle cx="1694.5" cy="607.3" r="3"/><circle cx="1824.2" cy="602.1" r="3"/><circle cx="1834.3" cy="603.9" r="3"/><circle cx="1829.3" cy="614.1" r="3"/><circle cx="1839.5" cy="612.9" r="3"/><circle cx="1846.3" cy="607.3" r="3"/><circle cx="1860.9" cy="614.1" r="3"/><circle cx="1753.8" cy="635.5" r="3"/><circle cx="1777.5" cy="632.6" r="3"/><circle cx="1774.1" cy="647.9" r="3"/><circle cx="1838.1" cy="637.3" r="3"/><circle cx="1839.3" cy="653.1" r="3"/><circle cx="1819" cy="647.9" r="3"/><circle cx="1816.3" cy="663.2" r="3"/><circle cx="1736.6" cy="645.6" r="3"/><circle cx="1733.9" cy="660.8" r="3"/><circle cx="1801.6" cy="657.6" r="3"/><circle cx="1789.2" cy="667.1" r="3"/><circle cx="1770.7" cy="664.1" r="3"/><circle cx="1768.2" cy="679" r="3"/><circle cx="1715.9" cy="659.6" r="3"/><circle cx="1712.9" cy="675.4" r="3"/><circle cx="1679.1" cy="658" r="3"/><circle cx="1694" cy="661.9" r="3"/><circle cx="1731.7" cy="678.3" r="3"/><circle cx="1747.5" cy="677.7" r="3"/><circle cx="1811.7" cy="566.7" r="3"/><circle cx="1817.4" cy="474.7" r="3"/><circle cx="1640.3" cy="407.7" r="3"/><circle cx="1644.2" cy="405.9" r="3"/><circle cx="1647.8" cy="404.3" r="3"/><circle cx="1651.6" cy="402.9" r="3"/><circle cx="1655" cy="402" r="3"/><circle cx="1676.4" cy="589.2" r="3"/></g><g fill="#c9c6c4"><circle cx="1655.1" cy="550.4" r="3"/><circle cx="1666.5" cy="431.6" r="3"/><circle cx="1702" cy="433.2" r="3"/><circle cx="1309" cy="400.9" r="3"/><circle cx="1404.4" cy="672.7" r="3"/><circle cx="1406.7" cy="671.1" r="3"/><circle cx="1309" cy="696.8" r="3"/></g><g fill="#c9461d"><circle cx="1597.5" cy="658.5" r="3"/><circle cx="1596.9" cy="664.5" r="3"/><circle cx="1595.3" cy="670.3" r="3"/><circle cx="1592.6" cy="675.7" r="3"/><circle cx="1588.9" cy="680.5" r="3"/><circle cx="1584.5" cy="684.6" r="3"/><circle cx="1579.3" cy="687.8" r="3"/><circle cx="1573.7" cy="690" r="3"/><circle cx="1567.8" cy="691.1" r="3"/><circle cx="1561.7" cy="691.1" r="3"/><circle cx="1555.8" cy="690" r="3"/><circle cx="1550.2" cy="687.8" r="3"/><circle cx="1545" cy="684.6" r="3"/><circle cx="1540.6" cy="680.5" r="3"/><circle cx="1536.9" cy="675.7" r="3"/><circle cx="1534.3" cy="670.3" r="3"/><circle cx="1532.6" cy="664.5" r="3"/><circle cx="1532" cy="658.5" r="3"/><circle cx="1532.6" cy="652.5" r="3"/><circle cx="1534.3" cy="646.7" r="3"/><circle cx="1536.9" cy="641.3" r="3"/><circle cx="1540.6" cy="636.5" r="3"/><circle cx="1545" cy="632.4" r="3"/><circle cx="1550.2" cy="629.2" r="3"/><circle cx="1555.8" cy="627" r="3"/><circle cx="1561.7" cy="625.9" r="3"/><circle cx="1567.8" cy="625.9" r="3"/><circle cx="1573.7" cy="627" r="3"/><circle cx="1579.3" cy="629.2" r="3"/><circle cx="1584.5" cy="632.4" r="3"/><circle cx="1588.9" cy="636.5" r="3"/><circle cx="1592.6" cy="641.3" r="3"/><circle cx="1595.3" cy="646.7" r="3"/><circle cx="1596.9" cy="652.5" r="3"/><circle cx="1504.8" cy="648.9" r="3"/><circle cx="1501.5" cy="653.7" r="3"/><circle cx="1495.9" cy="655.6" r="3"/><circle cx="1490.3" cy="653.8" r="3"/><circle cx="1486.8" cy="649.1" r="3"/><circle cx="1486.7" cy="643.3" r="3"/><circle cx="1490.1" cy="638.5" r="3"/><circle cx="1495.7" cy="636.6" r="3"/><circle cx="1501.2" cy="638.3" r="3"/><circle cx="1504.8" cy="643" r="3"/><circle cx="1645.5" cy="649.8" r="3"/><circle cx="1641.9" cy="654.9" r="3"/><circle cx="1635.9" cy="656.9" r="3"/><circle cx="1630" cy="655.1" r="3"/><circle cx="1626.2" cy="650" r="3"/><circle cx="1626.1" cy="643.8" r="3"/><circle cx="1629.7" cy="638.6" r="3"/><circle cx="1635.7" cy="636.6" r="3"/><circle cx="1641.7" cy="638.5" r="3"/><circle cx="1645.4" cy="643.5" r="3"/><circle cx="1632.4" cy="657" r="3"/><circle cx="1627.9" cy="657.1" r="3"/><circle cx="1630.1" cy="653.2" r="3"/><circle cx="1607.6" cy="682.9" r="3"/><circle cx="1622.3" cy="677.9" r="3"/><circle cx="1551.9" cy="703.6" r="3"/></g><text x="1534.5" y="780.7" font-size="21" text-anchor="middle">Y3</text></g>
<g id="panel-c"><g fill="#fff" stroke="#909090" stroke-width="1"><rect x="116.5" y="1025.5" width="86" height="278.1"/><rect x="209.2" y="1025.5" width="57.3" height="278.1"/><rect x="273.8" y="1025.5" width="57.3" height="278.1"/><rect x="338.5" y="1025.5" width="57.3" height="278.1"/></g><path d="M112.8,1090H116.5M112.8,1162.1H116.5M112.8,1234H116.5" stroke="#222" stroke-width="0.8"/><path d="M133,1303.7v4.2M159.6,1303.7v4.2M186.4,1303.7v4.2M225.3,1303.7v4.2M251.3,1303.7v4.2M289.8,1303.7v4.2M315.6,1303.7v4.2M354.1,1303.7v4.2M379.9,1303.7v4.2" stroke="#222" stroke-width="1.2000000000000002"/><path d="M133,1168.3V1191M133,1211V1233.4M159.6,1165.4V1193.6M159.6,1219.8V1258.6M186.4,1182.9V1202.3M186.4,1217.1V1239.2M225.3,1168.3V1193.6M225.3,1213.9V1236.3M251.3,1168.3V1193.6M251.3,1213.9V1243.1M289.8,1168.3V1211M289.8,1271.6V1285.8M315.6,1170.8V1199.4M315.6,1260.2V1285.8M354.1,1162.5V1176.5M354.1,1231.4V1256.7M379.9,1159.6V1182.1M379.9,1211.2V1234.3" stroke="#6e6e6e" stroke-width="0.9" fill="none"/><g fill="#555" fill-opacity="0.85"><circle cx="133" cy="1044" r="1.6"/><circle cx="133" cy="1073.1" r="1.6"/><circle cx="133" cy="1076" r="1.6"/><circle cx="133" cy="1078.4" r="1.6"/><circle cx="133" cy="1084.2" r="1.6"/><circle cx="133" cy="1090" r="1.6"/><circle cx="133" cy="1095.5" r="1.6"/><circle cx="133" cy="1098.4" r="1.6"/><circle cx="133" cy="1107.1" r="1.6"/><circle cx="133" cy="1142.1" r="1.6"/><circle cx="133" cy="1245.6" r="1.6"/><circle cx="133" cy="1251.4" r="1.6"/><circle cx="133" cy="1259.6" r="1.6"/><circle cx="133" cy="1265.4" r="1.6"/><circle cx="133" cy="1268.3" r="1.6"/><circle cx="133" cy="1282.9" r="1.6"/><circle cx="133" cy="1285.4" r="1.6"/><circle cx="133" cy="1291.6" r="1.6"/><circle cx="159.6" cy="1052.7" r="1.6"/><circle cx="159.6" cy="1055.6" r="1.6"/><circle cx="159.6" cy="1058.4" r="1.6"/><circle cx="159.6" cy="1061.3" r="1.6"/><circle cx="159.6" cy="1064.2" r="1.6"/><circle cx="159.6" cy="1067" r="1.6"/><circle cx="159.6" cy="1069.9" r="1.6"/><circle cx="159.6" cy="1072.7" r="1.6"/><circle cx="159.6" cy="1075.6" r="1.6"/><circle cx="159.6" cy="1078.4" r="1.6"/><circle cx="159.6" cy="1081.3" r="1.6"/><circle cx="159.6" cy="1084.1" r="1.6"/><circle cx="159.6" cy="1087" r="1.6"/><circle cx="159.6" cy="1089.9" r="1.6"/><circle cx="159.6" cy="1092.7" r="1.6"/><circle cx="159.6" cy="1095.6" r="1.6"/><circle cx="159.6" cy="1098.4" r="1.6"/><circle cx="159.6" cy="1101.3" r="1.6"/><circle cx="159.6" cy="1104.1" r="1.6"/><circle cx="159.6" cy="1107" r="1.6"/><circle cx="159.6" cy="1112.9" r="1.6"/><circle cx="159.6" cy="1118.8" r="1.6"/><circle cx="159.6" cy="1121.7" r="1.6"/><circle cx="159.6" cy="1139.2" r="1.6"/><circle cx="159.6" cy="1150.4" r="1.6"/><circle cx="159.6" cy="1259.6" r="1.6"/><circle cx="159.6" cy="1262.5" r="1.6"/><circle cx="159.6" cy="1265.4" r="1.6"/><circle cx="159.6" cy="1268.3" r="1.6"/><circle cx="159.6" cy="1271.2" r="1.6"/><circle cx="159.6" cy="1274.2" r="1.6"/><circle cx="159.6" cy="1280" r="1.6"/><circle cx="159.6" cy="1282.9" r="1.6"/><circle cx="159.6" cy="1288.7" r="1.6"/><circle cx="186.4" cy="1055.6" r="1.6"/><circle cx="186.4" cy="1061.5" r="1.6"/><circle cx="186.4" cy="1073.1" r="1.6"/><circle cx="186.4" cy="1081.9" r="1.6"/><circle cx="186.4" cy="1084.2" r="1.6"/><circle cx="186.4" cy="1090" r="1.6"/><circle cx="186.4" cy="1092.9" r="1.6"/><circle cx="186.4" cy="1101.3" r="1.6"/><circle cx="186.4" cy="1112.9" r="1.6"/><circle cx="186.4" cy="1118.8" r="1.6"/><circle cx="186.4" cy="1121.7" r="1.6"/><circle cx="186.4" cy="1124.6" r="1.6"/><circle cx="186.4" cy="1167.7" r="1.6"/><circle cx="186.4" cy="1174.1" r="1.6"/><circle cx="186.4" cy="1176.7" r="1.6"/><circle cx="186.4" cy="1179.4" r="1.6"/><circle cx="186.4" cy="1239.8" r="1.6"/><circle cx="186.4" cy="1242.7" r="1.6"/><circle cx="186.4" cy="1245.6" r="1.6"/><circle cx="186.4" cy="1248.5" r="1.6"/><circle cx="186.4" cy="1259.6" r="1.6"/><circle cx="186.4" cy="1262.5" r="1.6"/><circle cx="186.4" cy="1265.4" r="1.6"/><circle cx="186.4" cy="1268.3" r="1.6"/><circle cx="186.4" cy="1271.2" r="1.6"/><circle cx="186.4" cy="1274.2" r="1.6"/><circle cx="225.3" cy="1038.6" r="1.6"/><circle cx="225.3" cy="1142.1" r="1.6"/><circle cx="225.3" cy="1259.6" r="1.6"/><circle cx="225.3" cy="1265.4" r="1.6"/><circle cx="225.3" cy="1268.3" r="1.6"/><circle cx="225.3" cy="1274.2" r="1.6"/><circle cx="225.3" cy="1277.1" r="1.6"/><circle cx="225.3" cy="1280" r="1.6"/><circle cx="225.3" cy="1282.9" r="1.6"/><circle cx="225.3" cy="1285.8" r="1.6"/><circle cx="251.3" cy="1049.8" r="1.6"/><circle cx="251.3" cy="1112.9" r="1.6"/><circle cx="251.3" cy="1162.1" r="1.6"/><circle cx="251.3" cy="1245.6" r="1.6"/><circle cx="251.3" cy="1248.5" r="1.6"/><circle cx="251.3" cy="1262.5" r="1.6"/><circle cx="251.3" cy="1268.3" r="1.6"/><circle cx="251.3" cy="1271.2" r="1.6"/><circle cx="251.3" cy="1280" r="1.6"/><circle cx="251.3" cy="1285.8" r="1.6"/><circle cx="289.8" cy="1112.9" r="1.6"/><circle cx="289.8" cy="1119.2" r="1.6"/><circle cx="315.6" cy="1107.5" r="1.6"/></g><rect x="123.1" y="1191" width="19.8" height="20" fill="#f05a14" stroke="#8a2f06" stroke-width="0.8"/><path d="M123.1,1202.3h19.8" stroke="#4a1a03" stroke-width="1.5"/><rect x="149.7" y="1193.6" width="19.8" height="26.2" fill="#5f75f8" stroke="#2f3fa8" stroke-width="0.8"/><path d="M149.7,1205.2h19.8" stroke="#18236e" stroke-width="1.5"/><rect x="176.5" y="1202.3" width="19.8" height="14.8" fill="#f1c766" stroke="#6e5413" stroke-width="0.8"/><path d="M176.5,1211h19.8" stroke="#40300a" stroke-width="1.5"/><rect x="215.4" y="1193.6" width="19.8" height="20.4" fill="#5f75f8" stroke="#2f3fa8" stroke-width="0.8"/><path d="M215.4,1202.3h19.8" stroke="#18236e" stroke-width="1.5"/><rect x="241.4" y="1193.6" width="19.8" height="20.4" fill="#f1c766" stroke="#6e5413" stroke-width="0.8"/><path d="M241.4,1205.2h19.8" stroke="#40300a" stroke-width="1.5"/><rect x="279.9" y="1211" width="19.8" height="60.6" fill="#5f75f8" stroke="#2f3fa8" stroke-width="0.8"/><path d="M279.9,1265.6h19.8" stroke="#18236e" stroke-width="1.5"/><rect x="305.7" y="1199.4" width="19.8" height="60.8" fill="#f1c766" stroke="#6e5413" stroke-width="0.8"/><path d="M305.7,1213.9h19.8" stroke="#40300a" stroke-width="1.5"/><rect x="344.2" y="1176.5" width="19.8" height="55" fill="#5f75f8" stroke="#2f3fa8" stroke-width="0.8"/><path d="M344.2,1199.4h19.8" stroke="#18236e" stroke-width="1.5"/><rect x="370" y="1182.1" width="19.8" height="29.1" fill="#f1c766" stroke="#6e5413" stroke-width="0.8"/><path d="M370,1202.3h19.8" stroke="#40300a" stroke-width="1.5"/><g fill="#b3203a" stroke="#b3203a" stroke-width="0.25" font-size="22.5" text-anchor="middle"><text x="135.4" y="1042">a</text><text x="162.2" y="1042">b</text><text x="187.4" y="1042">c</text></g><g fill="#b3203a" font-size="13.5" text-anchor="middle"><text x="159.2" y="1019.3">1.69x10<tspan font-size="8" dy="-5.2">-12</tspan></text><text x="241.2" y="1019.3">0.59</text><text x="303" y="1019.3">9.63x10<tspan font-size="8" dy="-5.2">-4</tspan></text><text x="364.2" y="1019.3">0.3223</text></g><g font-size="23" text-anchor="end"><text x="107.8" y="1097">125</text><text x="107.8" y="1169.3">100</text><text x="107.8" y="1242">75</text></g><text transform="translate(60.2,1163.3) rotate(-90)" font-size="24" text-anchor="middle">Heading date (days)</text><g font-size="25"><text transform="translate(141.2,1412.6) rotate(-90)">Y1 (240)</text><text transform="translate(169.3,1412.6) rotate(-90)">Y2 (868)</text><text transform="translate(194.6,1412.6) rotate(-90)">Y3 (520)</text><text transform="translate(233.4,1412.6) rotate(-90)">Y2 (236)</text><text transform="translate(261.2,1412.6) rotate(-90)">Y3 (402)</text><text transform="translate(299.1,1412.6) rotate(-90)">Y2 (68)</text><text transform="translate(326.3,1412.6) rotate(-90)">Y3 (150)</text><text transform="translate(363.2,1412.6) rotate(-90)">Y2 (37)</text><text transform="translate(389.8,1412.6) rotate(-90)">Y3 (53)</text></g><g font-size="24.3"><text transform="translate(169.5,999.6) rotate(-90) scale(1,1.05)">Wild abortive</text><text transform="translate(244.7,999.6) rotate(-90) scale(1,1.05)">Twoline-Jap</text><text transform="translate(308.8,999.6) rotate(-90) scale(1,1.05)">Twoline-Ind</text><text transform="translate(372.9,999.6) rotate(-90) scale(1,1.05)">Boro II</text></g>
<g fill="#fff" stroke="#909090" stroke-width="1"><rect x="491.4" y="1033.7" width="78.7" height="272.5"/><rect x="581.3" y="1033.7" width="52.4" height="272.5"/><rect x="645.4" y="1033.7" width="52.4" height="272.5"/><rect x="709.3" y="1033.7" width="52.4" height="272.5"/></g><path d="M485.5,1038.2H491.4M485.5,1092H491.4M485.5,1145.8H491.4M485.5,1199.6H491.4M485.5,1253.4H491.4" stroke="#222" stroke-width="1.2"/><path d="M505.7,1306.2v5.6M530.4,1306.2v5.6M555.1,1306.2v5.6M595.7,1306.2v5.6M619.6,1306.2v5.6M659.8,1306.2v5.6M683.7,1306.2v5.6M723.9,1306.2v5.6M747.8,1306.2v5.6" stroke="#222" stroke-width="1.6"/><path d="M505.7,1116.8V1178M505.7,1218.2V1264.8M530.4,1076V1157.4M530.4,1212.4V1287.8M555.1,1080.3V1147.7M555.1,1193.4V1262.5M595.7,1104.2V1163.6M595.7,1209.7V1275.7M619.6,1084.8V1157M619.6,1205V1271.2M659.8,1158V1217.4M659.8,1265.4V1292.2M683.7,1096.4V1174.1M683.7,1236.3V1284.3M723.9,1176.1V1198.8M723.9,1240.2V1294M747.8,1046.3V1148.5M747.8,1217.4V1290.7" stroke="#454545" stroke-width="1.15" fill="none"/><g fill="#fff" fill-opacity="0.6" stroke="#1c1c1c" stroke-width="1.15"><circle cx="505.7" cy="1096.8" r="2.05"/><circle cx="505.7" cy="1107.7" r="2.05"/><circle cx="505.7" cy="1109.1" r="2.05"/><circle cx="505.7" cy="1116.1" r="2.05"/><circle cx="530.4" cy="1056" r="2.05"/><circle cx="530.4" cy="1066.9" r="2.05"/><circle cx="530.4" cy="1074.5" r="2.05"/><circle cx="555.1" cy="1048.8" r="2.05"/><circle cx="555.1" cy="1064.2" r="2.05"/><circle cx="555.1" cy="1263.5" r="2.05"/><circle cx="555.1" cy="1276.9" r="2.05"/><circle cx="595.7" cy="1086.1" r="2.05"/><circle cx="595.7" cy="1090" r="2.05"/><circle cx="619.6" cy="1070.6" r="2.05"/><circle cx="619.6" cy="1080.9" r="2.05"/><circle cx="619.6" cy="1083.8" r="2.05"/><circle cx="659.8" cy="1110.6" r="2.05"/><circle cx="659.8" cy="1135.3" r="2.05"/><circle cx="659.8" cy="1136.1" r="2.05"/><circle cx="723.9" cy="1084.8" r="2.05"/></g><rect x="496.4" y="1178" width="18.6" height="40.2" fill="#f05a14" stroke="#8a2f06" stroke-width="1.0"/><path d="M496.4,1196.5h18.6" stroke="#4a1a03" stroke-width="2.0"/><rect x="521.1" y="1157.4" width="18.6" height="55" fill="#5f75f8" stroke="#2f3fa8" stroke-width="1.0"/><path d="M521.1,1186.2h18.6" stroke="#18236e" stroke-width="2.0"/><rect x="545.8" y="1147.7" width="18.6" height="45.6" fill="#f1c766" stroke="#6e5413" stroke-width="1.0"/><path d="M545.8,1171.4h18.6" stroke="#40300a" stroke-width="2.0"/><rect x="586.3" y="1163.6" width="18.6" height="46" fill="#5f75f8" stroke="#2f3fa8" stroke-width="1.0"/><path d="M586.3,1184.8h18.6" stroke="#18236e" stroke-width="2.0"/><rect x="610.2" y="1157" width="18.6" height="48" fill="#f1c766" stroke="#6e5413" stroke-width="1.0"/><path d="M610.2,1182.3h18.6" stroke="#40300a" stroke-width="2.0"/><rect x="650.4" y="1217.4" width="18.6" height="48" fill="#5f75f8" stroke="#2f3fa8" stroke-width="1.0"/><path d="M650.4,1249.9h18.6" stroke="#18236e" stroke-width="2.0"/><rect x="674.3" y="1174.1" width="18.6" height="62.2" fill="#f1c766" stroke="#6e5413" stroke-width="1.0"/><path d="M674.3,1203.3h18.6" stroke="#40300a" stroke-width="2.0"/><rect x="714.5" y="1198.8" width="18.6" height="41.4" fill="#5f75f8" stroke="#2f3fa8" stroke-width="1.0"/><path d="M714.5,1221.3h18.6" stroke="#18236e" stroke-width="2.0"/><rect x="738.4" y="1148.5" width="18.6" height="69" fill="#f1c766" stroke="#6e5413" stroke-width="1.0"/><path d="M738.4,1190.1h18.6" stroke="#40300a" stroke-width="2.0"/><g fill="#b3203a" stroke="#b3203a" stroke-width="0.25" font-size="22.5" text-anchor="middle"><text x="507.3" y="1051.8">a</text><text x="533.3" y="1051.8">b</text><text x="555.9" y="1051.8">c</text></g><g fill="#b3203a" font-size="13.5" text-anchor="middle"><text x="533.1" y="1024">&lt;2.20x10<tspan font-size="8" dy="-5.2">-16</tspan></text><text x="604.6" y="1024">0.035</text><text x="668.5" y="1024">5.19x10<tspan font-size="8" dy="-5.2">-7</tspan></text><text x="735.7" y="1024">3.25x10<tspan font-size="8" dy="-5.2">-4</tspan></text></g><g font-size="23" text-anchor="end"><text x="481" y="1048.9">70</text><text x="481" y="1100.7">60</text><text x="481" y="1155.5">50</text><text x="481" y="1208.9">40</text><text x="481" y="1262.5">30</text></g><text transform="translate(443.1,1158.1) rotate(-90)" font-size="24" text-anchor="middle">Flag leaf length (cm)</text><g font-size="25"><text transform="translate(513.1,1411.6) rotate(-90)">Y1 (231)</text><text transform="translate(538,1411.6) rotate(-90)">Y2 (817)</text><text transform="translate(565.6,1411.6) rotate(-90)">Y3 (519)</text><text transform="translate(602.1,1411.6) rotate(-90)">Y2 (222)</text><text transform="translate(626.4,1411.6) rotate(-90)">Y3 (395)</text><text transform="translate(665.6,1411.6) rotate(-90)">Y2 (66)</text><text transform="translate(691.4,1411.6) rotate(-90)">Y3 (150)</text><text transform="translate(729.3,1411.6) rotate(-90)">Y2 (37)</text><text transform="translate(757.1,1411.6) rotate(-90)">Y3 (52)</text></g><g font-size="24.3"><text transform="translate(538.4,999.6) rotate(-90) scale(1,1.05)">Wild abortive</text><text transform="translate(613.7,999.6) rotate(-90) scale(1,1.05)">Twoline-Jap</text><text transform="translate(677.5,999.6) rotate(-90) scale(1,1.05)">Twoline-Ind</text><text transform="translate(741.6,999.6) rotate(-90) scale(1,1.05)">Boro II</text></g>
<g fill="#fff" stroke="#909090" stroke-width="1"><rect x="863.3" y="1034.1" width="78.1" height="269.2"/><rect x="952.3" y="1034.1" width="52.4" height="269.2"/><rect x="1016.2" y="1034.1" width="52.1" height="269.2"/><rect x="1079.5" y="1034.1" width="52.2" height="269.2"/></g><path d="M857.9,1034.3H863.3M857.9,1100.5H863.3M857.9,1166.9H863.3M857.9,1233H863.3M857.9,1299.4H863.3" stroke="#222" stroke-width="1.2"/><path d="M877.7,1303.3v5.6M902.2,1303.3v5.6M926.6,1303.3v5.6M966.6,1303.3v5.6M990.5,1303.3v5.6M1030.2,1303.3v5.6M1053.9,1303.3v5.6M1093.7,1303.3v5.6M1117.4,1303.3v5.6" stroke="#222" stroke-width="1.6"/><path d="M877.7,1100.9V1166.9M877.7,1216.7V1291.3M902.2,1091.6V1166.9M902.2,1216.7V1291.3M926.6,1100.9V1155.3M926.6,1195.5V1249.9M966.6,1105.6V1166.9M966.6,1211.4V1261.7M990.5,1077V1150.2M990.5,1200.4V1255.1M1030.2,1128.9V1184.8M1030.2,1228.5V1266.4M1053.9,1126V1166.9M1053.9,1200.4V1241.5M1093.7,1096.4V1161.9M1093.7,1216.7V1245M1117.4,1046.3V1112.2M1117.4,1167.3V1233.4" stroke="#454545" stroke-width="1.15" fill="none"/><g fill="#fff" fill-opacity="0.6" stroke="#1c1c1c" stroke-width="1.15"><circle cx="877.7" cy="1079" r="2.05"/><circle cx="877.7" cy="1083.8" r="2.05"/><circle cx="877.7" cy="1089.1" r="2.05"/><circle cx="902.2" cy="1062.6" r="2.05"/><circle cx="902.2" cy="1079" r="2.05"/><circle cx="902.2" cy="1083.8" r="2.05"/><circle cx="902.2" cy="1089.1" r="2.05"/><circle cx="926.6" cy="1045.9" r="2.05"/><circle cx="926.6" cy="1079" r="2.05"/><circle cx="926.6" cy="1083.8" r="2.05"/><circle cx="926.6" cy="1089.1" r="2.05"/><circle cx="926.6" cy="1095.9" r="2.05"/><circle cx="926.6" cy="1261.5" r="2.05"/><circle cx="926.6" cy="1266.4" r="2.05"/><circle cx="966.6" cy="1067.7" r="2.05"/><circle cx="966.6" cy="1089.2" r="2.05"/><circle cx="966.6" cy="1095.5" r="2.05"/><circle cx="966.6" cy="1100.5" r="2.05"/><circle cx="990.5" cy="1062.4" r="2.05"/><circle cx="990.5" cy="1067.7" r="2.05"/><circle cx="990.5" cy="1072.5" r="2.05"/><circle cx="1053.9" cy="1100.7" r="2.05"/><circle cx="1053.9" cy="1109.1" r="2.05"/><circle cx="1053.9" cy="1112.4" r="2.05"/><circle cx="1053.9" cy="1266.6" r="2.05"/><circle cx="1093.7" cy="1046.1" r="2.05"/></g><rect x="868.4" y="1166.9" width="18.6" height="49.7" fill="#f05a14" stroke="#8a2f06" stroke-width="1.0"/><path d="M868.4,1188.3h18.6" stroke="#4a1a03" stroke-width="2.0"/><rect x="892.8" y="1166.9" width="18.6" height="49.7" fill="#5f75f8" stroke="#2f3fa8" stroke-width="1.0"/><path d="M892.8,1188.3h18.6" stroke="#18236e" stroke-width="2.0"/><rect x="917.3" y="1155.3" width="18.6" height="40.2" fill="#f1c766" stroke="#6e5413" stroke-width="1.0"/><path d="M917.3,1171.8h18.6" stroke="#40300a" stroke-width="2.0"/><rect x="957.3" y="1166.9" width="18.6" height="44.5" fill="#5f75f8" stroke="#2f3fa8" stroke-width="1.0"/><path d="M957.3,1183.5h18.6" stroke="#18236e" stroke-width="2.0"/><rect x="981.2" y="1150.2" width="18.6" height="50.1" fill="#f1c766" stroke="#6e5413" stroke-width="1.0"/><path d="M981.2,1178.4h18.6" stroke="#40300a" stroke-width="2.0"/><rect x="1020.8" y="1184.8" width="18.6" height="43.7" fill="#5f75f8" stroke="#2f3fa8" stroke-width="1.0"/><path d="M1020.8,1211.8h18.6" stroke="#18236e" stroke-width="2.0"/><rect x="1044.5" y="1166.9" width="18.6" height="33.4" fill="#f1c766" stroke="#6e5413" stroke-width="1.0"/><path d="M1044.5,1183.5h18.6" stroke="#40300a" stroke-width="2.0"/><rect x="1084.3" y="1161.9" width="18.6" height="54.8" fill="#5f75f8" stroke="#2f3fa8" stroke-width="1.0"/><path d="M1084.3,1195.1h18.6" stroke="#18236e" stroke-width="2.0"/><rect x="1108" y="1112.2" width="18.6" height="55.2" fill="#f1c766" stroke="#6e5413" stroke-width="1.0"/><path d="M1108,1142.1h18.6" stroke="#40300a" stroke-width="2.0"/><g fill="#b3203a" stroke="#b3203a" stroke-width="0.25" font-size="22.5" text-anchor="middle"><text x="879.4" y="1051.8">a</text><text x="902.5" y="1051.8">a</text><text x="925.5" y="1051.8">b</text></g><g fill="#b3203a" font-size="13.5" text-anchor="middle"><text x="900.6" y="1024">1.36x10<tspan font-size="8" dy="-5.2">-14</tspan></text><text x="978.5" y="1024">3.19x10<tspan font-size="8" dy="-5.2">-4</tspan></text><text x="1040.1" y="1024">1.66x10<tspan font-size="8" dy="-5.2">-6</tspan></text><text x="1107.1" y="1024">3.40x10<tspan font-size="8" dy="-5.2">-5</tspan></text></g><g font-size="23" text-anchor="end"><text transform="translate(856.5,1041.9) scale(1.08,1)">2.8</text><text transform="translate(856.5,1107.9) scale(1.08,1)">2.4</text><text transform="translate(856.5,1174.6) scale(1.08,1)">2.0</text><text transform="translate(856.5,1240.6) scale(1.08,1)">1.6</text><text transform="translate(856.5,1306.6) scale(1.08,1)">1.2</text></g><text transform="translate(809.8,1174.6) rotate(-90)" font-size="24" text-anchor="middle">Flag leaf width (cm)</text><g font-size="25"><text transform="translate(883.7,1411.6) rotate(-90)">Y1 (231)</text><text transform="translate(909,1411.6) rotate(-90)">Y2 (817)</text><text transform="translate(935.8,1411.6) rotate(-90)">Y3 (519)</text><text transform="translate(972.1,1411.6) rotate(-90)">Y2 (222)</text><text transform="translate(1000.3,1411.6) rotate(-90)">Y3 (395)</text><text transform="translate(1034.2,1411.6) rotate(-90)">Y2 (66)</text><text transform="translate(1061.4,1411.6) rotate(-90)">Y3 (150)</text><text transform="translate(1097.4,1411.6) rotate(-90)">Y2 (37)</text><text transform="translate(1122.6,1411.6) rotate(-90)">Y3 (52)</text></g><g font-size="24.3"><text transform="translate(908.4,999.6) rotate(-90) scale(1,1.05)">Wild abortive</text><text transform="translate(984.1,999.6) rotate(-90) scale(1,1.05)">Twoline-Jap</text><text transform="translate(1047.8,999.6) rotate(-90) scale(1,1.05)">Twoline-Ind</text><text transform="translate(1112,999.6) rotate(-90) scale(1,1.05)">Boro II</text></g>
<g fill="#fff" stroke="#909090" stroke-width="1"><rect x="1219.4" y="1030.8" width="86" height="277.4"/><rect x="1312.3" y="1030.8" width="57.1" height="277.4"/><rect x="1376.4" y="1030.8" width="57.1" height="277.4"/><rect x="1440.3" y="1030.8" width="57.3" height="277.4"/></g><path d="M1216.5,1120.1H1219.4M1216.5,1215.9H1219.4" stroke="#222" stroke-width="0.8"/><path d="M1235.9,1308.2v4.2M1262.3,1308.2v4.2M1289.2,1308.2v4.2M1327.6,1308.2v4.2M1353.8,1308.2v4.2M1391.9,1308.2v4.2M1417.7,1308.2v4.2M1456,1308.2v4.2M1482,1308.2v4.2" stroke="#222" stroke-width="1.2000000000000002"/><path d="M1235.9,1053.1V1088.5M1235.9,1132.8V1193.6M1262.3,1048.8V1088.5M1262.3,1127.1V1185.8M1289.2,1049.8V1078.8M1289.2,1120.5V1177M1327.6,1056V1094.1M1327.6,1139.4V1207.1M1353.8,1048.3V1088.5M1353.8,1142.5V1215.9M1391.9,1059.9V1120.1M1391.9,1167.5V1212M1417.7,1062.1V1094.1M1417.7,1153.3V1232.4M1456,1069.2V1088.5M1456,1136.4V1190.6M1482,1065.4V1091.2M1482,1139.6V1184.8" stroke="#6e6e6e" stroke-width="0.9" fill="none"/><g fill="#555" fill-opacity="0.85"><circle cx="1235.9" cy="1209.7" r="1.6"/><circle cx="1262.3" cy="1187.1" r="1.6"/><circle cx="1262.3" cy="1191.6" r="1.6"/><circle cx="1262.3" cy="1194.1" r="1.6"/><circle cx="1262.3" cy="1196.9" r="1.6"/><circle cx="1262.3" cy="1199.4" r="1.6"/><circle cx="1262.3" cy="1206.6" r="1.6"/><circle cx="1262.3" cy="1217.2" r="1.6"/><circle cx="1262.3" cy="1220.2" r="1.6"/><circle cx="1262.3" cy="1223.1" r="1.6"/><circle cx="1262.3" cy="1228.9" r="1.6"/><circle cx="1289.2" cy="1184.2" r="1.6"/><circle cx="1289.2" cy="1187.1" r="1.6"/><circle cx="1289.2" cy="1193.9" r="1.6"/><circle cx="1289.2" cy="1199.8" r="1.6"/><circle cx="1289.2" cy="1206.6" r="1.6"/><circle cx="1289.2" cy="1215.9" r="1.6"/><circle cx="1289.2" cy="1218.8" r="1.6"/><circle cx="1289.2" cy="1223.1" r="1.6"/><circle cx="1289.2" cy="1295.9" r="1.6"/><circle cx="1353.8" cy="1223.1" r="1.6"/><circle cx="1353.8" cy="1232.8" r="1.6"/><circle cx="1353.8" cy="1247.9" r="1.6"/><circle cx="1391.9" cy="1043.6" r="1.6"/><circle cx="1391.9" cy="1274.2" r="1.6"/><circle cx="1417.7" cy="1247.9" r="1.6"/><circle cx="1456" cy="1240.4" r="1.6"/><circle cx="1482" cy="1247.9" r="1.6"/></g><rect x="1226" y="1088.5" width="19.8" height="44.3" fill="#f05a14" stroke="#8a2f06" stroke-width="0.8"/><path d="M1226,1107.5h19.8" stroke="#4a1a03" stroke-width="1.5"/><rect x="1252.4" y="1088.5" width="19.8" height="38.7" fill="#5f75f8" stroke="#2f3fa8" stroke-width="0.8"/><path d="M1252.4,1105.6h19.8" stroke="#18236e" stroke-width="1.5"/><rect x="1279.2" y="1078.8" width="19.8" height="41.8" fill="#f1c766" stroke="#6e5413" stroke-width="0.8"/><path d="M1279.2,1096h19.8" stroke="#40300a" stroke-width="1.5"/><rect x="1317.7" y="1094.1" width="19.8" height="45.3" fill="#5f75f8" stroke="#2f3fa8" stroke-width="0.8"/><path d="M1317.7,1113.3h19.8" stroke="#18236e" stroke-width="1.5"/><rect x="1343.9" y="1088.5" width="19.8" height="54" fill="#f1c766" stroke="#6e5413" stroke-width="0.8"/><path d="M1343.9,1110.6h19.8" stroke="#40300a" stroke-width="1.5"/><rect x="1382" y="1120.1" width="19.8" height="47.4" fill="#5f75f8" stroke="#2f3fa8" stroke-width="0.8"/><path d="M1382,1143.2h19.8" stroke="#18236e" stroke-width="1.5"/><rect x="1407.8" y="1094.1" width="19.8" height="59.2" fill="#f1c766" stroke="#6e5413" stroke-width="0.8"/><path d="M1407.8,1123.8h19.8" stroke="#40300a" stroke-width="1.5"/><rect x="1446.1" y="1088.5" width="19.8" height="48" fill="#5f75f8" stroke="#2f3fa8" stroke-width="0.8"/><path d="M1446.1,1110.4h19.8" stroke="#18236e" stroke-width="1.5"/><rect x="1472.1" y="1091.2" width="19.8" height="48.4" fill="#f1c766" stroke="#6e5413" stroke-width="0.8"/><path d="M1472.1,1110.6h19.8" stroke="#40300a" stroke-width="1.5"/><g fill="#b3203a" stroke="#b3203a" stroke-width="0.25" font-size="22.5" text-anchor="middle"><text x="1235" y="1047.9">a</text><text x="1263.1" y="1047.9">a</text><text x="1291.3" y="1047.9">b</text></g><g fill="#b3203a" font-size="13.5" text-anchor="middle"><text x="1263.1" y="1024.6">3.26x10<tspan font-size="8" dy="-5.2">-4</tspan></text><text x="1339.5" y="1024.6">0.52</text><text x="1403.9" y="1024.6">4.70x10<tspan font-size="8" dy="-5.2">-3</tspan></text><text x="1468.6" y="1024.6">0.64</text></g><g font-size="23" text-anchor="end"><text x="1214.9" y="1126.4">80</text><text x="1214.9" y="1221.6">70</text></g><text transform="translate(1171.2,1154.7) rotate(-90)" font-size="24" text-anchor="middle">Tiller angle</text><g font-size="25"><text transform="translate(1240.4,1411.6) rotate(-90)">Y1 (231)</text><text transform="translate(1269.9,1411.6) rotate(-90)">Y2 (814)</text><text transform="translate(1299.6,1411.6) rotate(-90)">Y3 (518)</text><text transform="translate(1333.1,1411.6) rotate(-90)">Y2 (222)</text><text transform="translate(1360.3,1411.6) rotate(-90)">Y3 (395)</text><text transform="translate(1396.2,1411.6) rotate(-90)">Y2 (66)</text><text transform="translate(1426.3,1411.6) rotate(-90)">Y3 (150)</text><text transform="translate(1461.3,1411.6) rotate(-90)">Y2 (35)</text><text transform="translate(1488.5,1411.6) rotate(-90)">Y3 (51)</text></g><g font-size="24.3"><text transform="translate(1270.5,999.6) rotate(-90) scale(1,1.05)">Wild abortive</text><text transform="translate(1345.3,999.6) rotate(-90) scale(1,1.05)">Twoline-Jap</text><text transform="translate(1409.4,999.6) rotate(-90) scale(1,1.05)">Twoline-Ind</text><text transform="translate(1473.5,999.6) rotate(-90) scale(1,1.05)">Boro II</text></g>
<g fill="#fff" stroke="#909090" stroke-width="1"><rect x="1592.9" y="1034.7" width="78.7" height="270.6"/><rect x="1683.1" y="1034.7" width="52.2" height="270.6"/><rect x="1746.4" y="1034.7" width="52.6" height="270.6"/><rect x="1809.9" y="1034.7" width="52.6" height="270.6"/></g><path d="M1587.9,1093.5H1592.9M1587.9,1160.1H1592.9M1587.9,1227.2H1592.9M1587.9,1294H1592.9" stroke="#222" stroke-width="1.2"/><path d="M1607.9,1305.2v5.6M1632.4,1305.2v5.6M1657.2,1305.2v5.6M1697.2,1305.2v5.6M1721.3,1305.2v5.6M1760.8,1305.2v5.6M1784.7,1305.2v5.6M1824.3,1305.2v5.6M1848.2,1305.2v5.6" stroke="#222" stroke-width="1.6"/><path d="M1607.9,1064.8V1102.8M1607.9,1149.3V1218.8M1632.4,1055.6V1106.9M1632.4,1164.8V1248.9M1657.2,1047.9V1116.1M1657.2,1167.3V1236.3M1697.2,1062.1V1117.4M1697.2,1154.3V1196.1M1721.3,1055.1V1120.1M1721.3,1166.4V1232.4M1760.8,1072.7V1171M1760.8,1237.3V1270.3M1784.7,1077.4V1128.3M1784.7,1203.8V1265.4M1824.3,1086.1V1138.2M1824.3,1192V1229.5M1848.2,1093.9V1129.3M1848.2,1159.6V1201.3" stroke="#454545" stroke-width="1.15" fill="none"/><g fill="#fff" fill-opacity="0.6" stroke="#1c1c1c" stroke-width="1.15"><circle cx="1607.9" cy="1225.6" r="2.05"/><circle cx="1607.9" cy="1253.8" r="2.05"/><circle cx="1607.9" cy="1256.3" r="2.05"/><circle cx="1632.4" cy="1251.8" r="2.05"/><circle cx="1632.4" cy="1255.1" r="2.05"/><circle cx="1632.4" cy="1264.3" r="2.05"/><circle cx="1657.2" cy="1245.4" r="2.05"/><circle cx="1697.2" cy="1052.5" r="2.05"/><circle cx="1697.2" cy="1059.1" r="2.05"/><circle cx="1697.2" cy="1212" r="2.05"/><circle cx="1697.2" cy="1215.9" r="2.05"/><circle cx="1697.2" cy="1219.8" r="2.05"/><circle cx="1697.2" cy="1222.7" r="2.05"/><circle cx="1697.2" cy="1225.6" r="2.05"/><circle cx="1697.2" cy="1235.7" r="2.05"/><circle cx="1697.2" cy="1259.4" r="2.05"/><circle cx="1721.3" cy="1240.9" r="2.05"/><circle cx="1721.3" cy="1249.3" r="2.05"/><circle cx="1721.3" cy="1293.4" r="2.05"/><circle cx="1848.2" cy="1206.6" r="2.05"/><circle cx="1848.2" cy="1216.5" r="2.05"/><circle cx="1848.2" cy="1226" r="2.05"/></g><rect x="1598.8" y="1102.8" width="18.3" height="46.4" fill="#f05a14" stroke="#8a2f06" stroke-width="1.0"/><path d="M1598.8,1123.6h18.3" stroke="#4a1a03" stroke-width="2.0"/><rect x="1623.2" y="1106.9" width="18.3" height="57.9" fill="#5f75f8" stroke="#2f3fa8" stroke-width="1.0"/><path d="M1623.2,1127.9h18.3" stroke="#18236e" stroke-width="2.0"/><rect x="1648.1" y="1116.1" width="18.3" height="51.3" fill="#f1c766" stroke="#6e5413" stroke-width="1.0"/><path d="M1648.1,1141.5h18.3" stroke="#40300a" stroke-width="2.0"/><rect x="1688.1" y="1117.4" width="18.3" height="36.9" fill="#5f75f8" stroke="#2f3fa8" stroke-width="1.0"/><path d="M1688.1,1136.3h18.3" stroke="#18236e" stroke-width="2.0"/><rect x="1712.2" y="1120.1" width="18.3" height="46.2" fill="#f1c766" stroke="#6e5413" stroke-width="1.0"/><path d="M1712.2,1142.7h18.3" stroke="#40300a" stroke-width="2.0"/><rect x="1751.6" y="1171" width="18.3" height="66.2" fill="#5f75f8" stroke="#2f3fa8" stroke-width="1.0"/><path d="M1751.6,1214.9h18.3" stroke="#18236e" stroke-width="2.0"/><rect x="1775.5" y="1128.3" width="18.3" height="75.6" fill="#f1c766" stroke="#6e5413" stroke-width="1.0"/><path d="M1775.5,1169.1h18.3" stroke="#40300a" stroke-width="2.0"/><rect x="1815.1" y="1138.2" width="18.3" height="53.8" fill="#5f75f8" stroke="#2f3fa8" stroke-width="1.0"/><path d="M1815.1,1161.5h18.3" stroke="#18236e" stroke-width="2.0"/><rect x="1839" y="1129.3" width="18.3" height="30.3" fill="#f1c766" stroke="#6e5413" stroke-width="1.0"/><path d="M1839,1138.2h18.3" stroke="#40300a" stroke-width="2.0"/><g fill="#b3203a" stroke="#b3203a" stroke-width="0.25" font-size="22.5" text-anchor="middle"><text x="1608.7" y="1054.7">a</text><text x="1632.4" y="1054.7">a</text><text x="1657.8" y="1054.7">b</text></g><g fill="#b3203a" font-size="13.5" text-anchor="middle"><text x="1634.3" y="1024.6">2.03x10<tspan font-size="8" dy="-5.2">-5</tspan></text><text x="1707.2" y="1024.6">0.011</text><text x="1771.4" y="1024.6">4.84x10<tspan font-size="8" dy="-5.2">-5</tspan></text><text x="1837.3" y="1024.6">0.041</text></g><g font-size="23" text-anchor="end"><text transform="translate(1586.5,1101.1) scale(1.05,1)">130</text><text transform="translate(1586.5,1167.2) scale(1.05,1)">110</text><text transform="translate(1586.5,1236.1) scale(1.05,1)">90</text><text transform="translate(1586.5,1302.6) scale(1.05,1)">70</text></g><text transform="translate(1534.4,1173.9) rotate(-90)" font-size="24" text-anchor="middle">Plant height (cm)</text><g font-size="25"><text transform="translate(1614.9,1414.1) rotate(-90)">Y1 (231)</text><text transform="translate(1638.8,1414.1) rotate(-90)">Y2 (821)</text><text transform="translate(1664,1414.1) rotate(-90)">Y3 (521)</text><text transform="translate(1702.3,1414.1) rotate(-90)">Y2 (223)</text><text transform="translate(1727.2,1414.1) rotate(-90)">Y3 (401)</text><text transform="translate(1764.1,1414.1) rotate(-90)">Y2 (67)</text><text transform="translate(1791.3,1414.1) rotate(-90)">Y3 (150)</text><text transform="translate(1829.2,1414.1) rotate(-90)">Y2 (37)</text><text transform="translate(1856,1414.1) rotate(-90)">Y3 (53)</text></g><g font-size="24.3"><text transform="translate(1639.2,999.6) rotate(-90) scale(1,1.05)">Wild abortive</text><text transform="translate(1714,999.6) rotate(-90) scale(1,1.05)">Twoline-Jap</text><text transform="translate(1778,999.6) rotate(-90) scale(1,1.05)">Twoline-Ind</text><text transform="translate(1842.2,999.6) rotate(-90) scale(1,1.05)">Boro II</text></g>
<g fill="#fff" stroke="#909090" stroke-width="1"><rect x="122.5" y="1458.5" width="80" height="276.4"/><rect x="214.4" y="1458.5" width="53.4" height="276.4"/><rect x="280.2" y="1458.5" width="53.2" height="276.4"/><rect x="345.5" y="1458.5" width="53.2" height="276.4"/></g><path d="M117,1481.2H122.5M117,1541.8H122.5M117,1602.4H122.5M117,1663.2H122.5M117,1723.8H122.5" stroke="#222" stroke-width="1.2"/><path d="M137.2,1734.8v5.6M162.1,1734.8v5.6M187.6,1734.8v5.6M228.9,1734.8v5.6M253.6,1734.8v5.6M294.8,1734.8v5.6M318.9,1734.8v5.6M360.2,1734.8v5.6M384.3,1734.8v5.6" stroke="#222" stroke-width="1.6"/><path d="M137.2,1561.8V1600.6M137.2,1633.5V1667.6M162.1,1555.6V1600.6M162.1,1632.7V1678.9M187.6,1556.2V1599.3M187.6,1628.8V1661.4M228.9,1547.2V1594.8M228.9,1628.6V1671.5M253.6,1552.7V1595.2M253.6,1624.3V1663.8M294.8,1582.2V1619.3M294.8,1657.5V1679.3M318.9,1563.3V1607M318.9,1637.7V1670.8M360.2,1576.5V1608.6M360.2,1650V1679.5M384.3,1495.7V1546.6M384.3,1591.3V1643" stroke="#454545" stroke-width="1.15" fill="none"/><g fill="#fff" fill-opacity="0.6" stroke="#1c1c1c" stroke-width="1.15"><circle cx="137.2" cy="1688.6" r="2.05"/><circle cx="137.2" cy="1696.4" r="2.05"/><circle cx="162.1" cy="1518.3" r="2.05"/><circle cx="162.1" cy="1520" r="2.05"/><circle cx="162.1" cy="1525.1" r="2.05"/><circle cx="162.1" cy="1533.6" r="2.05"/><circle cx="162.1" cy="1539.1" r="2.05"/><circle cx="162.1" cy="1542.6" r="2.05"/><circle cx="162.1" cy="1550.7" r="2.05"/><circle cx="162.1" cy="1681.6" r="2.05"/><circle cx="162.1" cy="1692.5" r="2.05"/><circle cx="162.1" cy="1698.3" r="2.05"/><circle cx="162.1" cy="1707.7" r="2.05"/><circle cx="162.1" cy="1712.9" r="2.05"/><circle cx="187.6" cy="1513.8" r="2.05"/><circle cx="187.6" cy="1522" r="2.05"/><circle cx="187.6" cy="1530.3" r="2.05"/><circle cx="187.6" cy="1551.1" r="2.05"/><circle cx="187.6" cy="1674.1" r="2.05"/><circle cx="187.6" cy="1681.8" r="2.05"/><circle cx="187.6" cy="1685.7" r="2.05"/><circle cx="187.6" cy="1697.2" r="2.05"/><circle cx="187.6" cy="1703.8" r="2.05"/><circle cx="187.6" cy="1722" r="2.05"/><circle cx="228.9" cy="1515.8" r="2.05"/><circle cx="228.9" cy="1533.2" r="2.05"/><circle cx="253.6" cy="1516.7" r="2.05"/><circle cx="253.6" cy="1532.3" r="2.05"/><circle cx="253.6" cy="1541.6" r="2.05"/><circle cx="253.6" cy="1545.5" r="2.05"/><circle cx="253.6" cy="1549.7" r="2.05"/><circle cx="253.6" cy="1672.5" r="2.05"/><circle cx="253.6" cy="1674.1" r="2.05"/><circle cx="253.6" cy="1719.9" r="2.05"/><circle cx="318.9" cy="1559.5" r="2.05"/><circle cx="360.2" cy="1483.1" r="2.05"/><circle cx="360.2" cy="1496.7" r="2.05"/><circle cx="360.2" cy="1503.1" r="2.05"/><circle cx="360.2" cy="1537.7" r="2.05"/><circle cx="384.3" cy="1470.7" r="2.05"/></g><rect x="127.9" y="1600.6" width="18.6" height="32.8" fill="#f05a14" stroke="#8a2f06" stroke-width="1.0"/><path d="M127.9,1617.1h18.6" stroke="#4a1a03" stroke-width="2.0"/><rect x="152.8" y="1600.6" width="18.6" height="32" fill="#5f75f8" stroke="#2f3fa8" stroke-width="1.0"/><path d="M152.8,1616.4h18.6" stroke="#18236e" stroke-width="2.0"/><rect x="178.2" y="1599.3" width="18.6" height="29.5" fill="#f1c766" stroke="#6e5413" stroke-width="1.0"/><path d="M178.2,1614.4h18.6" stroke="#40300a" stroke-width="2.0"/><rect x="219.6" y="1594.8" width="18.6" height="33.8" fill="#5f75f8" stroke="#2f3fa8" stroke-width="1.0"/><path d="M219.6,1612.9h18.6" stroke="#18236e" stroke-width="2.0"/><rect x="244.3" y="1595.2" width="18.6" height="29.1" fill="#f1c766" stroke="#6e5413" stroke-width="1.0"/><path d="M244.3,1610.7h18.6" stroke="#40300a" stroke-width="2.0"/><rect x="285.4" y="1619.3" width="18.6" height="38.3" fill="#5f75f8" stroke="#2f3fa8" stroke-width="1.0"/><path d="M285.4,1641h18.6" stroke="#18236e" stroke-width="2.0"/><rect x="309.5" y="1607" width="18.6" height="30.7" fill="#f1c766" stroke="#6e5413" stroke-width="1.0"/><path d="M309.5,1623.7h18.6" stroke="#40300a" stroke-width="2.0"/><rect x="350.9" y="1608.6" width="18.6" height="41.4" fill="#5f75f8" stroke="#2f3fa8" stroke-width="1.0"/><path d="M350.9,1621.2h18.6" stroke="#18236e" stroke-width="2.0"/><rect x="375" y="1546.6" width="18.6" height="44.7" fill="#f1c766" stroke="#6e5413" stroke-width="1.0"/><path d="M375,1567.6h18.6" stroke="#40300a" stroke-width="2.0"/><g fill="#b3203a" stroke="#b3203a" stroke-width="0.25" font-size="22.5" text-anchor="middle"><text x="138.4" y="1475.4">a</text><text x="163.9" y="1475.4">a</text><text x="187.6" y="1475.4">a</text></g><g fill="#b3203a" font-size="13.5" text-anchor="middle"><text x="162.9" y="1451.7">0.093</text><text x="242.3" y="1451.7">0.13</text><text x="308" y="1451.7">1.82x10<tspan font-size="8" dy="-5.2">-5</tspan></text><text x="375" y="1451.7">3.65x10<tspan font-size="8" dy="-5.2">-6</tspan></text></g><g font-size="23" text-anchor="end"><text x="110.6" y="1491.3">400</text><text x="110.6" y="1549.6">300</text><text x="110.6" y="1611.1">200</text><text x="110.6" y="1670">100</text><text x="110.6" y="1732.2">0</text></g><text transform="translate(62.6,1593.3) rotate(-90) scale(0.949,1)" font-size="24" text-anchor="middle">Full grain number per panicle</text><g font-size="25"><text transform="translate(140.9,1845.1) rotate(-90)">Y1 (230)</text><text transform="translate(168.1,1845.1) rotate(-90)">Y2 (825)</text><text transform="translate(195.3,1845.1) rotate(-90)">Y3 (516)</text><text transform="translate(233.6,1845.1) rotate(-90)">Y2 (230)</text><text transform="translate(261.4,1845.1) rotate(-90)">Y3 (390)</text><text transform="translate(299.2,1845.1) rotate(-90)">Y2 (67)</text><text transform="translate(326.4,1845.1) rotate(-90)">Y3 (149)</text><text transform="translate(368.2,1845.1) rotate(-90)">Y2 (35)</text><text transform="translate(396,1845.1) rotate(-90)">Y3 (51)</text></g>
<g fill="#fff" stroke="#909090" stroke-width="1"><rect x="482.9" y="1456.5" width="87" height="278.1"/><rect x="576.3" y="1456.5" width="57.3" height="278.1"/><rect x="640.4" y="1456.5" width="57.1" height="278.1"/><rect x="704.3" y="1456.5" width="57.3" height="278.1"/></g><path d="M480,1528.4H482.9M480,1609H482.9M480,1690H482.9" stroke="#222" stroke-width="0.8"/><path d="M499.4,1734.7v4.2M526.2,1734.7v4.2M552.8,1734.7v4.2M591.6,1734.7v4.2M617.7,1734.7v4.2M655.9,1734.7v4.2M682,1734.7v4.2M720.4,1734.7v4.2M746.3,1734.7v4.2" stroke="#222" stroke-width="1.2000000000000002"/><path d="M499.4,1572.1V1625.5M499.4,1661.4V1706.1M526.2,1560.4V1620.3M526.2,1663V1722.2M552.8,1536.5V1609M552.8,1657.9V1700.3M591.6,1572.1V1625.5M591.6,1663V1706.1M617.7,1536.5V1609M617.7,1657.9V1711.5M655.9,1576.5V1627.8M655.9,1664.5V1695.4M682,1550.3V1614.4M682,1657.9V1706.1M720.4,1593.4V1638.7M720.4,1682.8V1716.8M746.3,1625.5V1657.5M746.3,1684.7V1716.8" stroke="#6e6e6e" stroke-width="0.9" fill="none"/><g fill="#555" fill-opacity="0.85"><circle cx="499.4" cy="1501.6" r="1.6"/><circle cx="499.4" cy="1536.5" r="1.6"/><circle cx="499.4" cy="1539.1" r="1.6"/><circle cx="499.4" cy="1544.5" r="1.6"/><circle cx="499.4" cy="1549.9" r="1.6"/><circle cx="499.4" cy="1555.4" r="1.6"/><circle cx="526.2" cy="1485.3" r="1.6"/><circle cx="526.2" cy="1504.1" r="1.6"/><circle cx="526.2" cy="1508" r="1.6"/><circle cx="526.2" cy="1512.3" r="1.6"/><circle cx="526.2" cy="1517.7" r="1.6"/><circle cx="526.2" cy="1520" r="1.6"/><circle cx="526.2" cy="1522.9" r="1.6"/><circle cx="526.2" cy="1528.4" r="1.6"/><circle cx="526.2" cy="1539.1" r="1.6"/><circle cx="526.2" cy="1544.5" r="1.6"/><circle cx="526.2" cy="1549.9" r="1.6"/><circle cx="552.8" cy="1479.8" r="1.6"/><circle cx="552.8" cy="1485.3" r="1.6"/><circle cx="552.8" cy="1488" r="1.6"/><circle cx="552.8" cy="1490.7" r="1.6"/><circle cx="552.8" cy="1512.3" r="1.6"/><circle cx="552.8" cy="1517.7" r="1.6"/><circle cx="552.8" cy="1520" r="1.6"/><circle cx="552.8" cy="1528.4" r="1.6"/><circle cx="591.6" cy="1533.8" r="1.6"/><circle cx="591.6" cy="1560.8" r="1.6"/><circle cx="591.6" cy="1566.3" r="1.6"/><circle cx="591.6" cy="1568.2" r="1.6"/><circle cx="617.7" cy="1471.7" r="1.6"/><circle cx="617.7" cy="1496.1" r="1.6"/><circle cx="617.7" cy="1501.6" r="1.6"/><circle cx="617.7" cy="1517.7" r="1.6"/><circle cx="617.7" cy="1528.4" r="1.6"/><circle cx="617.7" cy="1533.8" r="1.6"/><circle cx="655.9" cy="1566.3" r="1.6"/><circle cx="682" cy="1544.7" r="1.6"/><circle cx="746.3" cy="1576.9" r="1.6"/><circle cx="746.3" cy="1585.1" r="1.6"/><circle cx="746.3" cy="1609.4" r="1.6"/></g><rect x="489.3" y="1625.5" width="20.2" height="35.9" fill="#f05a14" stroke="#8a2f06" stroke-width="0.8"/><path d="M489.3,1647.1h20.2" stroke="#4a1a03" stroke-width="1.5"/><rect x="516.1" y="1620.3" width="20.2" height="42.7" fill="#5f75f8" stroke="#2f3fa8" stroke-width="0.8"/><path d="M516.1,1647.1h20.2" stroke="#18236e" stroke-width="1.5"/><rect x="542.7" y="1609" width="20.2" height="48.9" fill="#f1c766" stroke="#6e5413" stroke-width="0.8"/><path d="M542.7,1636.2h20.2" stroke="#40300a" stroke-width="1.5"/><rect x="581.5" y="1625.5" width="20.2" height="37.5" fill="#5f75f8" stroke="#2f3fa8" stroke-width="0.8"/><path d="M581.5,1647.1h20.2" stroke="#18236e" stroke-width="1.5"/><rect x="607.6" y="1609" width="20.2" height="48.9" fill="#f1c766" stroke="#6e5413" stroke-width="0.8"/><path d="M607.6,1636.2h20.2" stroke="#40300a" stroke-width="1.5"/><rect x="645.8" y="1627.8" width="20.2" height="36.7" fill="#5f75f8" stroke="#2f3fa8" stroke-width="0.8"/><path d="M645.8,1647.1h20.2" stroke="#18236e" stroke-width="1.5"/><rect x="671.9" y="1614.4" width="20.2" height="43.5" fill="#f1c766" stroke="#6e5413" stroke-width="0.8"/><path d="M671.9,1636.2h20.2" stroke="#40300a" stroke-width="1.5"/><rect x="710.3" y="1638.7" width="20.2" height="44.1" fill="#5f75f8" stroke="#2f3fa8" stroke-width="0.8"/><path d="M710.3,1657.9h20.2" stroke="#18236e" stroke-width="1.5"/><rect x="736.2" y="1657.5" width="20.2" height="27.2" fill="#f1c766" stroke="#6e5413" stroke-width="0.8"/><path d="M736.2,1673.9h20.2" stroke="#40300a" stroke-width="1.5"/><g fill="#b3203a" stroke="#b3203a" stroke-width="0.25" font-size="22.5" text-anchor="middle"><text x="499.4" y="1473.4">a</text><text x="526.8" y="1473.4">a</text><text x="554.7" y="1473.4">b</text></g><g fill="#b3203a" font-size="13.5" text-anchor="middle"><text x="523.3" y="1452">1.41x10<tspan font-size="8" dy="-5.2">-5</tspan></text><text x="604.8" y="1452">5.10x10<tspan font-size="8" dy="-5.2">-4</tspan></text><text x="667" y="1452">0.06</text><text x="732.7" y="1452">0.16</text></g><g font-size="23" text-anchor="end"><text x="472.5" y="1539">15</text><text x="472.5" y="1619.5">10</text><text x="472.5" y="1697">5</text></g><text transform="translate(438.3,1613) rotate(-90) scale(1.02,1)" font-size="24" text-anchor="middle">Valid panicle number</text><g font-size="25"><text transform="translate(505.2,1843.2) rotate(-90)">Y1 (230)</text><text transform="translate(532.6,1843.2) rotate(-90)">Y2 (822)</text><text transform="translate(560.6,1843.2) rotate(-90)">Y3 (514)</text><text transform="translate(597.1,1843.2) rotate(-90)">Y2 (231)</text><text transform="translate(628.2,1843.2) rotate(-90)">Y3 (388)</text><text transform="translate(663.5,1843.2) rotate(-90)">Y2 (67)</text><text transform="translate(693.2,1843.2) rotate(-90)">Y3 (149)</text><text transform="translate(728.8,1843.2) rotate(-90)">Y2 (35)</text><text transform="translate(756.4,1843.2) rotate(-90)">Y3 (51)</text></g>
<g fill="#fff" stroke="#909090" stroke-width="1"><rect x="864.4" y="1457.9" width="86" height="278.3"/><rect x="957.1" y="1457.9" width="57.3" height="278.3"/><rect x="1021.8" y="1457.9" width="57.1" height="278.3"/><rect x="1086.2" y="1457.9" width="57.3" height="278.3"/></g><path d="M861.5,1468.7H864.4M861.5,1533.2H864.4M861.5,1597.3H864.4M861.5,1661.4H864.4M861.5,1725.5H864.4" stroke="#222" stroke-width="0.8"/><path d="M880.5,1736.2v4.2M907.2,1736.2v4.2M934.2,1736.2v4.2M972.8,1736.2v4.2M998.8,1736.2v4.2M1037.3,1736.2v4.2M1063.1,1736.2v4.2M1101.8,1736.2v4.2M1127.6,1736.2v4.2" stroke="#222" stroke-width="1.2000000000000002"/><path d="M880.5,1577.5V1622M880.5,1652.1V1696.4M907.2,1574V1620.8M907.2,1652.5V1698.3M934.2,1560.4V1610.5M934.2,1645.9V1685.1M972.8,1581.4V1619.7M972.8,1649.6V1689.6M998.8,1556.5V1606.3M998.8,1641.4V1687.7M1037.3,1617.7V1646.9M1037.3,1669.8V1694.4M1063.1,1568.2V1620.4M1063.1,1655.8V1684.7M1101.8,1596.4V1638.5M1101.8,1676.2V1693.1M1127.6,1532.8V1601.4M1127.6,1649V1676.6" stroke="#6e6e6e" stroke-width="0.9" fill="none"/><g fill="#555" fill-opacity="0.85"><circle cx="880.5" cy="1563.7" r="1.6"/><circle cx="880.5" cy="1564.5" r="1.6"/><circle cx="907.2" cy="1533.8" r="1.6"/><circle cx="907.2" cy="1543.9" r="1.6"/><circle cx="907.2" cy="1545.9" r="1.6"/><circle cx="907.2" cy="1547.8" r="1.6"/><circle cx="907.2" cy="1549.7" r="1.6"/><circle cx="907.2" cy="1551.7" r="1.6"/><circle cx="907.2" cy="1553.6" r="1.6"/><circle cx="907.2" cy="1555.6" r="1.6"/><circle cx="907.2" cy="1557.5" r="1.6"/><circle cx="907.2" cy="1559.5" r="1.6"/><circle cx="907.2" cy="1561.4" r="1.6"/><circle cx="907.2" cy="1563.3" r="1.6"/><circle cx="907.2" cy="1565.3" r="1.6"/><circle cx="907.2" cy="1567.2" r="1.6"/><circle cx="907.2" cy="1569.2" r="1.6"/><circle cx="907.2" cy="1571.1" r="1.6"/><circle cx="907.2" cy="1573.1" r="1.6"/><circle cx="907.2" cy="1700.3" r="1.6"/><circle cx="907.2" cy="1711" r="1.6"/><circle cx="907.2" cy="1714.8" r="1.6"/><circle cx="907.2" cy="1718.1" r="1.6"/><circle cx="934.2" cy="1492.8" r="1.6"/><circle cx="934.2" cy="1511.9" r="1.6"/><circle cx="934.2" cy="1513.2" r="1.6"/><circle cx="934.2" cy="1523.1" r="1.6"/><circle cx="934.2" cy="1536.1" r="1.6"/><circle cx="934.2" cy="1543.5" r="1.6"/><circle cx="934.2" cy="1545.9" r="1.6"/><circle cx="934.2" cy="1549.7" r="1.6"/><circle cx="934.2" cy="1554.6" r="1.6"/><circle cx="934.2" cy="1556.5" r="1.6"/><circle cx="934.2" cy="1704.7" r="1.6"/><circle cx="934.2" cy="1723.8" r="1.6"/><circle cx="972.8" cy="1507" r="1.6"/><circle cx="972.8" cy="1559.5" r="1.6"/><circle cx="972.8" cy="1565.9" r="1.6"/><circle cx="972.8" cy="1571.5" r="1.6"/><circle cx="972.8" cy="1695.4" r="1.6"/><circle cx="998.8" cy="1470.5" r="1.6"/><circle cx="998.8" cy="1491.9" r="1.6"/><circle cx="998.8" cy="1518.7" r="1.6"/><circle cx="998.8" cy="1526" r="1.6"/><circle cx="998.8" cy="1531.3" r="1.6"/><circle cx="998.8" cy="1533.2" r="1.6"/><circle cx="998.8" cy="1539.1" r="1.6"/><circle cx="998.8" cy="1542" r="1.6"/><circle cx="998.8" cy="1545.9" r="1.6"/><circle cx="998.8" cy="1548.8" r="1.6"/><circle cx="998.8" cy="1551.7" r="1.6"/><circle cx="998.8" cy="1723" r="1.6"/><circle cx="1037.3" cy="1590.1" r="1.6"/><circle cx="1037.3" cy="1592.1" r="1.6"/><circle cx="1037.3" cy="1600.6" r="1.6"/><circle cx="1037.3" cy="1609" r="1.6"/><circle cx="1063.1" cy="1541" r="1.6"/><circle cx="1063.1" cy="1558.5" r="1.6"/><circle cx="1063.1" cy="1564.9" r="1.6"/><circle cx="1101.8" cy="1573.2" r="1.6"/><circle cx="1127.6" cy="1519.6" r="1.6"/></g><rect x="870.4" y="1622" width="20.2" height="30.1" fill="#f05a14" stroke="#8a2f06" stroke-width="0.8"/><path d="M870.4,1639.1h20.2" stroke="#4a1a03" stroke-width="1.5"/><rect x="897.1" y="1620.8" width="20.2" height="31.7" fill="#5f75f8" stroke="#2f3fa8" stroke-width="0.8"/><path d="M897.1,1638.1h20.2" stroke="#18236e" stroke-width="1.5"/><rect x="924.1" y="1610.5" width="20.2" height="35.4" fill="#f1c766" stroke="#6e5413" stroke-width="0.8"/><path d="M924.1,1628.8h20.2" stroke="#40300a" stroke-width="1.5"/><rect x="962.7" y="1619.7" width="20.2" height="29.9" fill="#5f75f8" stroke="#2f3fa8" stroke-width="0.8"/><path d="M962.7,1633.7h20.2" stroke="#18236e" stroke-width="1.5"/><rect x="988.7" y="1606.3" width="20.2" height="35.2" fill="#f1c766" stroke="#6e5413" stroke-width="0.8"/><path d="M988.7,1626.1h20.2" stroke="#40300a" stroke-width="1.5"/><rect x="1027.2" y="1646.9" width="20.2" height="22.9" fill="#5f75f8" stroke="#2f3fa8" stroke-width="0.8"/><path d="M1027.2,1660.3h20.2" stroke="#18236e" stroke-width="1.5"/><rect x="1053" y="1620.4" width="20.2" height="35.4" fill="#f1c766" stroke="#6e5413" stroke-width="0.8"/><path d="M1053,1638.1h20.2" stroke="#40300a" stroke-width="1.5"/><rect x="1091.7" y="1638.5" width="20.2" height="37.7" fill="#5f75f8" stroke="#2f3fa8" stroke-width="0.8"/><path d="M1091.7,1646.7h20.2" stroke="#18236e" stroke-width="1.5"/><rect x="1117.5" y="1601.4" width="20.2" height="47.6" fill="#f1c766" stroke="#6e5413" stroke-width="0.8"/><path d="M1117.5,1628.8h20.2" stroke="#40300a" stroke-width="1.5"/><g fill="#b3203a" stroke="#b3203a" stroke-width="0.25" font-size="22.5" text-anchor="middle"><text x="880.5" y="1475">a</text><text x="907.7" y="1475">a</text><text x="936.3" y="1475">b</text></g><g fill="#b3203a" font-size="13.5" text-anchor="middle"><text x="911.6" y="1451.7">4.87x10<tspan font-size="8" dy="-5.2">-11</tspan></text><text x="984.5" y="1451.7">7.21x10<tspan font-size="8" dy="-5.2">-6</tspan></text><text x="1051.9" y="1451.7">3.73x10<tspan font-size="8" dy="-5.2">-7</tspan></text><text x="1117.9" y="1451.7">4.58x10<tspan font-size="8" dy="-5.2">-5</tspan></text></g><g font-size="23" text-anchor="end"><text transform="translate(856.5,1496) scale(1.05,1)">4000</text><text transform="translate(856.5,1541.2) scale(1.05,1)">3000</text><text transform="translate(856.5,1607.2) scale(1.05,1)">2000</text><text transform="translate(856.5,1671.4) scale(1.05,1)">1000</text><text transform="translate(856.5,1737.7) scale(1.05,1)">0</text></g><text transform="translate(793.3,1595.8) rotate(-90)" font-size="24" text-anchor="middle">Full grain number per plant</text><g font-size="25"><text transform="translate(880,1845.1) rotate(-90)">Y1 (237)</text><text transform="translate(913.4,1845.1) rotate(-90)">Y2 (850)</text><text transform="translate(943.7,1845.1) rotate(-90)">Y3 (515)</text><text transform="translate(979,1845.1) rotate(-90)">Y2 (232)</text><text transform="translate(1006.2,1845.1) rotate(-90)">Y3 (389)</text><text transform="translate(1045.5,1845.1) rotate(-90)">Y2 (67)</text><text transform="translate(1075.2,1845.1) rotate(-90)">Y3 (149)</text><text transform="translate(1111.1,1845.1) rotate(-90)">Y2 (35)</text><text transform="translate(1138.3,1845.1) rotate(-90)">Y3 (51)</text></g>
<g fill="#fff" stroke="#909090" stroke-width="1"><rect x="1220.5" y="1459.8" width="85.9" height="278.3"/><rect x="1313.2" y="1459.8" width="57.3" height="278.3"/><rect x="1377.5" y="1459.8" width="57.1" height="278.3"/><rect x="1442" y="1459.8" width="57.3" height="278.3"/></g><path d="M1217.6,1544.9H1220.5M1217.6,1635.4H1220.5M1217.6,1725.5H1220.5" stroke="#222" stroke-width="0.8"/><path d="M1236.7,1738.2v4.2M1263.5,1738.2v4.2M1290.3,1738.2v4.2M1329.1,1738.2v4.2M1354.8,1738.2v4.2M1393.2,1738.2v4.2M1419.2,1738.2v4.2M1457.7,1738.2v4.2M1483.7,1738.2v4.2" stroke="#222" stroke-width="1.2000000000000002"/><path d="M1236.7,1477.9V1515.4M1236.7,1556V1612.9M1263.5,1476.9V1522.6M1263.5,1567.6V1633.3M1290.3,1481.4V1531.1M1290.3,1590.1V1676M1329.1,1480.8V1525.7M1329.1,1581.2V1657.5M1354.8,1486V1531.1M1354.8,1590.1V1658.5M1393.2,1486V1508.6M1393.2,1544.7V1594.4M1419.2,1476.9V1513.2M1419.2,1571.9V1635.2M1457.7,1486V1517.5M1457.7,1567.6V1626.5M1483.7,1504.1V1537.9M1483.7,1594.6V1653.7" stroke="#6e6e6e" stroke-width="0.9" fill="none"/><g fill="#555" fill-opacity="0.85"><circle cx="1236.7" cy="1617.1" r="1.6"/><circle cx="1236.7" cy="1621.6" r="1.6"/><circle cx="1236.7" cy="1626.1" r="1.6"/><circle cx="1236.7" cy="1630.7" r="1.6"/><circle cx="1236.7" cy="1635.4" r="1.6"/><circle cx="1236.7" cy="1653.7" r="1.6"/><circle cx="1236.7" cy="1680.9" r="1.6"/><circle cx="1263.5" cy="1635.2" r="1.6"/><circle cx="1263.5" cy="1639.7" r="1.6"/><circle cx="1263.5" cy="1644.3" r="1.6"/><circle cx="1263.5" cy="1649" r="1.6"/><circle cx="1263.5" cy="1657.9" r="1.6"/><circle cx="1263.5" cy="1666.9" r="1.6"/><circle cx="1263.5" cy="1676" r="1.6"/><circle cx="1263.5" cy="1689.6" r="1.6"/><circle cx="1263.5" cy="1694.3" r="1.6"/><circle cx="1290.3" cy="1685.1" r="1.6"/><circle cx="1290.3" cy="1712.3" r="1.6"/><circle cx="1329.1" cy="1666.9" r="1.6"/><circle cx="1329.1" cy="1671.5" r="1.6"/><circle cx="1329.1" cy="1680.9" r="1.6"/><circle cx="1329.1" cy="1725.9" r="1.6"/><circle cx="1354.8" cy="1685.1" r="1.6"/><circle cx="1354.8" cy="1694.3" r="1.6"/><circle cx="1354.8" cy="1708" r="1.6"/><circle cx="1419.2" cy="1671.5" r="1.6"/><circle cx="1457.7" cy="1666.9" r="1.6"/></g><rect x="1226.6" y="1515.4" width="20.2" height="40.6" fill="#f05a14" stroke="#8a2f06" stroke-width="0.8"/><path d="M1226.6,1535.6h20.2" stroke="#4a1a03" stroke-width="1.5"/><rect x="1253.4" y="1522.6" width="20.2" height="45.1" fill="#5f75f8" stroke="#2f3fa8" stroke-width="0.8"/><path d="M1253.4,1544.9h20.2" stroke="#18236e" stroke-width="1.5"/><rect x="1280.2" y="1531.1" width="20.2" height="59" fill="#f1c766" stroke="#6e5413" stroke-width="0.8"/><path d="M1280.2,1558.3h20.2" stroke="#40300a" stroke-width="1.5"/><rect x="1319" y="1525.7" width="20.2" height="55.6" fill="#5f75f8" stroke="#2f3fa8" stroke-width="0.8"/><path d="M1319,1551.5h20.2" stroke="#18236e" stroke-width="1.5"/><rect x="1344.7" y="1531.1" width="20.2" height="59" fill="#f1c766" stroke="#6e5413" stroke-width="0.8"/><path d="M1344.7,1558.3h20.2" stroke="#40300a" stroke-width="1.5"/><rect x="1383.1" y="1508.6" width="20.2" height="36.1" fill="#5f75f8" stroke="#2f3fa8" stroke-width="0.8"/><path d="M1383.1,1522.2h20.2" stroke="#18236e" stroke-width="1.5"/><rect x="1409.1" y="1513.2" width="20.2" height="58.7" fill="#f1c766" stroke="#6e5413" stroke-width="0.8"/><path d="M1409.1,1535.6h20.2" stroke="#40300a" stroke-width="1.5"/><rect x="1447.6" y="1517.5" width="20.2" height="50.1" fill="#5f75f8" stroke="#2f3fa8" stroke-width="0.8"/><path d="M1447.6,1535.6h20.2" stroke="#18236e" stroke-width="1.5"/><rect x="1473.6" y="1537.9" width="20.2" height="56.7" fill="#f1c766" stroke="#6e5413" stroke-width="0.8"/><path d="M1473.6,1567.2h20.2" stroke="#40300a" stroke-width="1.5"/><g fill="#b3203a" stroke="#b3203a" stroke-width="0.25" font-size="22.5" text-anchor="middle"><text x="1236.1" y="1476.9">a</text><text x="1262.9" y="1476.9">b</text><text x="1292" y="1476.9">c</text></g><g fill="#b3203a" font-size="13.5" text-anchor="middle"><text x="1266.2" y="1452">4.33x10<tspan font-size="8" dy="-5.2">-16</tspan></text><text x="1339" y="1452">0.12</text><text x="1404.7" y="1452">3.39x10<tspan font-size="8" dy="-5.2">-3</tspan></text><text x="1473" y="1452">3.00x10<tspan font-size="8" dy="-5.2">-3</tspan></text></g><g font-size="23" text-anchor="end"><text transform="translate(1216.1,1554.4) scale(1.08,1)">0.8</text><text transform="translate(1216.1,1644) scale(1.08,1)">0.6</text><text transform="translate(1216.1,1733.3) scale(1.08,1)">0.4</text></g><text transform="translate(1168.3,1603.5) rotate(-90)" font-size="24" text-anchor="middle">Seed setting rate</text><g font-size="25"><text transform="translate(1241.9,1842.6) rotate(-90)">Y1 (235)</text><text transform="translate(1270.1,1842.6) rotate(-90)">Y2 (842)</text><text transform="translate(1298.2,1842.6) rotate(-90)">Y3 (513)</text><text transform="translate(1333.6,1842.6) rotate(-90)">Y2 (232)</text><text transform="translate(1361.4,1842.6) rotate(-90)">Y3 (389)</text><text transform="translate(1399.2,1842.6) rotate(-90)">Y2 (67)</text><text transform="translate(1426.4,1842.6) rotate(-90)">Y3 (149)</text><text transform="translate(1463.4,1842.6) rotate(-90)">Y2 (35)</text><text transform="translate(1490.9,1842.6) rotate(-90)">Y3 (51)</text></g>
<g fill="#fff" stroke="#909090" stroke-width="1"><rect x="1596.4" y="1465.8" width="78.9" height="271.3"/><rect x="1687.3" y="1465.8" width="52.4" height="271.3"/><rect x="1751.4" y="1465.8" width="52.8" height="271.3"/><rect x="1815.5" y="1465.8" width="52.8" height="271.3"/></g><path d="M1591.2,1513.4H1596.4M1591.2,1573.1H1596.4M1591.2,1632.9H1596.4M1591.2,1692.5H1596.4" stroke="#222" stroke-width="1.2"/><path d="M1611,1737.2v5.6M1635.9,1737.2v5.6M1660.9,1737.2v5.6M1701.3,1737.2v5.6M1725.6,1737.2v5.6M1765.6,1737.2v5.6M1789.7,1737.2v5.6M1829.9,1737.2v5.6M1854.2,1737.2v5.6" stroke="#222" stroke-width="1.6"/><path d="M1611,1515.8V1576M1611,1621.6V1680.9M1635.9,1510.9V1576M1635.9,1624.9V1696.4M1660.9,1504.1V1585.7M1660.9,1642V1713.9M1701.3,1529.7V1590.7M1701.3,1636.6V1694.1M1725.6,1522V1600.2M1725.6,1653.5V1704.5M1765.6,1560.4V1590.9M1765.6,1616.8V1653.1M1789.7,1554.6V1599.5M1789.7,1643V1675M1829.9,1545.5V1580M1829.9,1631.9V1655.2M1854.2,1547.4V1594M1854.2,1634.6V1687.7" stroke="#454545" stroke-width="1.15" fill="none"/><g fill="#fff" fill-opacity="0.6" stroke="#1c1c1c" stroke-width="1.15"><circle cx="1611" cy="1501.2" r="2.05"/><circle cx="1611" cy="1692.9" r="2.05"/><circle cx="1635.9" cy="1699.3" r="2.05"/><circle cx="1635.9" cy="1702.2" r="2.05"/><circle cx="1635.9" cy="1703.6" r="2.05"/><circle cx="1635.9" cy="1713.1" r="2.05"/><circle cx="1635.9" cy="1725.1" r="2.05"/><circle cx="1660.9" cy="1477.9" r="2.05"/><circle cx="1660.9" cy="1489.5" r="2.05"/><circle cx="1701.3" cy="1506" r="2.05"/><circle cx="1725.6" cy="1516.5" r="2.05"/><circle cx="1765.6" cy="1490.3" r="2.05"/><circle cx="1829.9" cy="1482.5" r="2.05"/></g><rect x="1601.7" y="1576" width="18.6" height="45.6" fill="#f05a14" stroke="#8a2f06" stroke-width="1.0"/><path d="M1601.7,1597.7h18.6" stroke="#4a1a03" stroke-width="2.0"/><rect x="1626.5" y="1576" width="18.6" height="48.9" fill="#5f75f8" stroke="#2f3fa8" stroke-width="1.0"/><path d="M1626.5,1599.7h18.6" stroke="#18236e" stroke-width="2.0"/><rect x="1651.6" y="1585.7" width="18.6" height="56.3" fill="#f1c766" stroke="#6e5413" stroke-width="1.0"/><path d="M1651.6,1614.4h18.6" stroke="#40300a" stroke-width="2.0"/><rect x="1692" y="1590.7" width="18.6" height="45.8" fill="#5f75f8" stroke="#2f3fa8" stroke-width="1.0"/><path d="M1692,1613.3h18.6" stroke="#18236e" stroke-width="2.0"/><rect x="1716.3" y="1600.2" width="18.6" height="53.2" fill="#f1c766" stroke="#6e5413" stroke-width="1.0"/><path d="M1716.3,1628h18.6" stroke="#40300a" stroke-width="2.0"/><rect x="1756.3" y="1590.9" width="18.6" height="25.8" fill="#5f75f8" stroke="#2f3fa8" stroke-width="1.0"/><path d="M1756.3,1606.3h18.6" stroke="#18236e" stroke-width="2.0"/><rect x="1780.4" y="1599.5" width="18.6" height="43.5" fill="#f1c766" stroke="#6e5413" stroke-width="1.0"/><path d="M1780.4,1622h18.6" stroke="#40300a" stroke-width="2.0"/><rect x="1820.6" y="1580" width="18.6" height="51.9" fill="#5f75f8" stroke="#2f3fa8" stroke-width="1.0"/><path d="M1820.6,1610.5h18.6" stroke="#18236e" stroke-width="2.0"/><rect x="1844.9" y="1594" width="18.6" height="40.6" fill="#f1c766" stroke="#6e5413" stroke-width="1.0"/><path d="M1844.9,1617.7h18.6" stroke="#40300a" stroke-width="2.0"/><g fill="#b3203a" stroke="#b3203a" stroke-width="0.25" font-size="22.5" text-anchor="middle"><text x="1611.2" y="1484.3">a</text><text x="1635.5" y="1484.3">a</text><text x="1660.5" y="1484.3">b</text></g><g fill="#b3203a" font-size="13.5" text-anchor="middle"><text x="1633" y="1458.5">1.44x10<tspan font-size="8" dy="-5.2">-10</tspan></text><text x="1712.6" y="1458.5">1.34x10<tspan font-size="8" dy="-5.2">-4</tspan></text><text x="1778.6" y="1458.5">5.59x10<tspan font-size="8" dy="-5.2">-6</tspan></text><text x="1844.7" y="1458.5">0.10</text></g><g font-size="23" text-anchor="end"><text transform="translate(1591.9,1519.5) scale(1.22,1)">35</text><text transform="translate(1591.9,1580.7) scale(1.22,1)">30</text><text transform="translate(1591.9,1639.9) scale(1.22,1)">25</text><text transform="translate(1591.9,1701.1) scale(1.22,1)">20</text></g><text transform="translate(1548.6,1600.7) rotate(-90)" font-size="24" text-anchor="middle">Kilo-grain weight (g)</text><g font-size="25"><text transform="translate(1617.4,1843.5) rotate(-90)">Y1 (229)</text><text transform="translate(1644.6,1843.5) rotate(-90)">Y2 (826)</text><text transform="translate(1670.8,1843.5) rotate(-90)">Y3 (514)</text><text transform="translate(1706.8,1843.5) rotate(-90)">Y2 (229)</text><text transform="translate(1734,1843.5) rotate(-90)">Y3 (388)</text><text transform="translate(1773.4,1843.5) rotate(-90)">Y2 (67)</text><text transform="translate(1800,1843.5) rotate(-90)">Y3 (149)</text><text transform="translate(1838.5,1843.5) rotate(-90)">Y2 (35)</text><text transform="translate(1866,1843.5) rotate(-90)">Y3 (51)</text></g>
<g fill="#fff" stroke="#909090" stroke-width="1"><rect x="125.4" y="1887.5" width="85.5" height="278.7"/><rect x="218.2" y="1887.5" width="57.3" height="278.7"/><rect x="282.3" y="1887.5" width="57.3" height="278.7"/><rect x="347" y="1887.5" width="57.1" height="278.7"/></g><path d="M122.5,1894.3H125.4M122.5,1959.3H125.4M122.5,2024.8H125.4M122.5,2089.9H125.4M122.5,2154.9H125.4" stroke="#222" stroke-width="0.8"/><path d="M141.5,2166.2v4.2M168.1,2166.2v4.2M194.9,2166.2v4.2M234.2,2166.2v4.2M259.8,2166.2v4.2M298.3,2166.2v4.2M324.1,2166.2v4.2M362.6,2166.2v4.2M388.4,2166.2v4.2" stroke="#222" stroke-width="1.2000000000000002"/><path d="M141.5,2017.6V2050.1M141.5,2075.3V2103.1M168.1,2009.8V2049.3M168.1,2076.9V2116.7M194.9,2000.1V2044.2M194.9,2075.1V2115.1M234.2,2024.4V2054.5M234.2,2078.6V2110.9M259.8,2004V2046.8M259.8,2075.3V2116.7M298.3,2040.3V2072M298.3,2095.9V2127.8M324.1,2010.4V2055.9M324.1,2089.7V2115.7M362.6,2036.1V2067.7M362.6,2104.1V2119M388.4,1995.3V2038M388.4,2074.3V2105.4" stroke="#6e6e6e" stroke-width="0.9" fill="none"/><g fill="#555" fill-opacity="0.85"><circle cx="141.5" cy="1986.2" r="1.6"/><circle cx="141.5" cy="2004.4" r="1.6"/><circle cx="141.5" cy="2006.9" r="1.6"/><circle cx="141.5" cy="2009.8" r="1.6"/><circle cx="141.5" cy="2115.1" r="1.6"/><circle cx="168.1" cy="1947.1" r="1.6"/><circle cx="168.1" cy="1948.3" r="1.6"/><circle cx="168.1" cy="1964.8" r="1.6"/><circle cx="168.1" cy="1981.9" r="1.6"/><circle cx="168.1" cy="1988.5" r="1.6"/><circle cx="168.1" cy="1991.4" r="1.6"/><circle cx="168.1" cy="1993.7" r="1.6"/><circle cx="168.1" cy="1999.7" r="1.6"/><circle cx="168.1" cy="2002.1" r="1.6"/><circle cx="168.1" cy="2005" r="1.6"/><circle cx="168.1" cy="2007.3" r="1.6"/><circle cx="168.1" cy="2127.9" r="1.6"/><circle cx="168.1" cy="2141.5" r="1.6"/><circle cx="168.1" cy="2148.3" r="1.6"/><circle cx="194.9" cy="1911" r="1.6"/><circle cx="194.9" cy="1917" r="1.6"/><circle cx="194.9" cy="1934.1" r="1.6"/><circle cx="194.9" cy="1937" r="1.6"/><circle cx="194.9" cy="1963.2" r="1.6"/><circle cx="194.9" cy="1966.1" r="1.6"/><circle cx="194.9" cy="1969.4" r="1.6"/><circle cx="194.9" cy="1972" r="1.6"/><circle cx="194.9" cy="1974.9" r="1.6"/><circle cx="194.9" cy="1980.1" r="1.6"/><circle cx="194.9" cy="1981.7" r="1.6"/><circle cx="194.9" cy="1991.4" r="1.6"/><circle cx="194.9" cy="1997.8" r="1.6"/><circle cx="194.9" cy="2128.7" r="1.6"/><circle cx="194.9" cy="2136.3" r="1.6"/><circle cx="194.9" cy="2153.6" r="1.6"/><circle cx="234.2" cy="1976.4" r="1.6"/><circle cx="234.2" cy="2003.2" r="1.6"/><circle cx="234.2" cy="2010.6" r="1.6"/><circle cx="234.2" cy="2016.1" r="1.6"/><circle cx="234.2" cy="2113.8" r="1.6"/><circle cx="234.2" cy="2119.4" r="1.6"/><circle cx="259.8" cy="1905" r="1.6"/><circle cx="259.8" cy="1912.3" r="1.6"/><circle cx="259.8" cy="1945.2" r="1.6"/><circle cx="259.8" cy="1970.6" r="1.6"/><circle cx="259.8" cy="1973.9" r="1.6"/><circle cx="259.8" cy="1977.4" r="1.6"/><circle cx="259.8" cy="1995.3" r="1.6"/><circle cx="259.8" cy="1997.2" r="1.6"/><circle cx="259.8" cy="1999.2" r="1.6"/><circle cx="259.8" cy="2002.5" r="1.6"/><circle cx="259.8" cy="2152.8" r="1.6"/><circle cx="298.3" cy="2013.9" r="1.6"/><circle cx="298.3" cy="2024" r="1.6"/><circle cx="298.3" cy="2024.8" r="1.6"/><circle cx="324.1" cy="1988.5" r="1.6"/><circle cx="324.1" cy="1999.2" r="1.6"/><circle cx="324.1" cy="2000.1" r="1.6"/><circle cx="362.6" cy="2012.8" r="1.6"/><circle cx="388.4" cy="1983.6" r="1.6"/></g><rect x="131.4" y="2050.1" width="20.2" height="25.3" fill="#f05a14" stroke="#8a2f06" stroke-width="0.8"/><path d="M131.4,2064.8h20.2" stroke="#4a1a03" stroke-width="1.5"/><rect x="158" y="2049.3" width="20.2" height="27.6" fill="#5f75f8" stroke="#2f3fa8" stroke-width="0.8"/><path d="M158,2063.8h20.2" stroke="#18236e" stroke-width="1.5"/><rect x="184.8" y="2044.2" width="20.2" height="30.9" fill="#f1c766" stroke="#6e5413" stroke-width="0.8"/><path d="M184.8,2060.7h20.2" stroke="#40300a" stroke-width="1.5"/><rect x="224.1" y="2054.5" width="20.2" height="24.1" fill="#5f75f8" stroke="#2f3fa8" stroke-width="0.8"/><path d="M224.1,2065.8h20.2" stroke="#18236e" stroke-width="1.5"/><rect x="249.7" y="2046.8" width="20.2" height="28.6" fill="#f1c766" stroke="#6e5413" stroke-width="0.8"/><path d="M249.7,2064.2h20.2" stroke="#40300a" stroke-width="1.5"/><rect x="288.2" y="2072" width="20.2" height="23.9" fill="#5f75f8" stroke="#2f3fa8" stroke-width="0.8"/><path d="M288.2,2085h20.2" stroke="#18236e" stroke-width="1.5"/><rect x="314" y="2055.9" width="20.2" height="33.8" fill="#f1c766" stroke="#6e5413" stroke-width="0.8"/><path d="M314,2074.3h20.2" stroke="#40300a" stroke-width="1.5"/><rect x="352.5" y="2067.7" width="20.2" height="36.3" fill="#5f75f8" stroke="#2f3fa8" stroke-width="0.8"/><path d="M352.5,2081.5h20.2" stroke="#18236e" stroke-width="1.5"/><rect x="378.3" y="2038" width="20.2" height="36.3" fill="#f1c766" stroke="#6e5413" stroke-width="0.8"/><path d="M378.3,2061.9h20.2" stroke="#40300a" stroke-width="1.5"/><g fill="#b3203a" stroke="#b3203a" stroke-width="0.25" font-size="22.5" text-anchor="middle"><text x="141.5" y="1901.1">a</text><text x="167.5" y="1901.1">a</text><text x="192.4" y="1901.1">a</text></g><g fill="#b3203a" font-size="13.5" text-anchor="middle"><text x="163.3" y="1883.2">0.082</text><text x="244.8" y="1883.2">0.038</text><text x="308.6" y="1883.2">0.024</text><text x="375" y="1883.2">9.54x10<tspan font-size="8" dy="-5.2">-5</tspan></text></g><g font-size="23" text-anchor="end"><text transform="translate(121.9,1904) scale(1.08,1)">100</text><text transform="translate(121.9,1966.9) scale(1.08,1)">75</text><text transform="translate(121.9,2033) scale(1.08,1)">50</text><text transform="translate(121.9,2097.7) scale(1.08,1)">25</text><text transform="translate(121.9,2163.1) scale(1.08,1)">0</text></g><text transform="translate(76.2,2039.5) rotate(-90)" font-size="24" text-anchor="middle">Yield per plant (g)</text><g font-size="25"><text transform="translate(144.8,2270) rotate(-90)">Y1 (212)</text><text transform="translate(174.5,2270) rotate(-90)">Y2 (750)</text><text transform="translate(203.1,2270) rotate(-90)">Y3 (469)</text><text transform="translate(241,2270) rotate(-90)">Y2 (207)</text><text transform="translate(269.1,2270) rotate(-90)">Y3 (369)</text><text transform="translate(303.1,2270) rotate(-90)">Y2 (54)</text><text transform="translate(333.2,2270) rotate(-90)">Y3 (140)</text><text transform="translate(369.2,2270) rotate(-90)">Y2 (35)</text><text transform="translate(396.4,2270) rotate(-90)">Y3 (50)</text></g>
<g fill="#fff" stroke="#909090" stroke-width="1"><rect x="487.3" y="1886.9" width="79.6" height="277"/><rect x="578.6" y="1886.9" width="52.8" height="277"/><rect x="643.3" y="1886.9" width="52.8" height="277"/><rect x="708.2" y="1886.9" width="53" height="277"/></g><path d="M481.9,1916.2H487.3M481.9,1967.7H487.3M481.9,2019.6H487.3M481.9,2071.4H487.3M481.9,2123.1H487.3" stroke="#222" stroke-width="1.2"/><path d="M502.1,2163.9v5.6M526.6,2163.9v5.6M551.6,2163.9v5.6M592.6,2163.9v5.6M617.1,2163.9v5.6M657.7,2163.9v5.6M682,2163.9v5.6M722.6,2163.9v5.6M746.8,2163.9v5.6" stroke="#222" stroke-width="1.6"/><path d="M502.1,1966.1V2010.8M502.1,2066.6V2114.3M526.6,1927.7V1999.9M526.6,2050.6V2105.4M551.6,1938V1983M551.6,2013.3V2057.4M592.6,1966.5V1993.9M592.6,2014.3V2037M617.1,1961.3V1991.4M617.1,2011.4V2040.9M657.7,1972.9V1999.2M657.7,2026.4V2066.2M682,1945.8V1994.3M682,2028.5V2079.8M722.6,2073.4V2106.2M722.6,2132.6V2148.1M746.8,1998.6V2067.7M746.8,2115.5V2141" stroke="#454545" stroke-width="1.15" fill="none"/><g fill="#fff" fill-opacity="0.6" stroke="#1c1c1c" stroke-width="1.15"><circle cx="526.6" cy="2151.6" r="2.05"/><circle cx="551.6" cy="1899.1" r="2.05"/><circle cx="551.6" cy="1905" r="2.05"/><circle cx="551.6" cy="1911.4" r="2.05"/><circle cx="551.6" cy="1918.6" r="2.05"/><circle cx="551.6" cy="1921.5" r="2.05"/><circle cx="551.6" cy="1924.4" r="2.05"/><circle cx="551.6" cy="1928.3" r="2.05"/><circle cx="551.6" cy="1932.2" r="2.05"/><circle cx="551.6" cy="1935.1" r="2.05"/><circle cx="551.6" cy="1937" r="2.05"/><circle cx="551.6" cy="2059.4" r="2.05"/><circle cx="551.6" cy="2063.3" r="2.05"/><circle cx="551.6" cy="2066.2" r="2.05"/><circle cx="551.6" cy="2069.1" r="2.05"/><circle cx="551.6" cy="2073" r="2.05"/><circle cx="551.6" cy="2074.9" r="2.05"/><circle cx="551.6" cy="2099.2" r="2.05"/><circle cx="551.6" cy="2102.1" r="2.05"/><circle cx="592.6" cy="2044.8" r="2.05"/><circle cx="592.6" cy="2047.7" r="2.05"/><circle cx="592.6" cy="2059.8" r="2.05"/><circle cx="592.6" cy="2063.3" r="2.05"/><circle cx="592.6" cy="2066.8" r="2.05"/><circle cx="592.6" cy="2084.6" r="2.05"/><circle cx="592.6" cy="2086.6" r="2.05"/><circle cx="592.6" cy="2103.5" r="2.05"/><circle cx="592.6" cy="2131.8" r="2.05"/><circle cx="617.1" cy="1921.1" r="2.05"/><circle cx="617.1" cy="1925.4" r="2.05"/><circle cx="617.1" cy="1928.1" r="2.05"/><circle cx="617.1" cy="1930.8" r="2.05"/><circle cx="617.1" cy="1933.5" r="2.05"/><circle cx="617.1" cy="1936.2" r="2.05"/><circle cx="617.1" cy="1939" r="2.05"/><circle cx="617.1" cy="1941.7" r="2.05"/><circle cx="617.1" cy="1944.4" r="2.05"/><circle cx="617.1" cy="1947.1" r="2.05"/><circle cx="617.1" cy="1949.8" r="2.05"/><circle cx="617.1" cy="1952.6" r="2.05"/><circle cx="617.1" cy="1955.3" r="2.05"/><circle cx="617.1" cy="1958" r="2.05"/><circle cx="617.1" cy="2042.5" r="2.05"/><circle cx="617.1" cy="2046.8" r="2.05"/><circle cx="617.1" cy="2050.6" r="2.05"/><circle cx="617.1" cy="2065.2" r="2.05"/><circle cx="617.1" cy="2071.4" r="2.05"/><circle cx="617.1" cy="2093.8" r="2.05"/><circle cx="657.7" cy="2074.5" r="2.05"/><circle cx="657.7" cy="2078.8" r="2.05"/><circle cx="657.7" cy="2080.7" r="2.05"/><circle cx="657.7" cy="2082.3" r="2.05"/><circle cx="682" cy="1935.1" r="2.05"/><circle cx="682" cy="1937" r="2.05"/><circle cx="682" cy="1942.3" r="2.05"/><circle cx="682" cy="2080.7" r="2.05"/><circle cx="682" cy="2082.7" r="2.05"/><circle cx="682" cy="2084.6" r="2.05"/><circle cx="682" cy="2086.6" r="2.05"/><circle cx="682" cy="2088.5" r="2.05"/><circle cx="722.6" cy="1983.2" r="2.05"/></g><rect x="492.8" y="2010.8" width="18.6" height="55.7" fill="#f05a14" stroke="#8a2f06" stroke-width="1.0"/><path d="M492.8,2043.5h18.6" stroke="#4a1a03" stroke-width="2.0"/><rect x="517.2" y="1999.9" width="18.6" height="50.7" fill="#5f75f8" stroke="#2f3fa8" stroke-width="1.0"/><path d="M517.2,2014.5h18.6" stroke="#18236e" stroke-width="2.0"/><rect x="542.3" y="1983" width="18.6" height="30.3" fill="#f1c766" stroke="#6e5413" stroke-width="1.0"/><path d="M542.3,1999.2h18.6" stroke="#40300a" stroke-width="2.0"/><rect x="583.3" y="1993.9" width="18.6" height="20.4" fill="#5f75f8" stroke="#2f3fa8" stroke-width="1.0"/><path d="M583.3,2005.4h18.6" stroke="#18236e" stroke-width="2.0"/><rect x="607.8" y="1991.4" width="18.6" height="20" fill="#f1c766" stroke="#6e5413" stroke-width="1.0"/><path d="M607.8,2000.7h18.6" stroke="#40300a" stroke-width="2.0"/><rect x="648.4" y="1999.2" width="18.6" height="27.2" fill="#5f75f8" stroke="#2f3fa8" stroke-width="1.0"/><path d="M648.4,2009.3h18.6" stroke="#18236e" stroke-width="2.0"/><rect x="672.6" y="1994.3" width="18.6" height="34.2" fill="#f1c766" stroke="#6e5413" stroke-width="1.0"/><path d="M672.6,2006.4h18.6" stroke="#40300a" stroke-width="2.0"/><rect x="713.2" y="2106.2" width="18.6" height="26.4" fill="#5f75f8" stroke="#2f3fa8" stroke-width="1.0"/><path d="M713.2,2122.9h18.6" stroke="#18236e" stroke-width="2.0"/><rect x="737.5" y="2067.7" width="18.6" height="47.8" fill="#f1c766" stroke="#6e5413" stroke-width="1.0"/><path d="M737.5,2096.1h18.6" stroke="#40300a" stroke-width="2.0"/><g fill="#b3203a" stroke="#b3203a" stroke-width="0.25" font-size="22.5" text-anchor="middle"><text x="505.2" y="1904">a</text><text x="529.1" y="1904">b</text><text x="551.4" y="1904">c</text></g><g fill="#b3203a" font-size="13.5" text-anchor="middle"><text x="529.7" y="1883.2">&lt;2.20x10<tspan font-size="8" dy="-5.2">-16</tspan></text><text x="606.8" y="1883.2">1.15x10<tspan font-size="8" dy="-5.2">-3</tspan></text><text x="669.3" y="1883.2">0.51</text><text x="735.6" y="1883.2">7.72x10<tspan font-size="8" dy="-5.2">-4</tspan></text></g><g font-size="23" text-anchor="end"><text transform="translate(480.6,1923.4) scale(1.08,1)">4.0</text><text transform="translate(480.6,1975.3) scale(1.08,1)">3.5</text><text transform="translate(480.6,2027.2) scale(1.08,1)">3.0</text><text transform="translate(480.6,2078.8) scale(1.08,1)">2.5</text><text transform="translate(480.6,2130.7) scale(1.08,1)">2.0</text></g><text transform="translate(436.5,2019.9) rotate(-90)" font-size="24" text-anchor="middle">Grain shape</text><g font-size="25"><text transform="translate(506.8,2269.3) rotate(-90)">Y1 (231)</text><text transform="translate(534,2269.3) rotate(-90)">Y2 (834)</text><text transform="translate(563.1,2269.3) rotate(-90)">Y3 (507)</text><text transform="translate(596.7,2269.3) rotate(-90)">Y2 (226)</text><text transform="translate(624.3,2269.3) rotate(-90)">Y3 (382)</text><text transform="translate(663.1,2269.3) rotate(-90)">Y2 (61)</text><text transform="translate(689.4,2269.3) rotate(-90)">Y3 (150)</text><text transform="translate(729.2,2269.3) rotate(-90)">Y2 (34)</text><text transform="translate(758.3,2269.3) rotate(-90)">Y3 (51)</text></g>
<g fill="#fff" stroke="#909090" stroke-width="1"><rect x="864" y="1884.6" width="85.5" height="278.3"/><rect x="956.7" y="1884.6" width="56.9" height="278.3"/><rect x="1021.4" y="1884.6" width="57.1" height="278.3"/><rect x="1085.5" y="1884.6" width="57.3" height="278.3"/></g><path d="M861.1,1916.6H864M861.1,1975.5H864M861.1,2034.1H864M861.1,2092.8H864M861.1,2151.6H864" stroke="#222" stroke-width="0.8"/><path d="M880,2162.9v4.2M906.8,2162.9v4.2M933.6,2162.9v4.2M972.2,2162.9v4.2M998.4,2162.9v4.2M1036.9,2162.9v4.2M1062.7,2162.9v4.2M1101.2,2162.9v4.2M1127.2,2162.9v4.2" stroke="#222" stroke-width="1.2000000000000002"/><path d="M880,1953.5V1986.7M880,2009.3V2041.9M906.8,1910.8V1981.3M906.8,2029.5V2100.2M933.6,1922.4V2019M933.6,2083.7V2135.7M972.2,1940.9V2002.5M972.2,2074.3V2139M998.4,1974.9V2040.7M998.4,2086V2133.8M1036.9,1952.6V1991.4M1036.9,2039.2V2100.2M1062.7,1964.2V2029.5M1062.7,2077.4V2138M1101.2,2002.5V2036.5M1101.2,2081.7V2100.2M1127.2,1961.7V2024.2M1127.2,2070.3V2091.4" stroke="#6e6e6e" stroke-width="0.9" fill="none"/><g fill="#555" fill-opacity="0.85"><circle cx="880" cy="1939.9" r="1.6"/><circle cx="880" cy="1946.7" r="1.6"/><circle cx="880" cy="1949.6" r="1.6"/><circle cx="880" cy="2047.7" r="1.6"/><circle cx="880" cy="2053.6" r="1.6"/><circle cx="880" cy="2056.5" r="1.6"/><circle cx="880" cy="2059.4" r="1.6"/><circle cx="880" cy="2067.1" r="1.6"/><circle cx="880" cy="2073" r="1.6"/><circle cx="880" cy="2074.9" r="1.6"/><circle cx="880" cy="2080.7" r="1.6"/><circle cx="880" cy="2090.8" r="1.6"/><circle cx="880" cy="2103.1" r="1.6"/><circle cx="906.8" cy="1907.9" r="1.6"/><circle cx="906.8" cy="2102.1" r="1.6"/><circle cx="906.8" cy="2104.2" r="1.6"/><circle cx="906.8" cy="2106.4" r="1.6"/><circle cx="906.8" cy="2108.5" r="1.6"/><circle cx="906.8" cy="2110.7" r="1.6"/><circle cx="906.8" cy="2112.8" r="1.6"/><circle cx="906.8" cy="2114.9" r="1.6"/><circle cx="906.8" cy="2117.1" r="1.6"/><circle cx="906.8" cy="2119.2" r="1.6"/><circle cx="906.8" cy="2121.3" r="1.6"/><circle cx="906.8" cy="2123.5" r="1.6"/><circle cx="906.8" cy="2125.6" r="1.6"/><circle cx="906.8" cy="2127.8" r="1.6"/><circle cx="906.8" cy="2129.9" r="1.6"/><circle cx="906.8" cy="2132" r="1.6"/><circle cx="906.8" cy="2134.2" r="1.6"/><circle cx="998.4" cy="1948.7" r="1.6"/><circle cx="998.4" cy="1950.4" r="1.6"/><circle cx="998.4" cy="1952.2" r="1.6"/><circle cx="998.4" cy="1953.9" r="1.6"/><circle cx="998.4" cy="1955.7" r="1.6"/><circle cx="998.4" cy="1957.4" r="1.6"/><circle cx="998.4" cy="1959.2" r="1.6"/><circle cx="998.4" cy="1960.9" r="1.6"/><circle cx="998.4" cy="1962.7" r="1.6"/><circle cx="998.4" cy="1964.4" r="1.6"/><circle cx="998.4" cy="1966.1" r="1.6"/><circle cx="998.4" cy="1967.9" r="1.6"/><circle cx="998.4" cy="1969.6" r="1.6"/><circle cx="998.4" cy="1971.4" r="1.6"/><circle cx="998.4" cy="1973.1" r="1.6"/><circle cx="1036.9" cy="2111.2" r="1.6"/><circle cx="1036.9" cy="2113.8" r="1.6"/><circle cx="1036.9" cy="2127.9" r="1.6"/><circle cx="1062.7" cy="1956" r="1.6"/><circle cx="1062.7" cy="2150.7" r="1.6"/></g><rect x="869.9" y="1986.7" width="20.2" height="22.5" fill="#f05a14" stroke="#8a2f06" stroke-width="0.8"/><path d="M869.9,1999.2h20.2" stroke="#4a1a03" stroke-width="1.5"/><rect x="896.7" y="1981.3" width="20.2" height="48.2" fill="#5f75f8" stroke="#2f3fa8" stroke-width="0.8"/><path d="M896.7,2000.3h20.2" stroke="#18236e" stroke-width="1.5"/><rect x="923.5" y="2019" width="20.2" height="64.7" fill="#f1c766" stroke="#6e5413" stroke-width="0.8"/><path d="M923.5,2061.3h20.2" stroke="#40300a" stroke-width="1.5"/><rect x="962.1" y="2002.5" width="20.2" height="71.9" fill="#5f75f8" stroke="#2f3fa8" stroke-width="0.8"/><path d="M962.1,2048.3h20.2" stroke="#18236e" stroke-width="1.5"/><rect x="988.3" y="2040.7" width="20.2" height="45.3" fill="#f1c766" stroke="#6e5413" stroke-width="0.8"/><path d="M988.3,2067.1h20.2" stroke="#40300a" stroke-width="1.5"/><rect x="1026.8" y="1991.4" width="20.2" height="47.8" fill="#5f75f8" stroke="#2f3fa8" stroke-width="0.8"/><path d="M1026.8,2006h20.2" stroke="#18236e" stroke-width="1.5"/><rect x="1052.6" y="2029.5" width="20.2" height="48" fill="#f1c766" stroke="#6e5413" stroke-width="0.8"/><path d="M1052.6,2054.9h20.2" stroke="#40300a" stroke-width="1.5"/><rect x="1091.1" y="2036.5" width="20.2" height="45.3" fill="#5f75f8" stroke="#2f3fa8" stroke-width="0.8"/><path d="M1091.1,2051.6h20.2" stroke="#18236e" stroke-width="1.5"/><rect x="1117.1" y="2024.2" width="20.2" height="46" fill="#f1c766" stroke="#6e5413" stroke-width="0.8"/><path d="M1117.1,2048.3h20.2" stroke="#40300a" stroke-width="1.5"/><g fill="#b3203a" stroke="#b3203a" stroke-width="0.25" font-size="22.5" text-anchor="middle"><text x="880" y="1902">a</text><text x="908.7" y="1902">a</text><text x="933.4" y="1902">b</text></g><g fill="#b3203a" font-size="13.5" text-anchor="middle"><text x="907.2" y="1880.7">&lt;2.20x10<tspan font-size="8" dy="-5.2">-16</tspan></text><text x="984.5" y="1880.7">1.25x10<tspan font-size="8" dy="-5.2">-5</tspan></text><text x="1049.9" y="1880.7">1.25x10<tspan font-size="8" dy="-5.2">-6</tspan></text><text x="1114.6" y="1880.7">0.037</text></g><g font-size="23" text-anchor="end"><text x="857" y="1925.4">30</text><text x="857" y="1983.7">25</text><text x="857" y="2042.5">20</text><text x="857" y="2101.2">15</text><text x="857" y="2159.4">10</text></g><text transform="translate(814.3,2031.4) rotate(-90)" font-size="24" text-anchor="middle">Amylose content</text><g font-size="25"><text transform="translate(885.8,2265.8) rotate(-90)">Y1 (233)</text><text transform="translate(913,2265.8) rotate(-90)">Y2 (836)</text><text transform="translate(940.6,2265.8) rotate(-90)">Y3 (505)</text><text transform="translate(979,2265.8) rotate(-90)">Y2 (226)</text><text transform="translate(1004.7,2265.8) rotate(-90)">Y3 (382)</text><text transform="translate(1045.1,2265.8) rotate(-90)">Y2 (61)</text><text transform="translate(1072.3,2265.8) rotate(-90)">Y3 (149)</text><text transform="translate(1107.2,2265.8) rotate(-90)">Y2 (33)</text><text transform="translate(1134.8,2265.8) rotate(-90)">Y3 (51)</text></g>
<g fill="#fff" stroke="#909090" stroke-width="1"><rect x="1225.4" y="1887.1" width="78.7" height="272.9"/><rect x="1315.1" y="1887.1" width="52.1" height="272.9"/><rect x="1378.5" y="1887.1" width="52.2" height="272.9"/><rect x="1441.6" y="1887.1" width="52.4" height="272.9"/></g><path d="M1220.2,1899.5H1225.4M1220.2,1970.4H1225.4M1220.2,2040.9H1225.4M1220.2,2111.8H1225.4" stroke="#222" stroke-width="1.2"/><path d="M1240.2,2160v5.6M1264.6,2160v5.6M1289.1,2160v5.6M1329.3,2160v5.6M1353.2,2160v5.6M1392.6,2160v5.6M1416.5,2160v5.6M1456.3,2160v5.6M1479.6,2160v5.6" stroke="#222" stroke-width="1.6"/><path d="M1240.2,1920.9V1996.8M1240.2,2094.3V2147.8M1264.6,1904V1963.4M1264.6,2083.9V2147.8M1289.1,1911.8V1940.1M1289.1,1988.1V2058.4M1329.3,1899.7V1949.1M1329.3,1996.8V2068.1M1353.2,1899.7V1935.5M1353.2,1970.4V2021.5M1392.6,1905V1993.3M1392.6,2119.2V2147.8M1416.5,1906.9V1939M1416.5,2041.3V2119.6M1456.3,1899.7V1938.4M1456.3,1983.2V2023.4M1479.6,1913.7V1934.9M1479.6,1952.6V1973.9" stroke="#454545" stroke-width="1.15" fill="none"/><g fill="#fff" fill-opacity="0.6" stroke="#1c1c1c" stroke-width="1.15"><circle cx="1289.1" cy="2065.2" r="2.05"/><circle cx="1289.1" cy="2067.9" r="2.05"/><circle cx="1289.1" cy="2070.6" r="2.05"/><circle cx="1289.1" cy="2073.4" r="2.05"/><circle cx="1289.1" cy="2076.1" r="2.05"/><circle cx="1289.1" cy="2078.8" r="2.05"/><circle cx="1289.1" cy="2081.5" r="2.05"/><circle cx="1289.1" cy="2084.2" r="2.05"/><circle cx="1289.1" cy="2087" r="2.05"/><circle cx="1289.1" cy="2089.7" r="2.05"/><circle cx="1289.1" cy="2092.4" r="2.05"/><circle cx="1289.1" cy="2095.1" r="2.05"/><circle cx="1289.1" cy="2097.8" r="2.05"/><circle cx="1289.1" cy="2100.6" r="2.05"/><circle cx="1289.1" cy="2103.3" r="2.05"/><circle cx="1289.1" cy="2106" r="2.05"/><circle cx="1289.1" cy="2117.7" r="2.05"/><circle cx="1289.1" cy="2126.4" r="2.05"/><circle cx="1289.1" cy="2130.3" r="2.05"/><circle cx="1289.1" cy="2137.1" r="2.05"/><circle cx="1289.1" cy="2147.8" r="2.05"/><circle cx="1329.3" cy="2069.7" r="2.05"/><circle cx="1329.3" cy="2077.8" r="2.05"/><circle cx="1329.3" cy="2085.2" r="2.05"/><circle cx="1329.3" cy="2091.4" r="2.05"/><circle cx="1329.3" cy="2096.3" r="2.05"/><circle cx="1329.3" cy="2102.1" r="2.05"/><circle cx="1329.3" cy="2111.8" r="2.05"/><circle cx="1329.3" cy="2118.6" r="2.05"/><circle cx="1329.3" cy="2123.5" r="2.05"/><circle cx="1329.3" cy="2129.3" r="2.05"/><circle cx="1329.3" cy="2140.4" r="2.05"/><circle cx="1329.3" cy="2147.8" r="2.05"/><circle cx="1353.2" cy="2024.4" r="2.05"/><circle cx="1353.2" cy="2031.2" r="2.05"/><circle cx="1353.2" cy="2041.5" r="2.05"/><circle cx="1353.2" cy="2044.8" r="2.05"/><circle cx="1353.2" cy="2050.6" r="2.05"/><circle cx="1353.2" cy="2054.5" r="2.05"/><circle cx="1353.2" cy="2058.4" r="2.05"/><circle cx="1353.2" cy="2066.2" r="2.05"/><circle cx="1353.2" cy="2070.1" r="2.05"/><circle cx="1353.2" cy="2073.9" r="2.05"/><circle cx="1353.2" cy="2079.8" r="2.05"/><circle cx="1353.2" cy="2085.2" r="2.05"/><circle cx="1353.2" cy="2090.5" r="2.05"/><circle cx="1353.2" cy="2096.3" r="2.05"/><circle cx="1353.2" cy="2112.2" r="2.05"/><circle cx="1353.2" cy="2121" r="2.05"/><circle cx="1353.2" cy="2129.9" r="2.05"/><circle cx="1353.2" cy="2140.4" r="2.05"/><circle cx="1456.3" cy="2058.8" r="2.05"/><circle cx="1456.3" cy="2083.9" r="2.05"/><circle cx="1456.3" cy="2129.9" r="2.05"/><circle cx="1479.6" cy="1981.1" r="2.05"/><circle cx="1479.6" cy="1982.7" r="2.05"/></g><rect x="1231" y="1996.8" width="18.3" height="97.5" fill="#f05a14" stroke="#8a2f06" stroke-width="1.0"/><path d="M1231,2057h18.3" stroke="#4a1a03" stroke-width="2.0"/><rect x="1255.5" y="1963.4" width="18.3" height="120.4" fill="#5f75f8" stroke="#2f3fa8" stroke-width="1.0"/><path d="M1255.5,2023.4h18.3" stroke="#18236e" stroke-width="2.0"/><rect x="1280" y="1940.1" width="18.3" height="48" fill="#f1c766" stroke="#6e5413" stroke-width="1.0"/><path d="M1280,1955.9h18.3" stroke="#40300a" stroke-width="2.0"/><rect x="1320.2" y="1949.1" width="18.3" height="47.8" fill="#5f75f8" stroke="#2f3fa8" stroke-width="1.0"/><path d="M1320.2,1966.5h18.3" stroke="#18236e" stroke-width="2.0"/><rect x="1344.1" y="1935.5" width="18.3" height="35" fill="#f1c766" stroke="#6e5413" stroke-width="1.0"/><path d="M1344.1,1952.6h18.3" stroke="#40300a" stroke-width="2.0"/><rect x="1383.5" y="1993.3" width="18.3" height="125.9" fill="#5f75f8" stroke="#2f3fa8" stroke-width="1.0"/><path d="M1383.5,2062.5h18.3" stroke="#18236e" stroke-width="2.0"/><rect x="1407.4" y="1939" width="18.3" height="102.4" fill="#f1c766" stroke="#6e5413" stroke-width="1.0"/><path d="M1407.4,1959.5h18.3" stroke="#40300a" stroke-width="2.0"/><rect x="1447.2" y="1938.4" width="18.3" height="44.9" fill="#5f75f8" stroke="#2f3fa8" stroke-width="1.0"/><path d="M1447.2,1968.7h18.3" stroke="#18236e" stroke-width="2.0"/><rect x="1470.5" y="1934.9" width="18.3" height="17.7" fill="#f1c766" stroke="#6e5413" stroke-width="1.0"/><path d="M1470.5,1943.6h18.3" stroke="#40300a" stroke-width="2.0"/><g fill="#b3203a" stroke="#b3203a" stroke-width="0.25" font-size="22.5" text-anchor="middle"><text x="1242.9" y="1903">a</text><text x="1267.2" y="1903">b</text><text x="1289.1" y="1903">c</text></g><g fill="#b3203a" font-size="13.5" text-anchor="middle"><text x="1269.7" y="1883.6">&lt;2.20x10<tspan font-size="8" dy="-5.2">-16</tspan></text><text x="1342.5" y="1883.6">7.85x10<tspan font-size="8" dy="-5.2">-7</tspan></text><text x="1404.1" y="1883.6">3.31x10<tspan font-size="8" dy="-5.2">-9</tspan></text><text x="1469.5" y="1883.6">7.57x10<tspan font-size="8" dy="-5.2">-4</tspan></text></g><g font-size="23" text-anchor="end"><text x="1216.5" y="1906.9">100</text><text x="1216.5" y="1977.8">80</text><text x="1216.5" y="2048.7">60</text><text x="1216.5" y="2119.6">40</text></g><text transform="translate(1176.2,2035.8) rotate(-90)" font-size="24" text-anchor="middle">Gel consistency</text><g font-size="25"><text transform="translate(1246.2,2266.8) rotate(-90)">Y1 (233)</text><text transform="translate(1270.1,2266.8) rotate(-90)">Y2 (838)</text><text transform="translate(1295.3,2266.8) rotate(-90)">Y3 (506)</text><text transform="translate(1331.3,2266.8) rotate(-90)">Y2 (226)</text><text transform="translate(1359.4,2266.8) rotate(-90)">Y3 (382)</text><text transform="translate(1396.7,2266.8) rotate(-90)">Y2 (61)</text><text transform="translate(1424.5,2266.8) rotate(-90)">Y3 (150)</text><text transform="translate(1461,2266.8) rotate(-90)">Y2 (34)</text><text transform="translate(1488.2,2266.8) rotate(-90)">Y3 (51)</text></g>
<g fill="#fff" stroke="#909090" stroke-width="1"><rect x="1593.5" y="1884" width="86.2" height="278.3"/><rect x="1686.4" y="1884" width="57.3" height="278.3"/><rect x="1750.7" y="1884" width="57.3" height="278.3"/><rect x="1815" y="1884" width="57.3" height="278.3"/></g><path d="M1590.6,1896.2H1593.5M1590.6,1960.7H1593.5M1590.6,2024.8H1593.5M1590.6,2089.1H1593.5M1590.6,2153.2H1593.5" stroke="#222" stroke-width="0.8"/><path d="M1609.8,2162.3v4.2M1636.6,2162.3v4.2M1663.4,2162.3v4.2M1702.1,2162.3v4.2M1728.1,2162.3v4.2M1766.6,2162.3v4.2M1792.6,2162.3v4.2M1830.9,2162.3v4.2M1856.9,2162.3v4.2" stroke="#222" stroke-width="1.2000000000000002"/><path d="M1609.8,1952.6V2029.7M1609.8,2085.2V2133.2M1636.6,1982.7V2054.3M1636.6,2103.1V2149.7M1663.4,2057.4V2096.7M1663.4,2124.3V2149.3M1702.1,2061.3V2095.3M1702.1,2119.2V2146.4M1728.1,2069.1V2100.8M1728.1,2123.7V2145.8M1766.6,1934.1V2026.4M1766.6,2098.6V2127.9M1792.6,1947.3V2024.2M1792.6,2121.9V2140M1830.9,2047.3V2083.9M1830.9,2119.8V2144.8M1856.9,2078.2V2103.5M1856.9,2124.3V2143.9" stroke="#6e6e6e" stroke-width="0.9" fill="none"/><g fill="#555" fill-opacity="0.85"><circle cx="1609.8" cy="1913.3" r="1.6"/><circle cx="1636.6" cy="1928.9" r="1.6"/><circle cx="1636.6" cy="1941.9" r="1.6"/><circle cx="1636.6" cy="1944" r="1.6"/><circle cx="1636.6" cy="1946.1" r="1.6"/><circle cx="1636.6" cy="1948.3" r="1.6"/><circle cx="1636.6" cy="1950.4" r="1.6"/><circle cx="1636.6" cy="1952.6" r="1.6"/><circle cx="1636.6" cy="1954.7" r="1.6"/><circle cx="1636.6" cy="1956.8" r="1.6"/><circle cx="1636.6" cy="1959" r="1.6"/><circle cx="1636.6" cy="1961.1" r="1.6"/><circle cx="1636.6" cy="1963.2" r="1.6"/><circle cx="1636.6" cy="1965.4" r="1.6"/><circle cx="1636.6" cy="1967.5" r="1.6"/><circle cx="1636.6" cy="1969.6" r="1.6"/><circle cx="1636.6" cy="1971.8" r="1.6"/><circle cx="1636.6" cy="1973.9" r="1.6"/><circle cx="1636.6" cy="1976.1" r="1.6"/><circle cx="1636.6" cy="1978.2" r="1.6"/><circle cx="1636.6" cy="1980.3" r="1.6"/><circle cx="1663.4" cy="1935.1" r="1.6"/><circle cx="1663.4" cy="1940.9" r="1.6"/><circle cx="1663.4" cy="1974.3" r="1.6"/><circle cx="1663.4" cy="1984.6" r="1.6"/><circle cx="1663.4" cy="1991.4" r="1.6"/><circle cx="1663.4" cy="2005" r="1.6"/><circle cx="1663.4" cy="2009.8" r="1.6"/><circle cx="1663.4" cy="2012.2" r="1.6"/><circle cx="1663.4" cy="2014.5" r="1.6"/><circle cx="1663.4" cy="2016.8" r="1.6"/><circle cx="1663.4" cy="2019.2" r="1.6"/><circle cx="1663.4" cy="2021.5" r="1.6"/><circle cx="1663.4" cy="2031.2" r="1.6"/><circle cx="1663.4" cy="2036.7" r="1.6"/><circle cx="1663.4" cy="2039" r="1.6"/><circle cx="1663.4" cy="2041.3" r="1.6"/><circle cx="1663.4" cy="2043.6" r="1.6"/><circle cx="1663.4" cy="2046" r="1.6"/><circle cx="1663.4" cy="2048.3" r="1.6"/><circle cx="1663.4" cy="2050.6" r="1.6"/><circle cx="1663.4" cy="2053" r="1.6"/><circle cx="1663.4" cy="2055.3" r="1.6"/><circle cx="1702.1" cy="1902" r="1.6"/><circle cx="1702.1" cy="2022.5" r="1.6"/><circle cx="1702.1" cy="2025.4" r="1.6"/><circle cx="1702.1" cy="2031.2" r="1.6"/><circle cx="1702.1" cy="2039" r="1.6"/><circle cx="1702.1" cy="2044.2" r="1.6"/><circle cx="1702.1" cy="2049.7" r="1.6"/><circle cx="1702.1" cy="2053.6" r="1.6"/><circle cx="1702.1" cy="2056.5" r="1.6"/><circle cx="1702.1" cy="2059.4" r="1.6"/><circle cx="1728.1" cy="1896.6" r="1.6"/><circle cx="1728.1" cy="2014.3" r="1.6"/><circle cx="1728.1" cy="2038" r="1.6"/><circle cx="1728.1" cy="2040.9" r="1.6"/><circle cx="1728.1" cy="2047.7" r="1.6"/><circle cx="1728.1" cy="2056.5" r="1.6"/><circle cx="1728.1" cy="2058.4" r="1.6"/><circle cx="1728.1" cy="2060.4" r="1.6"/><circle cx="1728.1" cy="2062.3" r="1.6"/><circle cx="1728.1" cy="2064.2" r="1.6"/><circle cx="1728.1" cy="2066.2" r="1.6"/><circle cx="1830.9" cy="1920.1" r="1.6"/><circle cx="1830.9" cy="2020.1" r="1.6"/><circle cx="1830.9" cy="2021.5" r="1.6"/><circle cx="1830.9" cy="2025.8" r="1.6"/><circle cx="1856.9" cy="2020.9" r="1.6"/><circle cx="1856.9" cy="2031.4" r="1.6"/><circle cx="1856.9" cy="2066.6" r="1.6"/></g><rect x="1599.7" y="2029.7" width="20.2" height="55.6" fill="#f05a14" stroke="#8a2f06" stroke-width="0.8"/><path d="M1599.7,2062.7h20.2" stroke="#4a1a03" stroke-width="1.5"/><rect x="1626.5" y="2054.3" width="20.2" height="48.8" fill="#5f75f8" stroke="#2f3fa8" stroke-width="0.8"/><path d="M1626.5,2081.3h20.2" stroke="#18236e" stroke-width="1.5"/><rect x="1653.3" y="2096.7" width="20.2" height="27.6" fill="#f1c766" stroke="#6e5413" stroke-width="0.8"/><path d="M1653.3,2112.4h20.2" stroke="#40300a" stroke-width="1.5"/><rect x="1692" y="2095.3" width="20.2" height="23.9" fill="#5f75f8" stroke="#2f3fa8" stroke-width="0.8"/><path d="M1692,2107.4h20.2" stroke="#18236e" stroke-width="1.5"/><rect x="1718" y="2100.8" width="20.2" height="22.9" fill="#f1c766" stroke="#6e5413" stroke-width="0.8"/><path d="M1718,2112.4h20.2" stroke="#40300a" stroke-width="1.5"/><rect x="1756.5" y="2026.4" width="20.2" height="72.3" fill="#5f75f8" stroke="#2f3fa8" stroke-width="0.8"/><path d="M1756.5,2078.2h20.2" stroke="#18236e" stroke-width="1.5"/><rect x="1782.5" y="2024.2" width="20.2" height="97.7" fill="#f1c766" stroke="#6e5413" stroke-width="0.8"/><path d="M1782.5,2105.8h20.2" stroke="#40300a" stroke-width="1.5"/><rect x="1820.8" y="2083.9" width="20.2" height="35.9" fill="#5f75f8" stroke="#2f3fa8" stroke-width="0.8"/><path d="M1820.8,2100.4h20.2" stroke="#18236e" stroke-width="1.5"/><rect x="1846.8" y="2103.5" width="20.2" height="20.8" fill="#f1c766" stroke="#6e5413" stroke-width="0.8"/><path d="M1846.8,2114.2h20.2" stroke="#40300a" stroke-width="1.5"/><g fill="#b3203a" stroke="#b3203a" stroke-width="0.25" font-size="22.5" text-anchor="middle"><text x="1612.2" y="1903">a</text><text x="1638.8" y="1903">b</text><text x="1665" y="1903">c</text></g><g fill="#b3203a" font-size="13.5" text-anchor="middle"><text x="1640.7" y="1880.7">&lt;2.20x10<tspan font-size="8" dy="-5.2">-16</tspan></text><text x="1713.6" y="1880.7">2.03x10<tspan font-size="8" dy="-5.2">-3</tspan></text><text x="1780.2" y="1880.7">0.050</text><text x="1843.1" y="1880.7">0.023</text></g><g font-size="23" text-anchor="end"><text transform="translate(1588,1904) scale(1.05,1)">100</text><text transform="translate(1588,1968.9) scale(1.05,1)">75</text><text transform="translate(1588,2033.2) scale(1.05,1)">50</text><text transform="translate(1588,2097.3) scale(1.05,1)">25</text><text transform="translate(1588,2161.4) scale(1.05,1)">0</text></g><text transform="translate(1540.2,2024.7) rotate(-90) scale(1.019,1)" font-size="24" text-anchor="middle">Chalky grain percentage (%)</text><g font-size="25"><text transform="translate(1614.9,2265.4) rotate(-90)">Y1 (231)</text><text transform="translate(1642.7,2265.4) rotate(-90)">Y2 (834)</text><text transform="translate(1669.9,2265.4) rotate(-90)">Y3 (507)</text><text transform="translate(1707.7,2265.4) rotate(-90)">Y2 (226)</text><text transform="translate(1735.9,2265.4) rotate(-90)">Y3 (382)</text><text transform="translate(1770.9,2265.4) rotate(-90)">Y2 (61)</text><text transform="translate(1799,2265.4) rotate(-90)">Y3 (150)</text><text transform="translate(1838.9,2265.4) rotate(-90)">Y2 (34)</text><text transform="translate(1867,2265.4) rotate(-90)">Y3 (51)</text></g>
<g fill="#fff" stroke="#909090" stroke-width="1"><rect x="128.8" y="2315.4" width="86" height="278.7"/><rect x="221.5" y="2315.4" width="57.1" height="278.7"/><rect x="285.8" y="2315.4" width="57.3" height="278.7"/><rect x="350.3" y="2315.4" width="57.3" height="278.7"/></g><path d="M125.9,2376H128.8M125.9,2444.9H128.8M125.9,2513.9H128.8M125.9,2582.9H128.8" stroke="#222" stroke-width="0.8"/><path d="M145,2594.1v4.2M171.6,2594.1v4.2M198.4,2594.1v4.2M237.4,2594.1v4.2M263.4,2594.1v4.2M301.9,2594.1v4.2M327.7,2594.1v4.2M366,2594.1v4.2M392,2594.1v4.2" stroke="#222" stroke-width="1.2000000000000002"/><path d="M145,2425.5V2490.8M145,2535.3V2573.7M171.6,2448.4V2507.5M171.6,2547.5V2581.5M198.4,2499.9V2537.4M198.4,2561.7V2579.6M237.4,2507.7V2538.4M237.4,2559.2V2577.6M263.4,2518.4V2544.2M263.4,2561.5V2577M301.9,2328.4V2448.3M301.9,2537.8V2570.2M327.7,2356.6V2472.1M327.7,2559.4V2573.7M366,2484.8V2524.2M366,2559.4V2576.1M392,2522.6V2545M392,2563.6V2576.6" stroke="#6e6e6e" stroke-width="0.9" fill="none"/><g fill="#555" fill-opacity="0.85"><circle cx="145" cy="2345.9" r="1.6"/><circle cx="145" cy="2365.5" r="1.6"/><circle cx="145" cy="2372.1" r="1.6"/><circle cx="145" cy="2391.7" r="1.6"/><circle cx="171.6" cy="2342.6" r="1.6"/><circle cx="171.6" cy="2361.6" r="1.6"/><circle cx="171.6" cy="2365.3" r="1.6"/><circle cx="171.6" cy="2370.4" r="1.6"/><circle cx="171.6" cy="2408.2" r="1.6"/><circle cx="171.6" cy="2419.3" r="1.6"/><circle cx="171.6" cy="2423.2" r="1.6"/><circle cx="171.6" cy="2427.1" r="1.6"/><circle cx="171.6" cy="2429.2" r="1.6"/><circle cx="171.6" cy="2431.4" r="1.6"/><circle cx="171.6" cy="2433.5" r="1.6"/><circle cx="171.6" cy="2435.6" r="1.6"/><circle cx="171.6" cy="2437.8" r="1.6"/><circle cx="171.6" cy="2439.9" r="1.6"/><circle cx="171.6" cy="2442" r="1.6"/><circle cx="171.6" cy="2444.2" r="1.6"/><circle cx="171.6" cy="2446.3" r="1.6"/><circle cx="198.4" cy="2394.1" r="1.6"/><circle cx="198.4" cy="2421.3" r="1.6"/><circle cx="198.4" cy="2432.9" r="1.6"/><circle cx="198.4" cy="2434.8" r="1.6"/><circle cx="198.4" cy="2442.2" r="1.6"/><circle cx="198.4" cy="2447.1" r="1.6"/><circle cx="198.4" cy="2459.5" r="1.6"/><circle cx="198.4" cy="2466.3" r="1.6"/><circle cx="198.4" cy="2471.4" r="1.6"/><circle cx="198.4" cy="2474.7" r="1.6"/><circle cx="198.4" cy="2478.6" r="1.6"/><circle cx="198.4" cy="2482.4" r="1.6"/><circle cx="198.4" cy="2486.3" r="1.6"/><circle cx="198.4" cy="2489.2" r="1.6"/><circle cx="198.4" cy="2496" r="1.6"/><circle cx="198.4" cy="2498" r="1.6"/><circle cx="237.4" cy="2461.1" r="1.6"/><circle cx="237.4" cy="2463" r="1.6"/><circle cx="237.4" cy="2483.4" r="1.6"/><circle cx="237.4" cy="2485" r="1.6"/><circle cx="237.4" cy="2489.2" r="1.6"/><circle cx="237.4" cy="2495.1" r="1.6"/><circle cx="237.4" cy="2501.9" r="1.6"/><circle cx="237.4" cy="2503.8" r="1.6"/><circle cx="237.4" cy="2505.7" r="1.6"/><circle cx="263.4" cy="2445.5" r="1.6"/><circle cx="263.4" cy="2462.2" r="1.6"/><circle cx="263.4" cy="2473.7" r="1.6"/><circle cx="263.4" cy="2477.6" r="1.6"/><circle cx="263.4" cy="2482.4" r="1.6"/><circle cx="263.4" cy="2483.8" r="1.6"/><circle cx="263.4" cy="2489.2" r="1.6"/><circle cx="263.4" cy="2492.1" r="1.6"/><circle cx="263.4" cy="2494.1" r="1.6"/><circle cx="263.4" cy="2498.9" r="1.6"/><circle cx="263.4" cy="2506.7" r="1.6"/><circle cx="263.4" cy="2508.7" r="1.6"/><circle cx="263.4" cy="2510.6" r="1.6"/><circle cx="263.4" cy="2512.5" r="1.6"/><circle cx="263.4" cy="2514.5" r="1.6"/><circle cx="263.4" cy="2516.4" r="1.6"/><circle cx="366" cy="2361" r="1.6"/><circle cx="366" cy="2362.6" r="1.6"/><circle cx="366" cy="2434.5" r="1.6"/><circle cx="392" cy="2487.3" r="1.6"/><circle cx="392" cy="2493.1" r="1.6"/></g><rect x="134.9" y="2490.8" width="20.2" height="44.5" fill="#f05a14" stroke="#8a2f06" stroke-width="0.8"/><path d="M134.9,2517h20.2" stroke="#4a1a03" stroke-width="1.5"/><rect x="161.5" y="2507.5" width="20.2" height="40" fill="#5f75f8" stroke="#2f3fa8" stroke-width="0.8"/><path d="M161.5,2529.6h20.2" stroke="#18236e" stroke-width="1.5"/><rect x="188.3" y="2537.4" width="20.2" height="24.3" fill="#f1c766" stroke="#6e5413" stroke-width="0.8"/><path d="M188.3,2552.4h20.2" stroke="#40300a" stroke-width="1.5"/><rect x="227.3" y="2538.4" width="20.2" height="20.8" fill="#5f75f8" stroke="#2f3fa8" stroke-width="0.8"/><path d="M227.3,2550.4h20.2" stroke="#18236e" stroke-width="1.5"/><rect x="253.3" y="2544.2" width="20.2" height="17.3" fill="#f1c766" stroke="#6e5413" stroke-width="0.8"/><path d="M253.3,2553.1h20.2" stroke="#40300a" stroke-width="1.5"/><rect x="291.8" y="2448.3" width="20.2" height="89.5" fill="#5f75f8" stroke="#2f3fa8" stroke-width="0.8"/><path d="M291.8,2513.9h20.2" stroke="#18236e" stroke-width="1.5"/><rect x="317.6" y="2472.1" width="20.2" height="87.2" fill="#f1c766" stroke="#6e5413" stroke-width="0.8"/><path d="M317.6,2546.3h20.2" stroke="#40300a" stroke-width="1.5"/><rect x="355.9" y="2524.2" width="20.2" height="35.2" fill="#5f75f8" stroke="#2f3fa8" stroke-width="0.8"/><path d="M355.9,2543h20.2" stroke="#18236e" stroke-width="1.5"/><rect x="381.9" y="2545" width="20.2" height="18.6" fill="#f1c766" stroke="#6e5413" stroke-width="0.8"/><path d="M381.9,2553.5h20.2" stroke="#40300a" stroke-width="1.5"/><g fill="#b3203a" stroke="#b3203a" stroke-width="0.25" font-size="22.5" text-anchor="middle"><text x="143.6" y="2332.9">a</text><text x="172.2" y="2332.9">b</text><text x="200.3" y="2332.9">c</text></g><g fill="#b3203a" font-size="13.5" text-anchor="middle"><text x="171.8" y="2312.9">&lt;2.20x10<tspan font-size="8" dy="-5.2">-16</tspan></text><text x="248.3" y="2312.9">0.010</text><text x="317.2" y="2312.9">0.026</text><text x="380" y="2312.9">0.020</text></g><g font-size="23" text-anchor="end"><text transform="translate(122.3,2386.3) scale(1.05,1)">30</text><text transform="translate(122.3,2454.9) scale(1.05,1)">20</text><text transform="translate(122.3,2522.3) scale(1.05,1)">10</text><text transform="translate(122.3,2589.9) scale(1.05,1)">0</text></g><text transform="translate(80.5,2473.5) rotate(-90)" font-size="24" text-anchor="middle">Chalkiness</text><g font-size="25"><text transform="translate(153.7,2698.5) rotate(-90)">Y1 (231)</text><text transform="translate(179,2698.5) rotate(-90)">Y2 (829)</text><text transform="translate(208.1,2698.5) rotate(-90)">Y3 (506)</text><text transform="translate(245,2698.5) rotate(-90)">Y2 (225)</text><text transform="translate(273.2,2698.5) rotate(-90)">Y3 (381)</text><text transform="translate(308.1,2698.5) rotate(-90)">Y2 (61)</text><text transform="translate(336.3,2698.5) rotate(-90)">Y3 (150)</text><text transform="translate(373.2,2698.5) rotate(-90)">Y2 (34)</text><text transform="translate(401.4,2698.5) rotate(-90)">Y3 (51)</text></g>
<rect x="493" y="2322.3" width="24" height="19.2" fill="#329b56"/><rect x="493" y="2341.5" width="24" height="145.1" fill="#71b474"/><rect x="493" y="2486.6" width="24" height="95" fill="#b7d294"/><rect x="493" y="2581.6" width="24" height="12.4" fill="#f0f0cd"/><rect x="521.9" y="2322.3" width="22.6" height="8.6" fill="#329b56"/><rect x="521.9" y="2330.9" width="22.6" height="135.5" fill="#71b474"/><rect x="521.9" y="2466.4" width="22.6" height="119.2" fill="#b7d294"/><rect x="521.9" y="2585.6" width="22.6" height="8.4" fill="#f0f0cd"/><rect x="549.5" y="2322.3" width="23.2" height="3.6" fill="#329b56"/><rect x="549.5" y="2325.9" width="23.2" height="69.1" fill="#71b474"/><rect x="549.5" y="2395" width="23.2" height="177" fill="#b7d294"/><rect x="549.5" y="2572" width="23.2" height="22" fill="#f0f0cd"/><rect x="584.4" y="2322.3" width="23.5" height="1.6" fill="#329b56"/><rect x="584.4" y="2323.9" width="23.5" height="66.4" fill="#71b474"/><rect x="584.4" y="2390.3" width="23.5" height="191.3" fill="#b7d294"/><rect x="584.4" y="2581.6" width="23.5" height="12.4" fill="#f0f0cd"/><rect x="612.6" y="2322.3" width="23.2" height="0.9" fill="#329b56"/><rect x="612.6" y="2323.2" width="23.2" height="45.2" fill="#71b474"/><rect x="612.6" y="2368.4" width="23.2" height="183" fill="#b7d294"/><rect x="612.6" y="2551.4" width="23.2" height="42.6" fill="#f0f0cd"/><rect x="649.8" y="2322.3" width="24.2" height="67.4" fill="#329b56"/><rect x="649.8" y="2389.7" width="24.2" height="112.9" fill="#71b474"/><rect x="649.8" y="2502.6" width="24.2" height="81.4" fill="#b7d294"/><rect x="649.8" y="2584" width="24.2" height="10" fill="#f0f0cd"/><rect x="679" y="2322.3" width="24.9" height="71.4" fill="#329b56"/><rect x="679" y="2393.7" width="24.9" height="45.8" fill="#71b474"/><rect x="679" y="2439.5" width="24.9" height="117.2" fill="#b7d294"/><rect x="679" y="2556.7" width="24.9" height="37.3" fill="#f0f0cd"/><rect x="716.2" y="2322.3" width="25.3" height="16.2" fill="#186f3b"/><rect x="716.2" y="2338.5" width="25.3" height="32.2" fill="#71b474"/><rect x="716.2" y="2370.7" width="25.3" height="24.3" fill="#b7d294"/><rect x="716.2" y="2395" width="25.3" height="199" fill="#f0f0cd"/><rect x="746.4" y="2322.3" width="24.9" height="5.3" fill="#71b474"/><rect x="746.4" y="2327.6" width="24.9" height="69.7" fill="#b7d294"/><rect x="746.4" y="2397.3" width="24.9" height="196.7" fill="#f0f0cd"/><path d="M490.7,2321.4V2597.2M487.09999999999997,2323.2H490.7M487.09999999999997,2378H490.7M487.09999999999997,2432.8H490.7M487.09999999999997,2487.6H490.7M487.09999999999997,2542.4H490.7M487.09999999999997,2596.6H490.7" stroke="#000" stroke-width="2.3" fill="none"/><path d="M489.6,2597.1H575.9M489.6,2596V2602M518.6,2596V2602M547.7,2596V2602M575.9,2596V2602M580.7,2597.1H638M580.7,2596V2602M610.2,2596V2602M638,2596V2602M645.8,2597.1H706M645.8,2596V2602M676.9,2596V2602M706,2596V2602M712.8,2597.1H774M712.8,2596V2602M743.9,2596V2602M774,2596V2602" stroke="#000" stroke-width="2.3" fill="none" stroke-linecap="square"/><g font-size="24" text-anchor="end"><text x="482.4" y="2369.4">100</text><text x="482.4" y="2414.9">80</text><text x="482.4" y="2461.4">60</text><text x="482.4" y="2507.9">40</text><text x="482.4" y="2554.4">20</text><text x="482.4" y="2600.9">0</text></g><text transform="translate(440.6,2457) rotate(-90) scale(1.025,1)" font-size="24" text-anchor="middle">Percentage (%)</text><g font-size="25"><text transform="translate(511.2,2707) rotate(-90)">Y1 (231)</text><text transform="translate(540.3,2707) rotate(-90)">Y2 (834)</text><text transform="translate(571.4,2707) rotate(-90)">Y3 (507)</text><text transform="translate(606.9,2707) rotate(-90)">Y2 (226)</text><text transform="translate(635.1,2707) rotate(-90)">Y3 (382)</text><text transform="translate(672,2707) rotate(-90)">Y2 (61)</text><text transform="translate(700.2,2707) rotate(-90)">Y3 (150)</text><text transform="translate(741.9,2707) rotate(-90)">Y2 (34)</text><text transform="translate(770.1,2707) rotate(-90)">Y3 (51)</text></g><rect x="835.8" y="2363.1" width="49.8" height="20.6" fill="#f0f0cd"/><text x="903.2" y="2382" font-size="24" text-anchor="middle">1</text><rect x="835.8" y="2400.6" width="49.8" height="20.6" fill="#b7d294"/><text x="903.2" y="2419.5" font-size="24" text-anchor="middle">2</text><rect x="835.8" y="2437.8" width="49.8" height="20.6" fill="#71b474"/><text x="903.2" y="2456.7" font-size="24" text-anchor="middle">3</text><rect x="835.8" y="2475" width="49.8" height="20.9" fill="#329b56"/><text x="903.2" y="2494" font-size="24" text-anchor="middle">4</text><rect x="835.8" y="2512.6" width="49.8" height="20.5" fill="#186f3b"/><text x="903.2" y="2531.4" font-size="24" text-anchor="middle">5</text><text transform="translate(820.2,2452) rotate(-90) scale(1.018,1)" font-size="24" text-anchor="middle">Grain translucency level</text></g>
<g font-weight="bold" font-size="34" fill="#111"><text x="-1" y="21.5">a</text><text x="-1.5" y="368">b</text><text x="0.8" y="882">c</text></g>
</svg>
</body></html>
